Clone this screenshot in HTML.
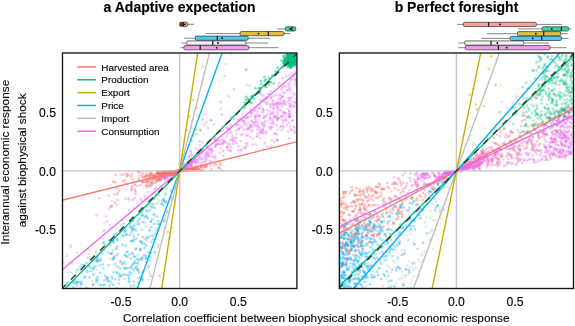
<!DOCTYPE html>
<html><head><meta charset="utf-8"><style>
html,body{margin:0;padding:0;background:#fff;}
svg{display:block;will-change:transform;font-family:"Liberation Sans",sans-serif;}
text{stroke:#000;stroke-width:0.12px;}
.p circle{r:1.35px;}
</style></head><body>
<svg width="575" height="326" viewBox="0 0 575 326">
<defs><filter id="soft" x="0" y="0" width="100%" height="100%"><feGaussianBlur stdDeviation="0.3"/></filter></defs>
<rect width="575" height="326" fill="#fff"/>
<text x="179.6" y="12.0" font-size="14" font-weight="bold" text-anchor="middle">a Adaptive expectation</text>
<text x="456.5" y="12.0" font-size="14" font-weight="bold" text-anchor="middle">b Perfect foresight</text>
<clipPath id="clipL"><rect x="62.5" y="53.0" width="234.40" height="235.50"/></clipPath>
<g clip-path="url(#clipL)">
<g class="p" filter="url(#soft)"><g fill="#BEBEBE" fill-opacity="0.45"><circle cx="174.4" cy="188.7"/><circle cx="113.5" cy="285.3"/><circle cx="92.8" cy="284.6"/><circle cx="149.4" cy="230.6"/><circle cx="92.2" cy="281.0"/><circle cx="120.4" cy="231.7"/><circle cx="81.6" cy="264.3"/><circle cx="186.4" cy="164.0"/><circle cx="197.3" cy="115.5"/><circle cx="145.1" cy="238.8"/><circle cx="73.8" cy="283.1"/><circle cx="94.1" cy="283.3"/><circle cx="131.1" cy="258.1"/><circle cx="154.2" cy="203.9"/><circle cx="87.8" cy="271.8"/><circle cx="145.5" cy="258.8"/><circle cx="137.8" cy="270.3"/><circle cx="87.0" cy="249.6"/><circle cx="165.7" cy="201.5"/><circle cx="125.4" cy="216.4"/><circle cx="148.0" cy="206.7"/><circle cx="138.0" cy="223.8"/><circle cx="69.4" cy="264.2"/><circle cx="80.5" cy="287.5"/><circle cx="246.5" cy="84.8"/><circle cx="159.5" cy="245.2"/><circle cx="155.0" cy="208.0"/><circle cx="195.6" cy="148.2"/><circle cx="103.4" cy="238.8"/><circle cx="135.7" cy="249.4"/><circle cx="128.8" cy="278.5"/><circle cx="70.6" cy="245.5"/><circle cx="117.5" cy="266.2"/><circle cx="190.0" cy="132.0"/><circle cx="137.8" cy="255.1"/><circle cx="148.5" cy="265.9"/><circle cx="188.7" cy="137.4"/><circle cx="87.4" cy="257.9"/><circle cx="125.6" cy="268.2"/><circle cx="122.5" cy="236.8"/><circle cx="67.1" cy="255.9"/><circle cx="109.9" cy="281.6"/><circle cx="136.6" cy="224.5"/><circle cx="107.9" cy="280.9"/><circle cx="132.8" cy="234.6"/><circle cx="95.9" cy="251.0"/><circle cx="165.4" cy="192.7"/><circle cx="170.9" cy="190.8"/><circle cx="96.4" cy="253.3"/><circle cx="157.5" cy="203.4"/><circle cx="131.1" cy="285.0"/><circle cx="118.2" cy="253.5"/><circle cx="88.5" cy="254.5"/><circle cx="133.5" cy="239.5"/><circle cx="158.9" cy="195.3"/><circle cx="152.0" cy="203.7"/><circle cx="68.2" cy="272.3"/><circle cx="142.8" cy="259.8"/><circle cx="113.4" cy="238.9"/><circle cx="130.4" cy="227.4"/><circle cx="111.4" cy="253.9"/><circle cx="117.4" cy="234.1"/><circle cx="145.0" cy="199.3"/><circle cx="138.4" cy="278.2"/><circle cx="148.7" cy="255.5"/><circle cx="102.6" cy="243.2"/><circle cx="191.5" cy="126.6"/><circle cx="156.4" cy="189.1"/><circle cx="113.1" cy="238.4"/><circle cx="110.1" cy="282.9"/><circle cx="146.4" cy="240.3"/><circle cx="130.2" cy="232.9"/><circle cx="154.7" cy="192.6"/><circle cx="141.8" cy="200.7"/><circle cx="119.4" cy="233.2"/><circle cx="151.0" cy="276.0"/><circle cx="146.1" cy="198.3"/><circle cx="131.1" cy="241.1"/><circle cx="96.6" cy="270.0"/><circle cx="102.4" cy="254.3"/><circle cx="164.1" cy="199.6"/><circle cx="126.2" cy="256.9"/><circle cx="92.0" cy="260.3"/><circle cx="74.8" cy="281.7"/><circle cx="76.2" cy="272.0"/><circle cx="71.1" cy="272.6"/><circle cx="93.8" cy="266.9"/><circle cx="143.0" cy="237.4"/><circle cx="164.0" cy="221.2"/><circle cx="149.7" cy="273.3"/><circle cx="63.2" cy="262.3"/><circle cx="119.7" cy="276.5"/><circle cx="70.9" cy="247.2"/><circle cx="104.4" cy="250.6"/><circle cx="204.7" cy="125.4"/><circle cx="111.4" cy="228.1"/><circle cx="203.1" cy="66.7"/><circle cx="152.9" cy="204.5"/><circle cx="185.3" cy="153.0"/><circle cx="77.1" cy="252.6"/><circle cx="141.3" cy="258.8"/><circle cx="104.5" cy="223.0"/><circle cx="71.9" cy="263.1"/><circle cx="146.0" cy="238.8"/><circle cx="187.5" cy="161.8"/><circle cx="117.1" cy="266.8"/><circle cx="89.7" cy="250.1"/><circle cx="145.4" cy="244.9"/><circle cx="156.1" cy="187.7"/><circle cx="110.8" cy="281.3"/><circle cx="170.3" cy="199.5"/><circle cx="142.8" cy="236.9"/><circle cx="158.8" cy="200.6"/><circle cx="99.6" cy="284.6"/><circle cx="189.0" cy="133.3"/><circle cx="98.0" cy="283.3"/><circle cx="156.8" cy="228.9"/><circle cx="118.9" cy="276.4"/><circle cx="184.0" cy="166.4"/><circle cx="133.4" cy="208.0"/><circle cx="137.8" cy="269.6"/><circle cx="249.4" cy="85.6"/><circle cx="148.4" cy="280.0"/><circle cx="230.5" cy="54.1"/><circle cx="220.8" cy="108.9"/><circle cx="130.9" cy="227.5"/><circle cx="165.9" cy="201.4"/><circle cx="122.0" cy="220.0"/><circle cx="119.5" cy="231.8"/><circle cx="110.1" cy="258.4"/><circle cx="155.9" cy="238.2"/><circle cx="167.0" cy="212.7"/><circle cx="131.8" cy="268.7"/><circle cx="125.7" cy="264.1"/><circle cx="112.7" cy="250.4"/><circle cx="165.9" cy="216.0"/><circle cx="141.1" cy="259.9"/><circle cx="150.7" cy="276.2"/><circle cx="137.4" cy="262.8"/><circle cx="225.8" cy="63.9"/><circle cx="158.1" cy="247.2"/><circle cx="191.2" cy="128.7"/><circle cx="130.2" cy="258.9"/><circle cx="132.3" cy="252.6"/><circle cx="157.0" cy="223.6"/><circle cx="115.9" cy="248.0"/><circle cx="166.3" cy="188.7"/><circle cx="113.3" cy="257.5"/><circle cx="151.7" cy="199.3"/><circle cx="129.3" cy="267.8"/><circle cx="146.4" cy="226.3"/><circle cx="144.9" cy="222.7"/><circle cx="124.5" cy="278.8"/><circle cx="155.0" cy="252.3"/><circle cx="138.5" cy="219.9"/><circle cx="103.2" cy="230.8"/><circle cx="141.7" cy="258.0"/><circle cx="80.1" cy="270.5"/><circle cx="130.4" cy="286.3"/><circle cx="171.2" cy="191.2"/><circle cx="99.8" cy="260.2"/></g><g fill="#C9A800" fill-opacity="0.45"><circle cx="196.3" cy="134.1"/><circle cx="167.2" cy="211.6"/><circle cx="192.5" cy="135.2"/><circle cx="159.6" cy="275.8"/><circle cx="171.9" cy="227.6"/><circle cx="164.3" cy="221.3"/><circle cx="196.3" cy="107.8"/><circle cx="204.1" cy="73.1"/><circle cx="193.3" cy="100.1"/><circle cx="183.9" cy="157.9"/><circle cx="189.4" cy="116.3"/><circle cx="195.9" cy="129.9"/><circle cx="167.6" cy="231.9"/><circle cx="186.6" cy="130.1"/><circle cx="220.9" cy="102.2"/><circle cx="169.5" cy="237.8"/></g><g fill="#00B0F6" fill-opacity="0.36"><circle cx="133.1" cy="221.2"/><circle cx="102.7" cy="264.5"/><circle cx="129.9" cy="226.2"/><circle cx="99.9" cy="265.5"/><circle cx="109.5" cy="286.1"/><circle cx="124.8" cy="254.9"/><circle cx="97.4" cy="277.2"/><circle cx="82.9" cy="265.4"/><circle cx="138.0" cy="234.6"/><circle cx="146.3" cy="210.6"/><circle cx="139.8" cy="248.6"/><circle cx="147.8" cy="218.2"/><circle cx="159.2" cy="224.2"/><circle cx="113.2" cy="241.1"/><circle cx="164.1" cy="200.8"/><circle cx="139.6" cy="212.4"/><circle cx="100.1" cy="272.8"/><circle cx="129.8" cy="235.3"/><circle cx="117.1" cy="246.5"/><circle cx="132.3" cy="226.8"/><circle cx="142.5" cy="215.1"/><circle cx="151.2" cy="221.6"/><circle cx="127.4" cy="251.7"/><circle cx="144.0" cy="255.3"/><circle cx="146.1" cy="206.3"/><circle cx="132.6" cy="253.9"/><circle cx="84.6" cy="265.2"/><circle cx="127.2" cy="275.0"/><circle cx="162.2" cy="203.9"/><circle cx="84.5" cy="277.9"/><circle cx="136.2" cy="230.5"/><circle cx="155.1" cy="252.5"/><circle cx="125.3" cy="230.3"/><circle cx="151.4" cy="242.0"/><circle cx="75.2" cy="283.7"/><circle cx="188.8" cy="156.6"/><circle cx="133.5" cy="270.1"/><circle cx="135.9" cy="248.7"/><circle cx="142.5" cy="208.8"/><circle cx="113.8" cy="234.6"/><circle cx="144.4" cy="243.8"/><circle cx="146.0" cy="257.7"/><circle cx="100.9" cy="259.0"/><circle cx="136.8" cy="266.3"/><circle cx="112.1" cy="253.3"/><circle cx="97.6" cy="280.2"/><circle cx="110.5" cy="253.9"/><circle cx="191.6" cy="140.7"/><circle cx="113.5" cy="242.6"/><circle cx="103.8" cy="242.2"/><circle cx="116.4" cy="233.7"/><circle cx="153.6" cy="207.4"/><circle cx="77.0" cy="285.6"/><circle cx="90.9" cy="270.9"/><circle cx="137.7" cy="263.5"/><circle cx="107.5" cy="277.6"/><circle cx="163.6" cy="205.6"/><circle cx="115.0" cy="235.7"/><circle cx="106.9" cy="277.8"/><circle cx="125.5" cy="245.7"/><circle cx="146.6" cy="246.0"/><circle cx="117.1" cy="273.1"/><circle cx="130.9" cy="267.5"/><circle cx="117.7" cy="240.3"/><circle cx="114.2" cy="258.2"/><circle cx="127.6" cy="256.6"/><circle cx="146.8" cy="261.9"/><circle cx="126.4" cy="234.6"/><circle cx="101.4" cy="251.8"/><circle cx="119.0" cy="273.5"/><circle cx="166.7" cy="203.0"/><circle cx="200.6" cy="130.1"/><circle cx="142.7" cy="215.9"/><circle cx="119.0" cy="283.6"/><circle cx="137.6" cy="287.4"/><circle cx="139.3" cy="224.2"/><circle cx="90.2" cy="267.6"/><circle cx="77.2" cy="281.9"/><circle cx="154.1" cy="224.2"/><circle cx="136.2" cy="238.7"/><circle cx="139.8" cy="218.7"/><circle cx="125.0" cy="227.7"/><circle cx="114.2" cy="256.7"/><circle cx="137.2" cy="258.9"/><circle cx="157.0" cy="234.1"/><circle cx="108.7" cy="265.1"/><circle cx="131.2" cy="240.7"/><circle cx="132.3" cy="220.3"/><circle cx="115.4" cy="279.4"/><circle cx="141.8" cy="242.0"/><circle cx="116.6" cy="272.0"/><circle cx="125.1" cy="268.7"/><circle cx="146.2" cy="258.5"/><circle cx="124.5" cy="231.9"/><circle cx="104.9" cy="244.6"/><circle cx="123.0" cy="263.2"/><circle cx="116.6" cy="249.0"/><circle cx="152.3" cy="219.4"/><circle cx="97.1" cy="258.7"/><circle cx="165.2" cy="194.6"/><circle cx="149.5" cy="204.3"/><circle cx="165.1" cy="227.8"/><circle cx="150.3" cy="256.9"/><circle cx="153.2" cy="239.2"/><circle cx="140.8" cy="242.1"/><circle cx="129.1" cy="280.7"/><circle cx="132.6" cy="228.8"/><circle cx="132.5" cy="229.4"/><circle cx="119.0" cy="279.5"/><circle cx="86.6" cy="263.2"/><circle cx="137.9" cy="269.7"/><circle cx="153.7" cy="198.7"/><circle cx="93.3" cy="274.4"/><circle cx="109.8" cy="243.2"/><circle cx="86.3" cy="287.5"/><circle cx="151.3" cy="207.6"/><circle cx="123.8" cy="223.6"/><circle cx="132.8" cy="264.7"/><circle cx="159.2" cy="224.5"/><circle cx="94.0" cy="260.3"/><circle cx="146.8" cy="216.5"/><circle cx="138.3" cy="282.5"/><circle cx="104.3" cy="280.4"/><circle cx="134.9" cy="263.2"/><circle cx="96.4" cy="281.3"/><circle cx="202.7" cy="119.4"/><circle cx="129.0" cy="275.2"/><circle cx="142.5" cy="257.6"/><circle cx="124.8" cy="231.1"/><circle cx="140.3" cy="276.9"/><circle cx="111.7" cy="241.1"/><circle cx="139.9" cy="259.3"/><circle cx="92.9" cy="268.6"/><circle cx="142.1" cy="280.3"/><circle cx="142.8" cy="222.0"/><circle cx="132.6" cy="241.3"/><circle cx="76.9" cy="282.4"/><circle cx="133.9" cy="240.4"/><circle cx="105.2" cy="276.0"/><circle cx="100.9" cy="285.2"/><circle cx="112.6" cy="259.8"/><circle cx="117.0" cy="287.9"/><circle cx="161.3" cy="204.2"/><circle cx="90.1" cy="259.1"/><circle cx="148.6" cy="237.4"/><circle cx="133.8" cy="281.6"/><circle cx="134.2" cy="225.7"/><circle cx="144.6" cy="248.0"/><circle cx="138.2" cy="260.1"/><circle cx="141.4" cy="213.8"/><circle cx="141.4" cy="211.3"/><circle cx="145.7" cy="255.8"/><circle cx="112.6" cy="284.3"/><circle cx="67.6" cy="282.3"/><circle cx="88.9" cy="265.7"/><circle cx="199.7" cy="141.4"/><circle cx="146.9" cy="237.4"/><circle cx="134.7" cy="260.8"/><circle cx="113.8" cy="272.4"/><circle cx="122.2" cy="264.7"/><circle cx="164.5" cy="219.5"/><circle cx="131.7" cy="265.8"/><circle cx="116.9" cy="255.4"/><circle cx="104.7" cy="284.8"/><circle cx="162.4" cy="200.3"/><circle cx="151.0" cy="253.0"/><circle cx="96.5" cy="260.9"/><circle cx="120.3" cy="275.0"/><circle cx="77.4" cy="269.9"/><circle cx="163.5" cy="199.1"/><circle cx="124.8" cy="274.7"/><circle cx="145.8" cy="215.6"/><circle cx="142.2" cy="208.5"/><circle cx="151.0" cy="227.2"/><circle cx="133.8" cy="237.0"/><circle cx="126.5" cy="252.0"/><circle cx="125.5" cy="255.4"/><circle cx="123.0" cy="274.5"/><circle cx="97.6" cy="261.3"/><circle cx="109.4" cy="245.0"/><circle cx="136.6" cy="268.7"/><circle cx="164.1" cy="202.1"/><circle cx="126.4" cy="234.4"/><circle cx="132.2" cy="231.5"/><circle cx="140.7" cy="250.1"/><circle cx="80.8" cy="284.4"/><circle cx="122.7" cy="234.8"/><circle cx="149.7" cy="210.2"/><circle cx="93.0" cy="285.1"/><circle cx="211.7" cy="120.7"/><circle cx="155.7" cy="233.7"/><circle cx="170.4" cy="197.3"/><circle cx="120.1" cy="268.4"/><circle cx="147.5" cy="211.5"/><circle cx="112.7" cy="278.5"/><circle cx="138.9" cy="272.4"/><circle cx="145.1" cy="217.1"/><circle cx="121.3" cy="276.2"/><circle cx="154.0" cy="214.0"/><circle cx="156.2" cy="230.6"/><circle cx="129.6" cy="254.5"/><circle cx="124.4" cy="236.0"/><circle cx="103.4" cy="268.1"/><circle cx="148.6" cy="266.8"/><circle cx="134.8" cy="267.8"/><circle cx="97.2" cy="256.8"/><circle cx="131.2" cy="273.7"/><circle cx="158.3" cy="221.3"/><circle cx="140.1" cy="241.0"/><circle cx="74.4" cy="280.4"/><circle cx="116.9" cy="238.7"/><circle cx="95.6" cy="266.7"/><circle cx="80.6" cy="267.2"/><circle cx="73.4" cy="287.4"/><circle cx="109.0" cy="240.3"/><circle cx="133.1" cy="229.2"/><circle cx="124.4" cy="261.9"/><circle cx="124.5" cy="267.9"/><circle cx="81.6" cy="281.6"/><circle cx="72.6" cy="282.4"/><circle cx="103.4" cy="285.1"/><circle cx="128.8" cy="282.4"/><circle cx="142.1" cy="272.5"/><circle cx="134.1" cy="256.6"/><circle cx="120.6" cy="262.4"/><circle cx="151.4" cy="206.2"/><circle cx="111.7" cy="276.9"/><circle cx="127.4" cy="268.0"/><circle cx="129.8" cy="272.2"/><circle cx="130.5" cy="223.4"/><circle cx="108.0" cy="252.7"/><circle cx="172.5" cy="198.7"/><circle cx="135.2" cy="257.0"/><circle cx="148.4" cy="252.4"/><circle cx="79.5" cy="282.2"/><circle cx="142.1" cy="229.6"/><circle cx="149.7" cy="230.0"/><circle cx="112.9" cy="240.7"/><circle cx="142.2" cy="279.6"/><circle cx="85.0" cy="276.7"/><circle cx="106.7" cy="278.9"/><circle cx="87.1" cy="271.5"/><circle cx="96.6" cy="257.3"/><circle cx="157.0" cy="216.6"/><circle cx="120.4" cy="261.0"/><circle cx="140.4" cy="249.7"/><circle cx="149.7" cy="260.5"/><circle cx="75.4" cy="275.7"/><circle cx="128.8" cy="277.7"/><circle cx="97.9" cy="260.1"/><circle cx="156.8" cy="194.4"/><circle cx="150.9" cy="235.8"/><circle cx="111.1" cy="241.1"/><circle cx="133.8" cy="285.9"/><circle cx="100.4" cy="260.8"/><circle cx="122.3" cy="244.9"/><circle cx="81.4" cy="283.9"/><circle cx="93.5" cy="268.6"/><circle cx="115.0" cy="263.9"/><circle cx="96.4" cy="279.5"/><circle cx="137.6" cy="221.5"/><circle cx="134.9" cy="229.6"/><circle cx="158.8" cy="228.2"/><circle cx="246.1" cy="69.9"/><circle cx="168.6" cy="213.0"/><circle cx="89.5" cy="277.4"/><circle cx="107.9" cy="280.7"/><circle cx="142.1" cy="243.2"/><circle cx="142.0" cy="278.2"/><circle cx="153.2" cy="235.8"/><circle cx="150.8" cy="221.8"/><circle cx="97.0" cy="261.1"/><circle cx="67.0" cy="284.2"/><circle cx="77.4" cy="282.7"/><circle cx="113.5" cy="258.7"/><circle cx="133.8" cy="263.0"/><circle cx="153.9" cy="215.5"/></g><g fill="#F8766D" fill-opacity="0.4"><circle cx="194.8" cy="169.8"/><circle cx="178.0" cy="171.3"/><circle cx="170.0" cy="174.0"/><circle cx="145.8" cy="181.4"/><circle cx="168.7" cy="171.9"/><circle cx="148.5" cy="181.8"/><circle cx="161.0" cy="176.1"/><circle cx="173.8" cy="172.4"/><circle cx="174.4" cy="172.0"/><circle cx="188.9" cy="170.7"/><circle cx="160.1" cy="175.4"/><circle cx="162.2" cy="177.1"/><circle cx="148.1" cy="179.0"/><circle cx="138.4" cy="181.5"/><circle cx="191.9" cy="169.3"/><circle cx="146.3" cy="175.0"/><circle cx="178.6" cy="171.2"/><circle cx="121.4" cy="174.8"/><circle cx="187.4" cy="170.6"/><circle cx="175.3" cy="171.8"/><circle cx="193.2" cy="169.7"/><circle cx="173.6" cy="173.7"/><circle cx="164.0" cy="178.1"/><circle cx="127.3" cy="184.2"/><circle cx="181.2" cy="170.8"/><circle cx="153.6" cy="179.1"/><circle cx="181.9" cy="170.9"/><circle cx="162.7" cy="174.3"/><circle cx="171.7" cy="171.8"/><circle cx="171.8" cy="174.1"/><circle cx="166.8" cy="172.2"/><circle cx="184.8" cy="170.6"/><circle cx="159.2" cy="179.3"/><circle cx="176.0" cy="171.3"/><circle cx="176.8" cy="171.5"/><circle cx="220.5" cy="163.5"/><circle cx="163.6" cy="174.0"/><circle cx="132.1" cy="174.0"/><circle cx="169.8" cy="172.2"/><circle cx="164.5" cy="171.7"/><circle cx="164.8" cy="172.2"/><circle cx="156.7" cy="177.4"/><circle cx="172.0" cy="171.6"/><circle cx="170.7" cy="171.9"/><circle cx="164.4" cy="173.7"/><circle cx="174.5" cy="173.3"/><circle cx="172.4" cy="171.7"/><circle cx="169.3" cy="172.6"/><circle cx="168.3" cy="173.1"/><circle cx="183.8" cy="170.6"/><circle cx="178.5" cy="171.2"/><circle cx="167.1" cy="173.3"/><circle cx="177.3" cy="171.1"/><circle cx="157.0" cy="176.7"/><circle cx="185.7" cy="170.4"/><circle cx="195.0" cy="168.8"/><circle cx="176.6" cy="172.0"/><circle cx="164.7" cy="173.6"/><circle cx="146.2" cy="186.2"/><circle cx="169.5" cy="173.2"/><circle cx="175.9" cy="171.9"/><circle cx="168.7" cy="172.4"/><circle cx="162.6" cy="172.6"/><circle cx="124.5" cy="180.4"/><circle cx="178.4" cy="171.0"/><circle cx="157.4" cy="172.6"/><circle cx="177.8" cy="171.0"/><circle cx="190.5" cy="168.5"/><circle cx="170.4" cy="172.1"/><circle cx="171.0" cy="171.2"/><circle cx="183.2" cy="170.3"/><circle cx="155.2" cy="178.6"/><circle cx="180.7" cy="170.7"/><circle cx="163.0" cy="176.8"/><circle cx="185.7" cy="170.6"/><circle cx="147.9" cy="181.9"/><circle cx="186.8" cy="170.6"/><circle cx="178.7" cy="171.0"/><circle cx="141.9" cy="181.8"/><circle cx="178.0" cy="171.2"/><circle cx="178.7" cy="171.2"/><circle cx="147.2" cy="187.4"/><circle cx="178.7" cy="171.0"/><circle cx="178.8" cy="171.1"/><circle cx="187.7" cy="169.8"/><circle cx="131.7" cy="190.0"/><circle cx="158.5" cy="181.0"/><circle cx="169.5" cy="171.2"/><circle cx="172.4" cy="172.3"/><circle cx="196.4" cy="169.5"/><circle cx="134.7" cy="183.9"/><circle cx="178.9" cy="171.1"/><circle cx="181.1" cy="170.7"/><circle cx="154.3" cy="176.3"/><circle cx="173.8" cy="172.1"/><circle cx="131.5" cy="189.2"/><circle cx="175.0" cy="171.4"/><circle cx="178.4" cy="171.5"/><circle cx="164.3" cy="172.1"/><circle cx="175.9" cy="171.3"/><circle cx="178.6" cy="171.1"/><circle cx="178.4" cy="171.4"/><circle cx="151.2" cy="173.7"/><circle cx="178.1" cy="171.3"/><circle cx="166.7" cy="174.1"/><circle cx="196.7" cy="169.5"/><circle cx="160.0" cy="178.3"/><circle cx="187.3" cy="170.0"/><circle cx="143.4" cy="173.3"/><circle cx="202.5" cy="170.1"/><circle cx="175.3" cy="171.3"/><circle cx="183.8" cy="170.2"/><circle cx="178.7" cy="171.0"/><circle cx="192.6" cy="170.2"/><circle cx="161.8" cy="171.5"/><circle cx="169.8" cy="175.1"/><circle cx="184.0" cy="170.6"/><circle cx="178.4" cy="171.2"/><circle cx="183.0" cy="170.5"/><circle cx="192.5" cy="169.2"/><circle cx="184.4" cy="170.0"/><circle cx="125.7" cy="198.7"/><circle cx="171.9" cy="172.9"/><circle cx="179.0" cy="171.0"/><circle cx="170.6" cy="173.0"/><circle cx="153.3" cy="176.4"/><circle cx="167.0" cy="171.9"/><circle cx="175.2" cy="171.5"/><circle cx="174.7" cy="173.3"/><circle cx="167.5" cy="172.8"/><circle cx="124.0" cy="174.7"/><circle cx="145.9" cy="175.7"/><circle cx="138.9" cy="178.7"/><circle cx="169.8" cy="172.1"/><circle cx="173.4" cy="171.1"/><circle cx="169.4" cy="174.4"/><circle cx="186.1" cy="170.0"/><circle cx="145.4" cy="181.5"/><circle cx="174.4" cy="172.0"/><circle cx="179.2" cy="171.0"/><circle cx="177.3" cy="171.8"/><circle cx="175.8" cy="171.9"/><circle cx="171.5" cy="173.5"/><circle cx="158.9" cy="174.1"/><circle cx="185.6" cy="170.3"/><circle cx="179.1" cy="171.0"/><circle cx="178.6" cy="171.4"/><circle cx="175.5" cy="172.4"/><circle cx="173.7" cy="171.9"/><circle cx="180.1" cy="170.9"/><circle cx="197.7" cy="170.2"/><circle cx="172.7" cy="172.8"/><circle cx="164.9" cy="171.9"/><circle cx="169.6" cy="175.8"/><circle cx="184.9" cy="170.4"/><circle cx="152.2" cy="180.3"/><circle cx="114.6" cy="194.3"/><circle cx="139.5" cy="175.8"/><circle cx="152.2" cy="182.5"/><circle cx="176.5" cy="171.5"/><circle cx="180.7" cy="170.8"/><circle cx="180.8" cy="170.8"/><circle cx="177.5" cy="171.1"/><circle cx="148.3" cy="179.3"/><circle cx="161.9" cy="174.3"/><circle cx="169.8" cy="174.7"/><circle cx="175.8" cy="171.6"/><circle cx="150.6" cy="176.9"/><circle cx="173.6" cy="171.3"/><circle cx="175.2" cy="171.3"/><circle cx="159.3" cy="172.5"/><circle cx="199.1" cy="169.2"/><circle cx="168.7" cy="173.4"/><circle cx="110.3" cy="206.9"/><circle cx="155.3" cy="176.3"/><circle cx="177.1" cy="171.0"/><circle cx="178.8" cy="171.0"/><circle cx="160.8" cy="173.6"/><circle cx="164.9" cy="174.1"/><circle cx="176.7" cy="171.5"/><circle cx="168.0" cy="172.1"/><circle cx="185.9" cy="170.5"/><circle cx="193.0" cy="169.9"/><circle cx="175.3" cy="172.0"/><circle cx="175.4" cy="172.4"/><circle cx="151.1" cy="179.1"/><circle cx="174.4" cy="171.3"/><circle cx="158.8" cy="173.6"/><circle cx="191.5" cy="168.9"/><circle cx="166.6" cy="171.7"/><circle cx="165.5" cy="172.5"/><circle cx="149.6" cy="186.1"/><circle cx="201.0" cy="170.5"/><circle cx="158.5" cy="173.0"/><circle cx="174.0" cy="171.7"/><circle cx="176.1" cy="172.2"/><circle cx="182.9" cy="170.8"/><circle cx="163.0" cy="172.8"/><circle cx="164.4" cy="171.5"/><circle cx="147.2" cy="182.5"/><circle cx="189.4" cy="169.7"/><circle cx="165.6" cy="171.2"/><circle cx="146.2" cy="177.5"/><circle cx="191.5" cy="170.7"/><circle cx="200.1" cy="170.6"/><circle cx="182.8" cy="170.5"/><circle cx="173.9" cy="172.6"/><circle cx="172.3" cy="172.9"/><circle cx="162.4" cy="173.6"/><circle cx="119.1" cy="190.9"/><circle cx="117.9" cy="200.2"/><circle cx="156.1" cy="173.8"/><circle cx="128.1" cy="175.2"/><circle cx="149.8" cy="175.1"/><circle cx="143.2" cy="182.4"/><circle cx="161.7" cy="176.5"/><circle cx="183.4" cy="170.5"/><circle cx="170.3" cy="172.4"/><circle cx="171.1" cy="173.9"/><circle cx="172.5" cy="172.2"/><circle cx="194.2" cy="168.9"/><circle cx="165.1" cy="175.2"/><circle cx="147.0" cy="172.1"/><circle cx="154.6" cy="175.0"/><circle cx="165.6" cy="173.8"/><circle cx="173.8" cy="172.2"/><circle cx="158.2" cy="171.4"/><circle cx="174.0" cy="171.5"/><circle cx="192.7" cy="169.3"/><circle cx="164.3" cy="173.7"/><circle cx="173.8" cy="172.6"/><circle cx="151.3" cy="183.5"/><circle cx="204.2" cy="165.9"/><circle cx="175.4" cy="171.2"/><circle cx="159.2" cy="178.8"/><circle cx="205.5" cy="167.1"/><circle cx="195.0" cy="167.4"/><circle cx="177.9" cy="171.0"/><circle cx="177.2" cy="171.4"/><circle cx="183.0" cy="170.5"/><circle cx="173.5" cy="173.9"/><circle cx="168.0" cy="173.8"/><circle cx="157.3" cy="172.5"/><circle cx="177.5" cy="171.9"/><circle cx="164.6" cy="171.8"/><circle cx="193.6" cy="170.4"/><circle cx="164.4" cy="178.1"/><circle cx="182.3" cy="170.6"/><circle cx="152.5" cy="175.8"/><circle cx="158.3" cy="174.4"/><circle cx="182.6" cy="170.8"/><circle cx="144.0" cy="176.9"/><circle cx="176.0" cy="172.7"/><circle cx="173.5" cy="173.9"/><circle cx="210.6" cy="165.6"/><circle cx="146.7" cy="185.3"/><circle cx="181.9" cy="170.9"/><circle cx="199.0" cy="170.0"/><circle cx="169.8" cy="173.1"/><circle cx="168.0" cy="172.1"/><circle cx="201.2" cy="166.8"/><circle cx="174.2" cy="172.8"/><circle cx="171.4" cy="174.1"/><circle cx="157.2" cy="179.2"/><circle cx="197.1" cy="170.3"/><circle cx="184.6" cy="169.7"/><circle cx="187.7" cy="170.1"/><circle cx="115.7" cy="174.6"/><circle cx="172.4" cy="171.7"/><circle cx="218.3" cy="161.8"/><circle cx="165.2" cy="178.1"/><circle cx="185.8" cy="169.5"/><circle cx="171.2" cy="172.0"/><circle cx="151.7" cy="181.9"/><circle cx="183.6" cy="170.1"/><circle cx="176.9" cy="171.4"/><circle cx="194.0" cy="168.6"/><circle cx="169.2" cy="171.6"/><circle cx="182.9" cy="170.5"/><circle cx="157.9" cy="174.0"/><circle cx="174.0" cy="173.6"/><circle cx="176.7" cy="171.3"/><circle cx="156.1" cy="177.9"/><circle cx="161.3" cy="175.7"/><circle cx="176.6" cy="171.2"/><circle cx="214.9" cy="162.7"/><circle cx="177.7" cy="171.3"/><circle cx="159.2" cy="179.2"/><circle cx="158.2" cy="177.0"/><circle cx="172.7" cy="171.4"/><circle cx="130.9" cy="177.6"/><circle cx="170.5" cy="171.4"/><circle cx="171.2" cy="172.0"/><circle cx="126.9" cy="176.7"/><circle cx="176.7" cy="171.1"/><circle cx="164.8" cy="173.5"/><circle cx="163.9" cy="173.2"/><circle cx="115.4" cy="182.2"/><circle cx="171.3" cy="172.3"/><circle cx="167.5" cy="174.2"/><circle cx="169.8" cy="172.0"/><circle cx="191.2" cy="169.9"/><circle cx="167.4" cy="176.7"/><circle cx="193.5" cy="168.8"/><circle cx="149.2" cy="174.2"/><circle cx="149.5" cy="176.9"/><circle cx="138.1" cy="180.1"/><circle cx="165.4" cy="172.6"/><circle cx="166.6" cy="173.9"/><circle cx="175.7" cy="172.0"/><circle cx="169.3" cy="173.5"/><circle cx="169.9" cy="171.6"/><circle cx="116.6" cy="188.3"/><circle cx="174.1" cy="171.9"/><circle cx="159.4" cy="179.1"/><circle cx="185.0" cy="170.1"/><circle cx="166.0" cy="174.6"/><circle cx="148.9" cy="176.4"/><circle cx="180.9" cy="170.6"/><circle cx="177.4" cy="171.4"/><circle cx="167.0" cy="171.9"/><circle cx="175.4" cy="172.6"/><circle cx="195.0" cy="170.7"/><circle cx="160.3" cy="174.1"/><circle cx="163.5" cy="172.7"/><circle cx="175.2" cy="172.5"/><circle cx="172.1" cy="173.3"/><circle cx="172.9" cy="173.6"/><circle cx="171.5" cy="174.8"/><circle cx="178.0" cy="170.9"/><circle cx="171.6" cy="173.3"/><circle cx="196.5" cy="167.5"/><circle cx="170.2" cy="172.2"/><circle cx="155.5" cy="175.6"/><circle cx="196.6" cy="167.7"/><circle cx="177.7" cy="171.4"/><circle cx="177.3" cy="171.9"/><circle cx="171.5" cy="171.9"/><circle cx="170.4" cy="175.0"/><circle cx="175.7" cy="171.5"/><circle cx="173.8" cy="171.5"/><circle cx="156.9" cy="180.2"/><circle cx="161.9" cy="176.4"/><circle cx="170.0" cy="172.0"/><circle cx="203.2" cy="167.9"/><circle cx="183.0" cy="170.4"/><circle cx="168.2" cy="171.5"/><circle cx="166.8" cy="173.7"/><circle cx="185.9" cy="170.8"/><circle cx="158.8" cy="173.4"/><circle cx="173.0" cy="171.3"/><circle cx="180.2" cy="170.8"/><circle cx="192.0" cy="169.2"/><circle cx="167.1" cy="172.3"/><circle cx="205.9" cy="165.9"/><circle cx="176.0" cy="171.1"/><circle cx="169.1" cy="174.8"/><circle cx="172.6" cy="174.2"/><circle cx="164.9" cy="174.8"/><circle cx="175.5" cy="171.2"/><circle cx="184.7" cy="169.9"/><circle cx="178.6" cy="171.1"/><circle cx="177.5" cy="171.1"/><circle cx="171.5" cy="171.4"/><circle cx="177.4" cy="171.2"/><circle cx="156.4" cy="182.3"/><circle cx="173.8" cy="171.1"/><circle cx="140.9" cy="172.4"/><circle cx="162.5" cy="173.4"/><circle cx="181.1" cy="170.8"/><circle cx="173.6" cy="172.4"/><circle cx="179.0" cy="171.0"/><circle cx="178.8" cy="171.0"/><circle cx="181.0" cy="170.6"/><circle cx="171.0" cy="172.7"/><circle cx="167.0" cy="172.9"/><circle cx="142.0" cy="182.0"/><circle cx="175.8" cy="171.9"/><circle cx="185.4" cy="169.9"/><circle cx="172.8" cy="172.2"/><circle cx="173.4" cy="171.8"/><circle cx="142.3" cy="177.1"/><circle cx="156.8" cy="173.5"/><circle cx="180.6" cy="170.9"/><circle cx="173.6" cy="171.1"/><circle cx="169.0" cy="175.9"/><circle cx="176.1" cy="171.5"/><circle cx="198.2" cy="166.8"/><circle cx="164.3" cy="173.2"/><circle cx="167.0" cy="173.2"/><circle cx="168.9" cy="172.7"/><circle cx="173.3" cy="171.7"/><circle cx="149.9" cy="185.5"/><circle cx="173.5" cy="171.5"/><circle cx="160.0" cy="175.6"/><circle cx="177.7" cy="171.6"/><circle cx="192.4" cy="169.6"/><circle cx="161.1" cy="173.0"/><circle cx="183.3" cy="170.5"/><circle cx="168.7" cy="172.1"/><circle cx="211.6" cy="169.0"/><circle cx="187.5" cy="169.0"/><circle cx="158.8" cy="173.6"/><circle cx="155.3" cy="177.3"/><circle cx="199.8" cy="169.4"/><circle cx="176.7" cy="171.6"/><circle cx="182.3" cy="170.6"/><circle cx="197.9" cy="168.9"/><circle cx="205.0" cy="167.0"/><circle cx="182.4" cy="170.3"/><circle cx="185.0" cy="170.1"/><circle cx="178.4" cy="171.2"/><circle cx="218.8" cy="167.8"/><circle cx="178.8" cy="171.1"/><circle cx="151.8" cy="184.7"/><circle cx="149.1" cy="180.7"/><circle cx="169.7" cy="172.4"/><circle cx="150.7" cy="175.2"/><circle cx="150.2" cy="179.2"/><circle cx="173.8" cy="171.8"/><circle cx="178.4" cy="171.0"/><circle cx="161.2" cy="173.7"/><circle cx="201.5" cy="165.7"/><circle cx="183.6" cy="170.0"/><circle cx="170.4" cy="171.6"/><circle cx="170.2" cy="172.5"/><circle cx="166.2" cy="177.1"/><circle cx="159.6" cy="176.4"/><circle cx="166.3" cy="172.7"/><circle cx="175.6" cy="171.1"/><circle cx="154.3" cy="176.8"/><circle cx="166.4" cy="173.5"/><circle cx="172.1" cy="174.1"/><circle cx="187.2" cy="169.6"/><circle cx="160.8" cy="173.6"/><circle cx="160.7" cy="176.1"/><circle cx="176.5" cy="171.8"/><circle cx="171.5" cy="172.1"/><circle cx="123.2" cy="181.1"/><circle cx="177.9" cy="171.2"/><circle cx="181.7" cy="170.6"/><circle cx="151.9" cy="173.5"/><circle cx="188.4" cy="169.1"/><circle cx="221.0" cy="169.8"/><circle cx="177.0" cy="171.8"/><circle cx="182.3" cy="170.4"/><circle cx="174.1" cy="172.2"/><circle cx="195.7" cy="170.1"/><circle cx="111.9" cy="205.6"/><circle cx="158.8" cy="180.7"/><circle cx="178.7" cy="171.2"/><circle cx="167.1" cy="175.2"/><circle cx="178.9" cy="171.0"/><circle cx="127.5" cy="174.9"/><circle cx="200.6" cy="167.2"/><circle cx="170.8" cy="171.1"/><circle cx="174.2" cy="171.3"/><circle cx="181.1" cy="170.6"/><circle cx="138.9" cy="172.4"/><circle cx="182.8" cy="170.5"/><circle cx="170.3" cy="173.9"/><circle cx="203.8" cy="170.6"/><circle cx="218.9" cy="167.7"/><circle cx="192.5" cy="169.8"/><circle cx="174.0" cy="172.9"/><circle cx="153.4" cy="175.4"/><circle cx="186.3" cy="170.4"/><circle cx="177.0" cy="171.4"/><circle cx="167.5" cy="173.1"/><circle cx="171.3" cy="172.9"/><circle cx="157.8" cy="174.8"/><circle cx="172.8" cy="172.6"/><circle cx="171.4" cy="173.9"/><circle cx="216.5" cy="164.9"/><circle cx="176.6" cy="171.6"/><circle cx="172.3" cy="174.2"/><circle cx="135.2" cy="185.1"/><circle cx="169.4" cy="173.4"/><circle cx="160.3" cy="172.5"/><circle cx="177.4" cy="171.4"/><circle cx="197.8" cy="167.4"/><circle cx="193.3" cy="167.9"/><circle cx="184.1" cy="170.7"/><circle cx="126.4" cy="173.5"/><circle cx="180.6" cy="170.8"/><circle cx="150.3" cy="172.9"/><circle cx="115.1" cy="202.9"/><circle cx="178.7" cy="171.2"/><circle cx="163.3" cy="174.5"/><circle cx="178.0" cy="171.3"/><circle cx="177.1" cy="171.0"/><circle cx="169.6" cy="173.5"/><circle cx="170.4" cy="172.1"/><circle cx="180.9" cy="170.7"/><circle cx="153.6" cy="179.2"/><circle cx="177.7" cy="171.1"/><circle cx="152.4" cy="174.6"/><circle cx="156.3" cy="180.9"/><circle cx="185.7" cy="170.1"/><circle cx="189.1" cy="169.3"/><circle cx="140.3" cy="185.0"/><circle cx="176.4" cy="172.0"/><circle cx="183.4" cy="170.7"/><circle cx="184.5" cy="170.5"/><circle cx="133.3" cy="179.6"/><circle cx="172.1" cy="174.6"/><circle cx="176.3" cy="171.2"/><circle cx="183.7" cy="170.4"/><circle cx="183.4" cy="170.2"/><circle cx="176.6" cy="171.9"/><circle cx="192.1" cy="169.5"/><circle cx="161.4" cy="178.9"/><circle cx="183.3" cy="170.1"/><circle cx="171.8" cy="174.3"/><circle cx="176.6" cy="172.1"/><circle cx="172.7" cy="172.8"/><circle cx="182.0" cy="170.5"/><circle cx="125.5" cy="183.6"/><circle cx="174.4" cy="173.0"/><circle cx="166.6" cy="172.3"/><circle cx="175.5" cy="171.5"/><circle cx="192.0" cy="168.8"/><circle cx="171.9" cy="174.9"/><circle cx="183.8" cy="170.0"/><circle cx="187.4" cy="169.2"/><circle cx="153.4" cy="183.0"/><circle cx="185.8" cy="169.4"/><circle cx="161.4" cy="175.6"/><circle cx="146.7" cy="175.8"/><circle cx="165.1" cy="176.7"/><circle cx="135.6" cy="192.1"/><circle cx="183.2" cy="170.0"/><circle cx="175.4" cy="171.9"/><circle cx="169.5" cy="172.2"/><circle cx="168.2" cy="173.5"/><circle cx="189.6" cy="168.8"/><circle cx="172.9" cy="173.0"/><circle cx="145.2" cy="176.9"/><circle cx="160.5" cy="174.8"/><circle cx="177.3" cy="172.0"/><circle cx="165.5" cy="172.3"/><circle cx="160.7" cy="180.4"/><circle cx="172.5" cy="171.5"/><circle cx="175.2" cy="172.0"/><circle cx="182.0" cy="170.4"/><circle cx="168.6" cy="173.5"/><circle cx="177.2" cy="171.5"/><circle cx="143.6" cy="177.3"/><circle cx="178.9" cy="171.3"/><circle cx="194.9" cy="168.1"/><circle cx="181.2" cy="170.7"/><circle cx="172.8" cy="173.6"/><circle cx="161.5" cy="173.1"/><circle cx="179.0" cy="171.1"/><circle cx="167.0" cy="176.9"/><circle cx="185.5" cy="170.3"/><circle cx="175.0" cy="171.9"/><circle cx="131.4" cy="175.6"/><circle cx="143.3" cy="181.5"/><circle cx="182.6" cy="170.8"/><circle cx="171.6" cy="172.0"/><circle cx="214.1" cy="164.6"/><circle cx="178.1" cy="171.2"/><circle cx="160.9" cy="179.2"/><circle cx="162.7" cy="171.6"/><circle cx="175.6" cy="171.6"/><circle cx="184.2" cy="170.6"/><circle cx="176.9" cy="172.0"/><circle cx="168.1" cy="173.0"/><circle cx="160.3" cy="177.9"/><circle cx="157.3" cy="177.6"/><circle cx="207.3" cy="164.9"/><circle cx="203.6" cy="165.9"/><circle cx="181.9" cy="170.6"/><circle cx="150.6" cy="178.3"/><circle cx="177.6" cy="171.5"/><circle cx="159.8" cy="178.2"/><circle cx="201.3" cy="167.1"/><circle cx="206.6" cy="167.1"/><circle cx="153.9" cy="176.6"/><circle cx="156.2" cy="179.9"/><circle cx="147.4" cy="175.1"/><circle cx="189.0" cy="170.7"/><circle cx="113.1" cy="181.7"/><circle cx="137.7" cy="171.9"/><circle cx="183.8" cy="170.6"/><circle cx="186.9" cy="170.6"/><circle cx="182.9" cy="170.7"/><circle cx="160.2" cy="174.1"/><circle cx="187.5" cy="169.9"/><circle cx="220.5" cy="165.3"/><circle cx="164.6" cy="172.6"/><circle cx="177.4" cy="171.0"/><circle cx="181.9" cy="170.5"/><circle cx="170.4" cy="171.8"/><circle cx="183.4" cy="170.6"/><circle cx="182.7" cy="170.3"/><circle cx="157.4" cy="171.7"/><circle cx="164.0" cy="171.5"/><circle cx="147.0" cy="179.3"/><circle cx="131.8" cy="187.0"/><circle cx="153.8" cy="178.4"/><circle cx="184.8" cy="170.6"/><circle cx="182.4" cy="170.3"/><circle cx="186.5" cy="169.6"/><circle cx="182.4" cy="170.4"/><circle cx="146.8" cy="180.3"/><circle cx="191.5" cy="170.7"/><circle cx="165.6" cy="172.8"/><circle cx="155.1" cy="175.4"/><circle cx="142.1" cy="175.1"/><circle cx="172.6" cy="172.7"/><circle cx="173.5" cy="172.8"/><circle cx="172.1" cy="172.2"/><circle cx="169.7" cy="172.1"/><circle cx="190.6" cy="169.0"/><circle cx="162.4" cy="176.0"/><circle cx="158.2" cy="173.7"/><circle cx="147.8" cy="184.1"/><circle cx="173.8" cy="171.5"/></g><g fill="#E76BF3" fill-opacity="0.36"><circle cx="161.9" cy="177.1"/><circle cx="289.7" cy="116.8"/><circle cx="280.9" cy="125.9"/><circle cx="275.3" cy="133.3"/><circle cx="254.4" cy="124.8"/><circle cx="259.7" cy="130.9"/><circle cx="210.3" cy="120.2"/><circle cx="247.5" cy="143.7"/><circle cx="273.5" cy="124.1"/><circle cx="260.4" cy="105.6"/><circle cx="183.5" cy="165.4"/><circle cx="287.7" cy="131.5"/><circle cx="280.6" cy="98.7"/><circle cx="250.7" cy="128.0"/><circle cx="257.4" cy="136.0"/><circle cx="99.2" cy="198.3"/><circle cx="202.3" cy="149.2"/><circle cx="271.5" cy="96.8"/><circle cx="165.7" cy="175.8"/><circle cx="128.7" cy="209.8"/><circle cx="199.5" cy="157.2"/><circle cx="248.8" cy="127.6"/><circle cx="244.0" cy="124.2"/><circle cx="296.3" cy="112.2"/><circle cx="291.3" cy="107.3"/><circle cx="197.7" cy="161.9"/><circle cx="250.5" cy="109.6"/><circle cx="294.4" cy="106.0"/><circle cx="296.5" cy="86.6"/><circle cx="108.5" cy="195.6"/><circle cx="248.5" cy="127.8"/><circle cx="290.4" cy="104.4"/><circle cx="289.0" cy="111.4"/><circle cx="288.6" cy="116.5"/><circle cx="249.8" cy="137.0"/><circle cx="262.9" cy="109.9"/><circle cx="294.8" cy="127.6"/><circle cx="195.1" cy="161.7"/><circle cx="213.2" cy="150.5"/><circle cx="263.6" cy="126.8"/><circle cx="282.3" cy="117.1"/><circle cx="207.0" cy="155.0"/><circle cx="281.8" cy="106.4"/><circle cx="217.6" cy="140.9"/><circle cx="262.3" cy="132.5"/><circle cx="108.9" cy="209.1"/><circle cx="257.9" cy="122.6"/><circle cx="295.4" cy="79.0"/><circle cx="294.8" cy="132.8"/><circle cx="242.6" cy="117.8"/><circle cx="246.4" cy="69.6"/><circle cx="251.0" cy="126.0"/><circle cx="184.0" cy="168.6"/><circle cx="230.3" cy="149.8"/><circle cx="207.5" cy="152.2"/><circle cx="195.0" cy="162.2"/><circle cx="206.4" cy="146.4"/><circle cx="270.7" cy="91.0"/><circle cx="192.3" cy="160.4"/><circle cx="214.4" cy="136.5"/><circle cx="294.9" cy="130.9"/><circle cx="281.1" cy="115.6"/><circle cx="218.0" cy="144.1"/><circle cx="215.8" cy="145.1"/><circle cx="191.8" cy="166.7"/><circle cx="191.2" cy="163.6"/><circle cx="285.6" cy="117.7"/><circle cx="192.2" cy="161.5"/><circle cx="277.0" cy="106.1"/><circle cx="293.5" cy="76.2"/><circle cx="188.6" cy="164.0"/><circle cx="275.5" cy="104.9"/><circle cx="291.6" cy="97.3"/><circle cx="183.9" cy="168.2"/><circle cx="224.7" cy="76.0"/><circle cx="165.4" cy="179.2"/><circle cx="271.1" cy="113.5"/><circle cx="190.9" cy="150.5"/><circle cx="219.7" cy="152.9"/><circle cx="244.7" cy="118.4"/><circle cx="229.4" cy="144.3"/><circle cx="190.7" cy="164.7"/><circle cx="236.7" cy="134.1"/><circle cx="250.8" cy="112.8"/><circle cx="258.4" cy="127.5"/><circle cx="230.9" cy="117.2"/><circle cx="235.0" cy="137.9"/><circle cx="223.6" cy="141.9"/><circle cx="270.4" cy="98.7"/><circle cx="279.2" cy="82.9"/><circle cx="134.9" cy="189.0"/><circle cx="154.2" cy="189.2"/><circle cx="195.2" cy="159.1"/><circle cx="262.0" cy="122.6"/><circle cx="221.5" cy="139.9"/><circle cx="280.4" cy="110.3"/><circle cx="277.0" cy="134.1"/><circle cx="240.9" cy="134.8"/><circle cx="192.1" cy="159.8"/><circle cx="210.4" cy="161.2"/><circle cx="280.5" cy="103.1"/><circle cx="257.8" cy="125.2"/><circle cx="260.2" cy="138.1"/><circle cx="211.4" cy="153.0"/><circle cx="212.7" cy="138.5"/><circle cx="207.5" cy="146.8"/><circle cx="251.3" cy="121.2"/><circle cx="112.2" cy="201.0"/><circle cx="289.8" cy="100.5"/><circle cx="292.0" cy="101.3"/><circle cx="208.2" cy="127.9"/><circle cx="287.1" cy="102.1"/><circle cx="292.4" cy="104.5"/><circle cx="274.0" cy="95.6"/><circle cx="275.3" cy="103.9"/><circle cx="283.6" cy="127.7"/><circle cx="152.6" cy="193.2"/><circle cx="277.3" cy="120.4"/><circle cx="96.7" cy="215.2"/><circle cx="262.7" cy="112.2"/><circle cx="216.7" cy="144.5"/><circle cx="241.8" cy="126.3"/><circle cx="274.9" cy="133.9"/><circle cx="200.2" cy="130.1"/><circle cx="187.8" cy="166.5"/><circle cx="182.5" cy="168.8"/><circle cx="289.5" cy="82.9"/><circle cx="249.9" cy="124.9"/><circle cx="131.5" cy="211.5"/><circle cx="259.9" cy="132.8"/><circle cx="195.5" cy="156.2"/><circle cx="107.3" cy="221.6"/><circle cx="295.0" cy="102.1"/><circle cx="192.6" cy="159.5"/><circle cx="278.5" cy="104.2"/><circle cx="197.1" cy="153.4"/><circle cx="289.2" cy="122.9"/><circle cx="184.4" cy="168.7"/><circle cx="105.9" cy="216.3"/><circle cx="280.1" cy="110.1"/><circle cx="264.2" cy="132.4"/><circle cx="266.0" cy="133.5"/><circle cx="273.5" cy="101.1"/><circle cx="290.3" cy="98.2"/><circle cx="189.2" cy="163.5"/><circle cx="269.8" cy="118.1"/><circle cx="186.8" cy="163.8"/><circle cx="277.6" cy="140.8"/><circle cx="284.8" cy="93.4"/><circle cx="267.3" cy="120.9"/><circle cx="291.0" cy="92.0"/><circle cx="290.4" cy="113.4"/><circle cx="294.2" cy="75.4"/><circle cx="277.7" cy="118.2"/><circle cx="284.5" cy="115.3"/><circle cx="246.6" cy="146.1"/><circle cx="295.0" cy="102.5"/><circle cx="273.5" cy="108.7"/><circle cx="285.5" cy="113.2"/><circle cx="248.3" cy="129.6"/><circle cx="199.4" cy="153.7"/><circle cx="281.3" cy="89.5"/><circle cx="256.1" cy="108.3"/><circle cx="251.2" cy="131.2"/><circle cx="289.3" cy="111.0"/><circle cx="274.8" cy="116.4"/><circle cx="269.4" cy="127.8"/><circle cx="267.3" cy="97.4"/><circle cx="188.7" cy="159.1"/><circle cx="254.0" cy="110.6"/><circle cx="274.4" cy="142.3"/><circle cx="239.3" cy="120.7"/><circle cx="167.2" cy="176.0"/><circle cx="243.6" cy="147.9"/><circle cx="213.9" cy="157.2"/><circle cx="278.0" cy="104.0"/><circle cx="277.5" cy="139.9"/><circle cx="240.8" cy="118.9"/><circle cx="199.1" cy="163.1"/><circle cx="296.5" cy="108.1"/><circle cx="186.4" cy="165.4"/><circle cx="206.3" cy="154.8"/><circle cx="232.9" cy="141.1"/><circle cx="242.5" cy="121.0"/><circle cx="256.1" cy="116.6"/><circle cx="270.2" cy="105.4"/><circle cx="282.7" cy="126.2"/><circle cx="137.5" cy="185.9"/><circle cx="250.8" cy="126.0"/><circle cx="245.7" cy="117.9"/><circle cx="201.8" cy="150.5"/><circle cx="278.5" cy="101.9"/><circle cx="232.2" cy="138.9"/><circle cx="138.4" cy="205.1"/><circle cx="184.1" cy="164.0"/><circle cx="194.8" cy="161.4"/><circle cx="229.5" cy="129.2"/><circle cx="267.2" cy="146.5"/><circle cx="236.9" cy="125.0"/><circle cx="259.6" cy="116.3"/><circle cx="238.6" cy="129.0"/><circle cx="247.4" cy="117.8"/><circle cx="286.5" cy="86.5"/><circle cx="231.5" cy="139.5"/><circle cx="277.5" cy="117.5"/><circle cx="197.2" cy="160.0"/><circle cx="255.4" cy="121.8"/><circle cx="182.0" cy="169.5"/><circle cx="208.6" cy="156.0"/><circle cx="288.6" cy="114.7"/><circle cx="263.9" cy="102.0"/><circle cx="272.1" cy="126.5"/><circle cx="200.5" cy="151.4"/><circle cx="282.7" cy="78.1"/><circle cx="257.2" cy="129.6"/><circle cx="260.6" cy="129.6"/><circle cx="191.9" cy="162.5"/><circle cx="259.5" cy="108.2"/><circle cx="247.5" cy="117.3"/><circle cx="202.7" cy="142.6"/><circle cx="199.2" cy="151.7"/><circle cx="282.9" cy="119.9"/><circle cx="272.4" cy="100.6"/><circle cx="264.0" cy="115.3"/><circle cx="191.0" cy="165.3"/><circle cx="263.2" cy="124.2"/><circle cx="273.1" cy="103.9"/><circle cx="263.1" cy="130.1"/><circle cx="134.9" cy="190.3"/><circle cx="223.3" cy="139.3"/><circle cx="222.8" cy="144.1"/><circle cx="227.2" cy="149.5"/><circle cx="288.7" cy="99.6"/><circle cx="257.5" cy="133.9"/><circle cx="279.1" cy="98.8"/><circle cx="209.3" cy="156.7"/><circle cx="220.6" cy="148.5"/><circle cx="240.6" cy="141.1"/><circle cx="261.1" cy="94.3"/><circle cx="247.7" cy="134.9"/><circle cx="288.0" cy="89.9"/><circle cx="140.9" cy="198.7"/><circle cx="280.6" cy="94.7"/><circle cx="295.9" cy="98.3"/><circle cx="282.7" cy="123.5"/><circle cx="290.8" cy="129.7"/><circle cx="205.4" cy="158.1"/><circle cx="234.1" cy="89.3"/><circle cx="229.7" cy="140.5"/><circle cx="211.7" cy="150.8"/><circle cx="289.7" cy="117.0"/><circle cx="273.0" cy="111.9"/><circle cx="257.3" cy="126.2"/><circle cx="253.6" cy="123.5"/><circle cx="254.9" cy="116.8"/><circle cx="186.9" cy="168.3"/><circle cx="270.6" cy="123.3"/><circle cx="296.3" cy="103.7"/><circle cx="187.5" cy="165.4"/><circle cx="290.4" cy="126.3"/><circle cx="238.7" cy="129.4"/><circle cx="132.6" cy="199.9"/><circle cx="246.0" cy="129.3"/><circle cx="188.2" cy="162.9"/><circle cx="243.5" cy="129.9"/><circle cx="211.8" cy="148.5"/><circle cx="239.0" cy="128.4"/><circle cx="183.3" cy="168.7"/><circle cx="259.4" cy="116.0"/><circle cx="281.7" cy="97.1"/><circle cx="270.0" cy="117.6"/><circle cx="193.6" cy="160.0"/><circle cx="214.9" cy="139.6"/><circle cx="266.5" cy="101.9"/><circle cx="222.7" cy="143.9"/><circle cx="288.4" cy="84.4"/><circle cx="273.7" cy="114.0"/><circle cx="287.0" cy="125.2"/><circle cx="276.7" cy="116.1"/><circle cx="271.6" cy="128.1"/><circle cx="280.8" cy="117.1"/><circle cx="290.7" cy="80.5"/><circle cx="196.8" cy="162.9"/><circle cx="285.8" cy="120.6"/><circle cx="184.1" cy="166.9"/><circle cx="289.6" cy="86.5"/><circle cx="293.6" cy="93.9"/><circle cx="117.7" cy="193.0"/><circle cx="267.9" cy="93.8"/><circle cx="211.0" cy="148.4"/><circle cx="285.4" cy="119.9"/><circle cx="240.7" cy="127.5"/><circle cx="250.8" cy="116.6"/><circle cx="278.2" cy="85.3"/><circle cx="229.2" cy="128.1"/><circle cx="272.7" cy="123.0"/><circle cx="280.1" cy="127.5"/><circle cx="227.0" cy="147.1"/><circle cx="207.4" cy="144.0"/><circle cx="202.3" cy="157.9"/><circle cx="273.8" cy="117.2"/><circle cx="255.9" cy="125.8"/><circle cx="285.0" cy="113.1"/><circle cx="206.5" cy="154.9"/><circle cx="199.7" cy="157.2"/><circle cx="238.2" cy="150.4"/><circle cx="206.7" cy="152.5"/><circle cx="238.6" cy="146.2"/><circle cx="291.2" cy="79.3"/><circle cx="264.8" cy="121.2"/><circle cx="267.2" cy="103.5"/><circle cx="251.5" cy="110.9"/><circle cx="261.6" cy="124.0"/><circle cx="293.6" cy="126.6"/><circle cx="255.8" cy="144.4"/><circle cx="273.8" cy="105.3"/><circle cx="209.2" cy="154.7"/><circle cx="195.9" cy="165.2"/><circle cx="246.1" cy="143.4"/><circle cx="191.3" cy="161.6"/><circle cx="182.8" cy="168.4"/><circle cx="223.2" cy="155.8"/><circle cx="126.1" cy="189.4"/><circle cx="245.7" cy="148.6"/><circle cx="207.0" cy="159.6"/><circle cx="244.3" cy="121.3"/><circle cx="281.9" cy="97.0"/><circle cx="215.2" cy="146.9"/><circle cx="189.2" cy="166.5"/><circle cx="209.7" cy="149.2"/><circle cx="236.8" cy="143.3"/><circle cx="252.6" cy="126.7"/><circle cx="200.6" cy="152.0"/><circle cx="176.8" cy="172.3"/><circle cx="233.2" cy="141.2"/><circle cx="281.9" cy="87.7"/><circle cx="215.5" cy="140.9"/><circle cx="222.9" cy="150.8"/><circle cx="145.0" cy="195.8"/><circle cx="167.3" cy="178.1"/><circle cx="195.0" cy="161.1"/><circle cx="184.8" cy="166.7"/><circle cx="295.9" cy="79.6"/><circle cx="263.7" cy="118.0"/><circle cx="265.6" cy="97.7"/><circle cx="295.7" cy="94.7"/><circle cx="183.9" cy="164.0"/><circle cx="216.4" cy="144.4"/><circle cx="288.5" cy="97.9"/><circle cx="264.6" cy="122.9"/><circle cx="211.1" cy="150.7"/><circle cx="290.2" cy="116.1"/><circle cx="283.1" cy="86.5"/><circle cx="206.4" cy="145.7"/><circle cx="205.6" cy="114.1"/><circle cx="222.1" cy="143.3"/><circle cx="230.8" cy="151.1"/><circle cx="283.0" cy="103.0"/><circle cx="259.7" cy="127.7"/><circle cx="201.4" cy="151.5"/><circle cx="292.0" cy="129.9"/><circle cx="270.1" cy="119.4"/><circle cx="191.7" cy="161.0"/><circle cx="285.0" cy="103.6"/><circle cx="277.8" cy="114.2"/><circle cx="289.4" cy="113.9"/><circle cx="256.0" cy="118.1"/><circle cx="191.6" cy="163.9"/><circle cx="206.3" cy="122.3"/><circle cx="278.8" cy="95.6"/><circle cx="269.9" cy="93.9"/><circle cx="295.2" cy="71.4"/><circle cx="272.7" cy="121.4"/><circle cx="208.9" cy="149.6"/><circle cx="219.9" cy="144.1"/><circle cx="250.9" cy="125.2"/><circle cx="234.9" cy="142.9"/><circle cx="270.1" cy="104.1"/><circle cx="258.6" cy="120.0"/><circle cx="266.6" cy="131.0"/><circle cx="184.0" cy="168.0"/><circle cx="117.0" cy="204.7"/><circle cx="272.4" cy="103.8"/><circle cx="226.7" cy="127.9"/><circle cx="282.5" cy="115.7"/><circle cx="287.0" cy="90.6"/><circle cx="263.8" cy="118.1"/><circle cx="128.6" cy="199.8"/><circle cx="228.0" cy="147.4"/><circle cx="282.7" cy="112.1"/><circle cx="251.1" cy="113.4"/><circle cx="288.1" cy="108.7"/><circle cx="187.3" cy="168.1"/><circle cx="276.1" cy="95.1"/><circle cx="196.3" cy="154.6"/><circle cx="278.0" cy="107.5"/><circle cx="199.8" cy="152.2"/><circle cx="289.8" cy="75.0"/><circle cx="273.7" cy="108.3"/><circle cx="282.0" cy="129.9"/><circle cx="285.3" cy="104.3"/><circle cx="182.8" cy="168.9"/><circle cx="258.8" cy="108.1"/><circle cx="263.8" cy="111.1"/><circle cx="188.5" cy="162.8"/><circle cx="231.2" cy="146.7"/><circle cx="214.2" cy="124.3"/><circle cx="265.8" cy="115.9"/><circle cx="289.4" cy="105.8"/><circle cx="212.1" cy="156.1"/><circle cx="265.6" cy="116.7"/><circle cx="189.6" cy="164.9"/><circle cx="186.0" cy="164.9"/><circle cx="185.7" cy="167.0"/><circle cx="254.6" cy="110.3"/><circle cx="208.2" cy="141.3"/><circle cx="150.3" cy="182.9"/><circle cx="238.5" cy="119.6"/><circle cx="240.5" cy="150.6"/><circle cx="284.4" cy="100.9"/><circle cx="290.1" cy="89.7"/><circle cx="295.5" cy="81.8"/><circle cx="258.1" cy="115.8"/><circle cx="252.3" cy="121.9"/><circle cx="261.5" cy="131.2"/><circle cx="202.1" cy="149.4"/><circle cx="182.0" cy="168.9"/><circle cx="135.5" cy="194.3"/><circle cx="289.6" cy="88.4"/><circle cx="277.6" cy="107.4"/><circle cx="266.9" cy="87.2"/><circle cx="260.5" cy="132.6"/><circle cx="199.6" cy="152.9"/><circle cx="223.7" cy="141.7"/><circle cx="190.7" cy="166.0"/><circle cx="190.9" cy="164.7"/><circle cx="186.0" cy="167.7"/><circle cx="215.4" cy="158.4"/><circle cx="234.8" cy="140.9"/><circle cx="235.9" cy="137.8"/><circle cx="247.8" cy="116.5"/><circle cx="232.8" cy="144.1"/><circle cx="132.4" cy="186.6"/><circle cx="283.9" cy="101.4"/><circle cx="242.2" cy="114.0"/><circle cx="220.1" cy="131.2"/><circle cx="202.1" cy="152.1"/><circle cx="233.4" cy="138.3"/><circle cx="201.7" cy="152.3"/><circle cx="216.2" cy="141.0"/><circle cx="266.3" cy="98.6"/><circle cx="289.4" cy="103.0"/><circle cx="254.0" cy="122.3"/><circle cx="183.3" cy="168.7"/><circle cx="272.3" cy="119.6"/><circle cx="198.2" cy="149.7"/><circle cx="184.8" cy="166.9"/><circle cx="228.7" cy="96.2"/><circle cx="185.6" cy="168.0"/><circle cx="238.5" cy="125.2"/><circle cx="281.8" cy="103.6"/><circle cx="266.5" cy="104.2"/><circle cx="284.5" cy="85.7"/><circle cx="248.2" cy="129.0"/><circle cx="271.8" cy="98.0"/><circle cx="290.9" cy="78.4"/><circle cx="227.3" cy="133.7"/><circle cx="134.6" cy="198.2"/><circle cx="270.5" cy="127.1"/><circle cx="232.6" cy="136.2"/><circle cx="188.8" cy="168.1"/><circle cx="293.9" cy="106.4"/><circle cx="205.4" cy="162.0"/><circle cx="204.7" cy="156.4"/><circle cx="229.3" cy="151.0"/><circle cx="205.4" cy="160.3"/><circle cx="171.0" cy="175.1"/><circle cx="227.7" cy="129.0"/><circle cx="164.7" cy="179.9"/><circle cx="231.4" cy="125.8"/><circle cx="278.7" cy="118.2"/><circle cx="277.1" cy="139.4"/><circle cx="208.6" cy="153.3"/><circle cx="231.8" cy="133.1"/><circle cx="241.2" cy="150.3"/><circle cx="233.8" cy="119.1"/><circle cx="185.3" cy="169.2"/><circle cx="236.3" cy="124.5"/><circle cx="163.9" cy="177.7"/><circle cx="104.7" cy="230.4"/><circle cx="223.3" cy="130.8"/><circle cx="203.8" cy="162.0"/><circle cx="294.9" cy="84.4"/><circle cx="185.0" cy="166.0"/><circle cx="252.5" cy="138.6"/><circle cx="190.9" cy="163.5"/><circle cx="191.9" cy="166.3"/><circle cx="226.1" cy="142.9"/><circle cx="224.8" cy="141.4"/><circle cx="257.2" cy="114.7"/><circle cx="281.2" cy="100.5"/><circle cx="192.1" cy="162.0"/><circle cx="269.7" cy="111.7"/><circle cx="260.7" cy="100.4"/><circle cx="206.8" cy="157.2"/><circle cx="190.3" cy="163.1"/><circle cx="150.9" cy="186.3"/><circle cx="244.7" cy="123.1"/><circle cx="263.1" cy="99.5"/><circle cx="275.2" cy="117.8"/><circle cx="282.9" cy="104.6"/><circle cx="280.0" cy="103.8"/><circle cx="182.9" cy="167.7"/><circle cx="295.3" cy="80.3"/><circle cx="267.7" cy="114.5"/><circle cx="226.6" cy="136.4"/><circle cx="199.9" cy="159.3"/><circle cx="271.3" cy="107.4"/><circle cx="242.4" cy="120.6"/><circle cx="270.5" cy="129.3"/><circle cx="186.4" cy="166.9"/><circle cx="247.8" cy="122.9"/><circle cx="154.4" cy="182.9"/><circle cx="296.5" cy="73.7"/><circle cx="210.7" cy="161.5"/><circle cx="283.0" cy="96.2"/><circle cx="215.5" cy="146.1"/><circle cx="182.5" cy="168.7"/><circle cx="274.8" cy="116.4"/><circle cx="263.6" cy="125.8"/><circle cx="230.5" cy="132.6"/><circle cx="264.7" cy="125.6"/><circle cx="277.5" cy="119.2"/><circle cx="228.5" cy="143.9"/><circle cx="277.4" cy="112.0"/><circle cx="190.2" cy="163.3"/><circle cx="226.8" cy="146.5"/><circle cx="201.6" cy="163.2"/><circle cx="187.6" cy="164.7"/><circle cx="257.3" cy="111.5"/><circle cx="292.5" cy="120.4"/><circle cx="283.3" cy="121.1"/><circle cx="202.3" cy="159.5"/><circle cx="185.4" cy="166.3"/><circle cx="242.5" cy="133.8"/><circle cx="246.5" cy="125.6"/><circle cx="215.5" cy="155.7"/><circle cx="187.6" cy="166.2"/><circle cx="292.8" cy="73.9"/><circle cx="188.2" cy="164.9"/><circle cx="252.4" cy="130.4"/><circle cx="254.8" cy="115.5"/><circle cx="288.8" cy="117.0"/><circle cx="265.1" cy="143.1"/><circle cx="290.4" cy="106.4"/><circle cx="272.1" cy="140.1"/><circle cx="219.4" cy="140.9"/><circle cx="262.6" cy="108.7"/><circle cx="197.4" cy="159.8"/><circle cx="262.6" cy="96.0"/><circle cx="252.3" cy="113.1"/><circle cx="267.2" cy="109.9"/><circle cx="128.7" cy="198.3"/><circle cx="252.7" cy="144.6"/><circle cx="289.5" cy="116.9"/><circle cx="262.7" cy="129.5"/><circle cx="190.7" cy="165.0"/><circle cx="186.6" cy="168.1"/><circle cx="246.5" cy="135.8"/><circle cx="254.8" cy="119.1"/><circle cx="256.7" cy="137.1"/><circle cx="289.0" cy="138.5"/><circle cx="245.2" cy="146.8"/><circle cx="276.9" cy="125.2"/><circle cx="282.9" cy="92.2"/><circle cx="277.8" cy="129.6"/><circle cx="186.2" cy="167.9"/><circle cx="165.5" cy="176.2"/><circle cx="286.3" cy="76.6"/><circle cx="191.3" cy="164.2"/><circle cx="262.9" cy="129.5"/><circle cx="219.2" cy="144.0"/><circle cx="190.4" cy="155.8"/><circle cx="277.5" cy="104.0"/><circle cx="190.7" cy="162.2"/><circle cx="292.7" cy="66.3"/><circle cx="190.9" cy="151.8"/><circle cx="231.1" cy="124.9"/><circle cx="284.2" cy="113.0"/><circle cx="148.0" cy="191.8"/><circle cx="270.2" cy="114.4"/><circle cx="277.8" cy="119.1"/><circle cx="215.2" cy="138.4"/><circle cx="199.2" cy="153.4"/><circle cx="109.8" cy="225.0"/><circle cx="190.9" cy="153.8"/><circle cx="111.7" cy="206.5"/><circle cx="205.0" cy="153.5"/><circle cx="192.2" cy="155.0"/><circle cx="117.5" cy="194.6"/><circle cx="193.7" cy="161.9"/><circle cx="187.7" cy="167.5"/><circle cx="262.7" cy="133.7"/><circle cx="277.6" cy="109.0"/><circle cx="236.0" cy="130.6"/><circle cx="243.2" cy="120.4"/><circle cx="177.7" cy="171.7"/><circle cx="295.6" cy="68.0"/><circle cx="182.5" cy="169.1"/><circle cx="270.8" cy="146.5"/><circle cx="276.9" cy="102.4"/><circle cx="276.0" cy="103.5"/><circle cx="221.8" cy="114.4"/><circle cx="263.1" cy="149.4"/><circle cx="292.6" cy="120.8"/><circle cx="255.9" cy="121.9"/><circle cx="199.8" cy="145.3"/><circle cx="193.5" cy="158.1"/><circle cx="283.6" cy="112.4"/><circle cx="272.3" cy="113.5"/></g><g fill="#00BF7D" fill-opacity="0.5"><circle cx="291.1" cy="58.1"/><circle cx="294.7" cy="63.4"/><circle cx="292.5" cy="60.2"/><circle cx="269.5" cy="82.1"/><circle cx="290.2" cy="58.8"/><circle cx="251.7" cy="96.3"/><circle cx="290.3" cy="61.4"/><circle cx="293.1" cy="62.7"/><circle cx="294.4" cy="59.4"/><circle cx="286.1" cy="60.6"/><circle cx="289.7" cy="64.2"/><circle cx="290.4" cy="60.5"/><circle cx="291.9" cy="59.4"/><circle cx="283.7" cy="60.6"/><circle cx="288.1" cy="60.2"/><circle cx="289.3" cy="57.9"/><circle cx="281.4" cy="60.8"/><circle cx="293.2" cy="58.3"/><circle cx="287.5" cy="54.1"/><circle cx="288.3" cy="57.8"/><circle cx="276.0" cy="71.6"/><circle cx="284.9" cy="59.1"/><circle cx="293.1" cy="60.9"/><circle cx="287.6" cy="67.0"/><circle cx="290.8" cy="59.4"/><circle cx="244.7" cy="106.0"/><circle cx="290.1" cy="61.2"/><circle cx="292.7" cy="63.1"/><circle cx="288.3" cy="59.8"/><circle cx="286.6" cy="59.1"/><circle cx="292.6" cy="55.4"/><circle cx="287.6" cy="60.1"/><circle cx="286.6" cy="61.4"/><circle cx="290.8" cy="67.0"/><circle cx="288.0" cy="63.0"/><circle cx="286.7" cy="59.1"/><circle cx="290.3" cy="57.6"/><circle cx="288.4" cy="61.7"/><circle cx="291.2" cy="60.0"/><circle cx="244.8" cy="102.8"/><circle cx="290.0" cy="54.4"/><circle cx="291.1" cy="60.7"/><circle cx="289.3" cy="64.6"/><circle cx="255.4" cy="88.4"/><circle cx="268.9" cy="84.6"/><circle cx="287.0" cy="62.5"/><circle cx="288.4" cy="63.8"/><circle cx="290.1" cy="59.9"/><circle cx="296.4" cy="60.7"/><circle cx="246.4" cy="96.9"/><circle cx="287.6" cy="63.2"/><circle cx="287.8" cy="64.8"/><circle cx="291.0" cy="67.0"/><circle cx="289.7" cy="62.2"/><circle cx="288.6" cy="59.9"/><circle cx="245.7" cy="99.9"/><circle cx="288.3" cy="60.8"/><circle cx="291.8" cy="56.6"/><circle cx="283.7" cy="56.5"/><circle cx="286.4" cy="57.4"/><circle cx="291.7" cy="58.7"/><circle cx="292.1" cy="60.9"/><circle cx="295.4" cy="61.0"/><circle cx="289.4" cy="62.9"/><circle cx="289.8" cy="65.2"/><circle cx="293.7" cy="62.1"/><circle cx="289.1" cy="62.8"/><circle cx="289.3" cy="58.5"/><circle cx="290.4" cy="61.9"/><circle cx="288.8" cy="58.0"/><circle cx="294.0" cy="58.2"/><circle cx="285.6" cy="58.1"/><circle cx="266.0" cy="79.5"/><circle cx="253.6" cy="98.3"/><circle cx="293.5" cy="61.4"/><circle cx="288.3" cy="61.7"/><circle cx="290.1" cy="59.7"/><circle cx="291.1" cy="57.8"/><circle cx="289.7" cy="56.3"/><circle cx="292.6" cy="58.7"/><circle cx="290.3" cy="59.4"/><circle cx="286.7" cy="57.9"/><circle cx="291.7" cy="62.0"/><circle cx="292.5" cy="60.4"/><circle cx="285.9" cy="64.9"/><circle cx="296.5" cy="60.8"/><circle cx="287.0" cy="54.1"/><circle cx="292.2" cy="65.7"/><circle cx="293.0" cy="58.8"/><circle cx="292.4" cy="60.8"/><circle cx="286.6" cy="62.5"/><circle cx="294.8" cy="60.1"/><circle cx="292.1" cy="59.2"/><circle cx="289.8" cy="64.8"/><circle cx="285.6" cy="58.8"/><circle cx="296.5" cy="62.2"/><circle cx="283.9" cy="62.3"/><circle cx="283.6" cy="62.6"/><circle cx="288.8" cy="61.6"/><circle cx="294.3" cy="56.3"/><circle cx="290.9" cy="67.4"/><circle cx="249.1" cy="99.5"/><circle cx="251.7" cy="103.2"/><circle cx="273.7" cy="83.4"/><circle cx="291.8" cy="55.7"/><circle cx="290.7" cy="60.2"/><circle cx="264.9" cy="85.2"/><circle cx="291.1" cy="63.7"/><circle cx="296.5" cy="59.4"/><circle cx="290.6" cy="59.0"/><circle cx="258.8" cy="92.9"/><circle cx="259.9" cy="88.4"/><circle cx="289.1" cy="56.6"/><circle cx="291.9" cy="54.1"/><circle cx="293.3" cy="56.7"/><circle cx="292.0" cy="61.7"/><circle cx="296.5" cy="55.9"/><circle cx="291.0" cy="59.1"/><circle cx="275.6" cy="73.9"/><circle cx="289.3" cy="55.4"/><circle cx="291.3" cy="54.2"/><circle cx="292.1" cy="54.1"/><circle cx="288.9" cy="56.3"/><circle cx="287.9" cy="63.2"/><circle cx="292.1" cy="58.1"/><circle cx="261.2" cy="84.3"/><circle cx="294.1" cy="58.8"/><circle cx="283.5" cy="63.6"/><circle cx="287.0" cy="62.8"/><circle cx="291.1" cy="61.9"/><circle cx="288.7" cy="56.2"/><circle cx="286.5" cy="59.3"/><circle cx="286.7" cy="61.8"/><circle cx="289.8" cy="58.1"/><circle cx="291.8" cy="57.2"/><circle cx="290.0" cy="60.0"/><circle cx="289.8" cy="59.6"/><circle cx="287.7" cy="62.7"/><circle cx="295.4" cy="65.7"/><circle cx="290.2" cy="64.1"/><circle cx="284.7" cy="64.1"/><circle cx="289.8" cy="59.2"/><circle cx="284.9" cy="60.5"/><circle cx="284.3" cy="58.0"/><circle cx="291.2" cy="61.6"/><circle cx="287.4" cy="57.9"/><circle cx="286.7" cy="58.8"/><circle cx="292.2" cy="61.9"/><circle cx="291.4" cy="58.7"/><circle cx="249.8" cy="100.4"/><circle cx="293.5" cy="63.2"/><circle cx="294.3" cy="60.0"/><circle cx="290.7" cy="56.1"/><circle cx="286.1" cy="60.5"/><circle cx="289.0" cy="61.4"/><circle cx="290.5" cy="56.9"/><circle cx="292.1" cy="59.6"/><circle cx="291.0" cy="57.6"/><circle cx="294.1" cy="60.5"/><circle cx="294.9" cy="58.3"/><circle cx="293.5" cy="60.1"/><circle cx="285.2" cy="60.8"/><circle cx="288.1" cy="57.7"/><circle cx="288.4" cy="56.6"/><circle cx="292.0" cy="60.1"/><circle cx="296.3" cy="56.5"/><circle cx="295.4" cy="56.7"/><circle cx="288.1" cy="62.7"/><circle cx="288.4" cy="59.3"/><circle cx="293.2" cy="62.9"/><circle cx="253.5" cy="95.0"/><circle cx="287.9" cy="64.5"/><circle cx="287.3" cy="63.1"/><circle cx="291.5" cy="59.9"/><circle cx="290.2" cy="58.4"/><circle cx="247.7" cy="99.2"/><circle cx="291.7" cy="58.0"/><circle cx="290.7" cy="60.9"/><circle cx="288.9" cy="61.5"/><circle cx="291.8" cy="57.0"/><circle cx="294.8" cy="57.9"/><circle cx="293.5" cy="59.5"/><circle cx="291.0" cy="65.1"/><circle cx="285.8" cy="64.7"/><circle cx="289.5" cy="63.3"/><circle cx="292.9" cy="59.8"/><circle cx="293.4" cy="61.5"/><circle cx="259.9" cy="90.9"/><circle cx="290.0" cy="61.7"/><circle cx="290.6" cy="61.1"/><circle cx="290.0" cy="54.1"/><circle cx="288.5" cy="63.1"/><circle cx="289.7" cy="59.3"/><circle cx="289.0" cy="60.4"/><circle cx="291.5" cy="58.1"/><circle cx="293.3" cy="62.8"/><circle cx="287.3" cy="58.1"/><circle cx="290.5" cy="56.7"/><circle cx="295.0" cy="62.4"/><circle cx="287.8" cy="63.1"/><circle cx="294.2" cy="62.0"/><circle cx="292.7" cy="65.6"/><circle cx="292.7" cy="56.2"/><circle cx="290.2" cy="62.4"/><circle cx="289.7" cy="65.0"/><circle cx="291.1" cy="60.6"/><circle cx="288.9" cy="58.2"/><circle cx="294.8" cy="59.0"/><circle cx="287.7" cy="58.9"/><circle cx="290.5" cy="58.9"/><circle cx="290.8" cy="64.1"/><circle cx="294.5" cy="58.9"/><circle cx="289.1" cy="58.9"/><circle cx="295.2" cy="57.9"/><circle cx="289.8" cy="56.5"/><circle cx="290.2" cy="62.7"/><circle cx="291.2" cy="57.4"/><circle cx="289.0" cy="58.0"/><circle cx="289.9" cy="58.0"/><circle cx="289.0" cy="60.4"/><circle cx="269.0" cy="77.9"/><circle cx="289.0" cy="62.5"/><circle cx="292.3" cy="60.2"/><circle cx="285.3" cy="61.3"/><circle cx="272.4" cy="75.4"/><circle cx="291.0" cy="59.6"/><circle cx="251.6" cy="96.8"/><circle cx="270.8" cy="82.1"/><circle cx="286.5" cy="62.4"/><circle cx="288.8" cy="66.7"/><circle cx="292.2" cy="60.7"/><circle cx="284.1" cy="60.3"/><circle cx="290.0" cy="60.5"/><circle cx="288.2" cy="60.2"/><circle cx="285.9" cy="62.4"/><circle cx="289.2" cy="60.8"/><circle cx="291.4" cy="64.8"/><circle cx="289.9" cy="55.6"/><circle cx="289.6" cy="61.1"/><circle cx="288.1" cy="63.9"/><circle cx="290.5" cy="61.0"/><circle cx="288.7" cy="59.3"/><circle cx="293.8" cy="56.8"/><circle cx="293.5" cy="61.7"/><circle cx="292.7" cy="59.4"/><circle cx="295.2" cy="64.3"/><circle cx="292.7" cy="56.8"/><circle cx="295.0" cy="63.9"/><circle cx="290.9" cy="58.9"/><circle cx="290.0" cy="57.1"/><circle cx="291.8" cy="58.6"/><circle cx="291.5" cy="61.7"/><circle cx="289.1" cy="62.2"/><circle cx="288.1" cy="57.0"/><circle cx="287.0" cy="57.5"/><circle cx="289.5" cy="61.2"/><circle cx="296.3" cy="60.0"/><circle cx="292.1" cy="55.6"/><circle cx="286.9" cy="58.3"/><circle cx="294.0" cy="62.3"/><circle cx="260.4" cy="88.2"/><circle cx="292.2" cy="63.6"/><circle cx="290.5" cy="62.2"/><circle cx="258.6" cy="88.0"/><circle cx="293.0" cy="54.1"/><circle cx="290.5" cy="61.3"/><circle cx="292.4" cy="63.0"/><circle cx="288.3" cy="62.1"/><circle cx="289.7" cy="56.8"/><circle cx="289.0" cy="59.9"/><circle cx="289.1" cy="64.0"/><circle cx="286.6" cy="55.4"/><circle cx="292.1" cy="59.9"/><circle cx="294.1" cy="62.1"/><circle cx="294.9" cy="61.0"/><circle cx="287.2" cy="61.1"/><circle cx="285.5" cy="60.7"/><circle cx="289.6" cy="57.2"/><circle cx="292.3" cy="55.7"/><circle cx="293.1" cy="57.0"/><circle cx="282.7" cy="67.5"/><circle cx="259.4" cy="92.3"/><circle cx="287.1" cy="60.3"/><circle cx="294.2" cy="59.3"/><circle cx="290.9" cy="61.8"/><circle cx="294.7" cy="60.5"/><circle cx="290.1" cy="59.0"/><circle cx="294.2" cy="59.5"/><circle cx="292.8" cy="64.0"/><circle cx="292.9" cy="55.5"/><circle cx="287.6" cy="54.1"/><circle cx="294.1" cy="59.0"/><circle cx="293.1" cy="57.7"/><circle cx="293.8" cy="62.7"/><circle cx="287.9" cy="55.2"/><circle cx="291.2" cy="54.1"/><circle cx="293.4" cy="61.8"/><circle cx="289.5" cy="62.8"/><circle cx="291.7" cy="64.7"/><circle cx="289.4" cy="56.3"/><circle cx="265.5" cy="86.8"/><circle cx="293.6" cy="63.5"/><circle cx="277.7" cy="67.6"/><circle cx="291.6" cy="58.7"/><circle cx="289.8" cy="65.5"/><circle cx="288.0" cy="60.9"/><circle cx="290.9" cy="57.8"/><circle cx="294.8" cy="60.0"/><circle cx="292.1" cy="60.2"/><circle cx="289.8" cy="62.5"/><circle cx="291.5" cy="60.9"/><circle cx="290.4" cy="67.9"/><circle cx="289.4" cy="61.6"/><circle cx="290.0" cy="59.6"/><circle cx="288.3" cy="58.3"/><circle cx="288.6" cy="62.0"/><circle cx="249.8" cy="102.3"/><circle cx="294.4" cy="60.6"/><circle cx="293.1" cy="56.9"/><circle cx="295.1" cy="61.2"/><circle cx="291.9" cy="56.1"/><circle cx="294.7" cy="64.2"/><circle cx="292.5" cy="56.5"/><circle cx="284.5" cy="64.7"/><circle cx="291.5" cy="55.9"/><circle cx="292.4" cy="54.8"/><circle cx="286.2" cy="64.6"/><circle cx="291.0" cy="60.3"/><circle cx="261.2" cy="81.2"/><circle cx="287.5" cy="58.5"/><circle cx="244.3" cy="108.2"/><circle cx="292.9" cy="54.7"/><circle cx="290.7" cy="63.6"/><circle cx="285.9" cy="62.2"/><circle cx="290.5" cy="64.7"/><circle cx="287.2" cy="55.3"/><circle cx="292.8" cy="65.6"/><circle cx="292.6" cy="60.8"/><circle cx="291.2" cy="57.6"/><circle cx="288.7" cy="59.3"/><circle cx="291.7" cy="60.3"/><circle cx="288.8" cy="62.1"/><circle cx="264.5" cy="77.1"/><circle cx="287.3" cy="62.8"/><circle cx="283.9" cy="55.8"/><circle cx="291.5" cy="57.2"/><circle cx="294.0" cy="61.6"/><circle cx="288.8" cy="62.8"/><circle cx="264.7" cy="80.9"/></g></g>
<line x1="62.25" y1="170.90" x2="297.05" y2="170.90" stroke="#C6C6C6" stroke-width="1.4"/>
<line x1="179.65" y1="53.50" x2="179.65" y2="288.30" stroke="#C6C6C6" stroke-width="1.4"/>
<line x1="38.77" y1="205.98" x2="320.53" y2="135.82" stroke="#F8766D" stroke-width="1.35"/>
<line x1="38.77" y1="289.52" x2="320.53" y2="52.28" stroke="#E76BF3" stroke-width="1.35"/>
<line x1="42.49" y1="311.78" x2="318.19" y2="30.02" stroke="#00BF7D" stroke-width="1.35"/>
<line x1="128.97" y1="311.78" x2="230.33" y2="30.02" stroke="#00B0F6" stroke-width="1.35"/>
<line x1="143.98" y1="311.78" x2="215.32" y2="30.02" stroke="#BEBEBE" stroke-width="1.35"/>
<line x1="158.11" y1="311.78" x2="201.19" y2="30.02" stroke="#C9A800" stroke-width="1.35"/>
<line x1="62.25" y1="288.30" x2="297.05" y2="53.50" stroke="#383838" stroke-width="1.45" stroke-dasharray="6.5 7.2" stroke-dashoffset="1.4"/>
</g>
<rect x="62.5" y="53.0" width="234.40" height="235.50" fill="none" stroke="#151515" stroke-width="1.35"/>
<line x1="187.7" y1="24.3" x2="194.1" y2="24.3" stroke="#666" stroke-width="0.8"/>
<rect x="179.6" y="22.20" width="8.10" height="4.2" rx="1.4" fill="#F5A098" stroke="#333" stroke-width="0.7"/>
<line x1="183.4" y1="22.20" x2="183.4" y2="26.40" stroke="#111" stroke-width="1.2"/>
<rect x="179.9" y="22.50" width="3.4" height="3.60" fill="#4a2c2a"/>
<line x1="181.2" y1="22.80" x2="181.2" y2="25.80" stroke="#c86a62" stroke-width="0.6"/>
<circle cx="184.9" cy="24.3" r="0.9" fill="#000"/>
<line x1="277.3" y1="28.9" x2="285.3" y2="28.9" stroke="#666" stroke-width="0.8"/>
<rect x="285.3" y="26.80" width="10.50" height="4.2" rx="1.4" fill="#3CD4A6" stroke="#333" stroke-width="0.7"/>
<line x1="292.0" y1="26.80" x2="292.0" y2="31.00" stroke="#111" stroke-width="1.2"/>
<circle cx="290.2" cy="28.9" r="0.9" fill="#000"/>
<line x1="205.7" y1="33.6" x2="240.1" y2="33.6" stroke="#666" stroke-width="0.8"/>
<line x1="284.0" y1="33.6" x2="290.4" y2="33.6" stroke="#666" stroke-width="0.8"/>
<rect x="240.1" y="31.50" width="43.90" height="4.2" rx="1.4" fill="#DFC040" stroke="#333" stroke-width="0.7"/>
<line x1="268.3" y1="31.50" x2="268.3" y2="35.70" stroke="#111" stroke-width="1.2"/>
<circle cx="258.5" cy="33.6" r="0.9" fill="#000"/>
<line x1="184.2" y1="38.2" x2="195.2" y2="38.2" stroke="#666" stroke-width="0.8"/>
<line x1="248.2" y1="38.2" x2="270.0" y2="38.2" stroke="#666" stroke-width="0.8"/>
<rect x="195.2" y="36.10" width="53.00" height="4.2" rx="1.4" fill="#48CCF3" stroke="#333" stroke-width="0.7"/>
<line x1="217.3" y1="36.10" x2="217.3" y2="40.30" stroke="#111" stroke-width="1.2"/>
<circle cx="222.2" cy="38.2" r="0.9" fill="#000"/>
<line x1="181.1" y1="43.0" x2="186.7" y2="43.0" stroke="#666" stroke-width="0.8"/>
<line x1="246.0" y1="43.0" x2="268.1" y2="43.0" stroke="#666" stroke-width="0.8"/>
<rect x="186.7" y="40.90" width="59.30" height="4.2" rx="1.4" fill="#F2F2F2" stroke="#333" stroke-width="0.7"/>
<line x1="212.8" y1="40.90" x2="212.8" y2="45.10" stroke="#111" stroke-width="1.2"/>
<circle cx="218.0" cy="43.0" r="0.9" fill="#000"/>
<line x1="180.5" y1="47.7" x2="183.8" y2="47.7" stroke="#666" stroke-width="0.8"/>
<line x1="248.7" y1="47.7" x2="278.5" y2="47.7" stroke="#666" stroke-width="0.8"/>
<rect x="183.8" y="45.60" width="64.90" height="4.2" rx="1.4" fill="#F39CF3" stroke="#333" stroke-width="0.7"/>
<line x1="200.2" y1="45.60" x2="200.2" y2="49.80" stroke="#111" stroke-width="1.2"/>
<circle cx="216.7" cy="47.7" r="0.9" fill="#000"/>
<text x="120.95" y="305.7" font-size="12.2" text-anchor="middle">-0.5</text>
<text x="56.05" y="234.40" font-size="12.2" text-anchor="end">-0.5</text>
<text x="179.65" y="305.7" font-size="12.2" text-anchor="middle">0.0</text>
<text x="56.05" y="175.70" font-size="12.2" text-anchor="end">0.0</text>
<text x="238.35" y="305.7" font-size="12.2" text-anchor="middle">0.5</text>
<text x="56.05" y="117.00" font-size="12.2" text-anchor="end">0.5</text>
<clipPath id="clipR"><rect x="339.35" y="53.0" width="234.15" height="235.50"/></clipPath>
<g clip-path="url(#clipR)">
<g class="p" filter="url(#soft)"><g fill="#BEBEBE" fill-opacity="0.36"><circle cx="410.7" cy="287.7"/><circle cx="414.0" cy="276.8"/><circle cx="403.4" cy="253.9"/><circle cx="444.0" cy="209.2"/><circle cx="395.8" cy="268.2"/><circle cx="397.0" cy="242.1"/><circle cx="408.9" cy="261.1"/><circle cx="444.1" cy="210.2"/><circle cx="358.6" cy="283.8"/><circle cx="403.1" cy="283.5"/><circle cx="407.1" cy="265.4"/><circle cx="388.0" cy="273.1"/><circle cx="500.6" cy="84.8"/><circle cx="373.1" cy="255.4"/><circle cx="495.5" cy="123.9"/><circle cx="422.5" cy="210.0"/><circle cx="396.0" cy="282.9"/><circle cx="446.7" cy="199.8"/><circle cx="399.8" cy="240.5"/><circle cx="408.7" cy="239.4"/><circle cx="361.0" cy="275.8"/><circle cx="344.7" cy="287.6"/><circle cx="437.7" cy="205.7"/><circle cx="407.5" cy="287.8"/><circle cx="453.5" cy="180.4"/><circle cx="515.9" cy="97.3"/><circle cx="388.5" cy="247.2"/><circle cx="369.0" cy="264.5"/><circle cx="469.5" cy="139.6"/><circle cx="397.2" cy="235.2"/><circle cx="439.6" cy="208.3"/><circle cx="397.2" cy="259.9"/><circle cx="396.0" cy="236.8"/><circle cx="404.8" cy="250.3"/><circle cx="374.2" cy="275.5"/><circle cx="410.5" cy="267.1"/><circle cx="410.9" cy="283.3"/><circle cx="405.2" cy="277.6"/><circle cx="416.1" cy="268.0"/><circle cx="429.9" cy="217.9"/><circle cx="512.5" cy="102.6"/><circle cx="387.2" cy="265.6"/><circle cx="383.0" cy="286.1"/><circle cx="353.1" cy="281.1"/><circle cx="409.0" cy="230.5"/><circle cx="419.2" cy="218.5"/><circle cx="496.7" cy="59.9"/><circle cx="432.4" cy="203.8"/><circle cx="403.3" cy="275.3"/><circle cx="473.7" cy="143.0"/><circle cx="405.7" cy="275.4"/><circle cx="406.8" cy="235.3"/><circle cx="435.4" cy="198.7"/><circle cx="426.0" cy="226.5"/><circle cx="432.8" cy="248.7"/><circle cx="408.1" cy="240.6"/><circle cx="348.7" cy="284.7"/><circle cx="422.2" cy="255.6"/><circle cx="468.4" cy="129.1"/><circle cx="379.5" cy="253.4"/><circle cx="421.5" cy="253.8"/><circle cx="381.5" cy="257.2"/><circle cx="389.3" cy="267.5"/><circle cx="401.7" cy="250.3"/><circle cx="396.7" cy="268.8"/><circle cx="367.4" cy="269.5"/><circle cx="434.9" cy="198.7"/><circle cx="430.0" cy="240.2"/><circle cx="390.6" cy="285.6"/><circle cx="429.8" cy="232.7"/><circle cx="413.0" cy="242.4"/><circle cx="379.5" cy="268.0"/><circle cx="388.1" cy="281.8"/><circle cx="537.7" cy="55.3"/><circle cx="426.6" cy="216.9"/><circle cx="401.2" cy="231.8"/><circle cx="431.7" cy="230.8"/><circle cx="436.1" cy="201.3"/><circle cx="471.2" cy="135.6"/><circle cx="410.4" cy="233.7"/><circle cx="432.9" cy="220.5"/><circle cx="367.7" cy="265.8"/><circle cx="414.9" cy="263.1"/><circle cx="386.7" cy="278.4"/><circle cx="516.9" cy="96.1"/><circle cx="390.8" cy="272.5"/><circle cx="423.1" cy="260.7"/><circle cx="399.3" cy="270.4"/><circle cx="366.2" cy="286.4"/><circle cx="399.0" cy="243.3"/><circle cx="367.6" cy="263.3"/><circle cx="401.8" cy="278.4"/><circle cx="431.1" cy="238.9"/><circle cx="389.3" cy="281.0"/><circle cx="433.3" cy="198.7"/><circle cx="435.8" cy="230.1"/><circle cx="402.7" cy="285.3"/><circle cx="420.2" cy="262.0"/><circle cx="415.0" cy="244.3"/><circle cx="388.2" cy="255.8"/><circle cx="402.2" cy="271.8"/><circle cx="370.7" cy="266.1"/><circle cx="440.9" cy="210.3"/><circle cx="362.7" cy="267.8"/><circle cx="392.7" cy="260.5"/><circle cx="440.5" cy="215.8"/><circle cx="435.3" cy="220.1"/><circle cx="439.2" cy="212.1"/><circle cx="413.3" cy="269.7"/><circle cx="346.9" cy="280.5"/><circle cx="389.6" cy="252.5"/><circle cx="418.2" cy="210.1"/><circle cx="345.3" cy="283.6"/><circle cx="501.7" cy="101.9"/><circle cx="407.9" cy="274.0"/><circle cx="470.0" cy="126.3"/><circle cx="435.1" cy="234.3"/><circle cx="382.9" cy="253.3"/><circle cx="360.6" cy="270.0"/><circle cx="449.2" cy="188.4"/><circle cx="424.8" cy="222.7"/><circle cx="414.7" cy="220.9"/><circle cx="405.6" cy="269.5"/><circle cx="441.1" cy="213.5"/><circle cx="373.2" cy="271.5"/><circle cx="416.9" cy="249.0"/><circle cx="432.4" cy="230.1"/><circle cx="430.5" cy="211.2"/><circle cx="418.8" cy="276.6"/><circle cx="410.5" cy="228.7"/><circle cx="411.8" cy="279.6"/><circle cx="424.3" cy="251.7"/><circle cx="383.9" cy="261.9"/><circle cx="418.1" cy="248.9"/><circle cx="399.5" cy="278.8"/><circle cx="418.5" cy="259.6"/><circle cx="475.9" cy="146.1"/><circle cx="394.8" cy="262.7"/><circle cx="444.2" cy="187.6"/><circle cx="366.8" cy="274.8"/><circle cx="507.0" cy="108.4"/><circle cx="397.2" cy="238.6"/><circle cx="441.4" cy="218.9"/><circle cx="387.4" cy="260.8"/><circle cx="447.5" cy="187.7"/></g><g fill="#C9A800" fill-opacity="0.45"><circle cx="483.6" cy="106.0"/><circle cx="476.9" cy="109.4"/><circle cx="469.6" cy="94.9"/><circle cx="495.6" cy="84.9"/><circle cx="491.4" cy="56.2"/><circle cx="473.4" cy="88.5"/><circle cx="488.7" cy="68.9"/><circle cx="475.9" cy="104.4"/></g><g fill="#F8766D" fill-opacity="0.4"><circle cx="362.8" cy="200.0"/><circle cx="472.1" cy="161.7"/><circle cx="461.1" cy="168.9"/><circle cx="442.2" cy="179.7"/><circle cx="540.3" cy="130.7"/><circle cx="377.7" cy="234.4"/><circle cx="373.8" cy="234.0"/><circle cx="444.3" cy="178.2"/><circle cx="359.5" cy="189.2"/><circle cx="534.3" cy="96.9"/><circle cx="557.6" cy="124.7"/><circle cx="359.5" cy="200.0"/><circle cx="532.8" cy="137.2"/><circle cx="344.2" cy="221.2"/><circle cx="383.6" cy="188.9"/><circle cx="373.0" cy="235.3"/><circle cx="483.8" cy="152.4"/><circle cx="539.0" cy="124.0"/><circle cx="567.7" cy="151.9"/><circle cx="382.4" cy="189.4"/><circle cx="375.6" cy="198.0"/><circle cx="341.6" cy="211.7"/><circle cx="364.0" cy="227.8"/><circle cx="418.1" cy="178.9"/><circle cx="470.9" cy="164.4"/><circle cx="416.2" cy="204.6"/><circle cx="553.4" cy="141.3"/><circle cx="417.2" cy="200.3"/><circle cx="560.8" cy="156.8"/><circle cx="537.9" cy="125.2"/><circle cx="425.9" cy="184.4"/><circle cx="354.4" cy="235.8"/><circle cx="462.9" cy="169.3"/><circle cx="412.2" cy="199.1"/><circle cx="358.8" cy="224.2"/><circle cx="439.3" cy="181.1"/><circle cx="360.3" cy="209.9"/><circle cx="361.5" cy="214.3"/><circle cx="392.6" cy="184.3"/><circle cx="383.4" cy="204.0"/><circle cx="443.8" cy="178.8"/><circle cx="482.9" cy="157.4"/><circle cx="356.5" cy="237.3"/><circle cx="379.4" cy="184.3"/><circle cx="564.8" cy="109.6"/><circle cx="377.5" cy="205.3"/><circle cx="463.6" cy="169.4"/><circle cx="498.7" cy="144.8"/><circle cx="343.4" cy="213.2"/><circle cx="347.2" cy="257.8"/><circle cx="482.4" cy="154.3"/><circle cx="345.9" cy="265.0"/><circle cx="399.3" cy="199.7"/><circle cx="374.9" cy="226.4"/><circle cx="462.5" cy="167.0"/><circle cx="508.2" cy="153.3"/><circle cx="544.9" cy="124.9"/><circle cx="538.7" cy="150.7"/><circle cx="373.7" cy="237.1"/><circle cx="406.8" cy="210.3"/><circle cx="501.7" cy="156.3"/><circle cx="476.8" cy="152.8"/><circle cx="556.6" cy="130.8"/><circle cx="397.7" cy="209.4"/><circle cx="495.7" cy="157.4"/><circle cx="478.6" cy="164.2"/><circle cx="484.7" cy="160.1"/><circle cx="339.6" cy="263.5"/><circle cx="474.2" cy="167.6"/><circle cx="394.8" cy="188.4"/><circle cx="363.4" cy="200.3"/><circle cx="364.2" cy="212.8"/><circle cx="390.4" cy="200.5"/><circle cx="519.5" cy="140.9"/><circle cx="469.2" cy="163.2"/><circle cx="476.7" cy="163.9"/><circle cx="562.6" cy="110.5"/><circle cx="385.6" cy="202.6"/><circle cx="361.9" cy="204.2"/><circle cx="524.6" cy="119.9"/><circle cx="346.3" cy="206.7"/><circle cx="339.6" cy="245.3"/><circle cx="545.8" cy="155.9"/><circle cx="381.4" cy="189.3"/><circle cx="364.6" cy="204.7"/><circle cx="391.6" cy="191.5"/><circle cx="478.2" cy="165.4"/><circle cx="512.0" cy="158.3"/><circle cx="562.0" cy="146.1"/><circle cx="475.9" cy="156.7"/><circle cx="352.0" cy="234.4"/><circle cx="505.9" cy="134.8"/><circle cx="389.3" cy="212.3"/><circle cx="459.4" cy="169.2"/><circle cx="491.4" cy="159.0"/><circle cx="462.2" cy="168.6"/><circle cx="343.9" cy="227.2"/><circle cx="398.4" cy="216.9"/><circle cx="518.4" cy="146.7"/><circle cx="396.0" cy="219.2"/><circle cx="519.4" cy="154.2"/><circle cx="449.5" cy="173.1"/><circle cx="341.6" cy="204.2"/><circle cx="367.0" cy="228.8"/><circle cx="364.7" cy="195.7"/><circle cx="348.7" cy="230.2"/><circle cx="355.3" cy="219.3"/><circle cx="465.6" cy="165.6"/><circle cx="351.6" cy="241.6"/><circle cx="357.6" cy="199.2"/><circle cx="488.5" cy="160.8"/><circle cx="434.6" cy="175.8"/><circle cx="496.2" cy="143.9"/><circle cx="340.5" cy="246.5"/><circle cx="383.8" cy="201.5"/><circle cx="379.5" cy="186.8"/><circle cx="432.1" cy="187.4"/><circle cx="444.9" cy="173.2"/><circle cx="467.6" cy="169.2"/><circle cx="339.8" cy="213.7"/><circle cx="443.3" cy="177.7"/><circle cx="514.7" cy="150.7"/><circle cx="394.2" cy="206.1"/><circle cx="468.7" cy="168.9"/><circle cx="475.6" cy="166.7"/><circle cx="372.4" cy="189.1"/><circle cx="380.6" cy="228.2"/><circle cx="533.1" cy="147.6"/><circle cx="533.5" cy="128.5"/><circle cx="350.7" cy="242.1"/><circle cx="397.1" cy="212.8"/><circle cx="493.4" cy="149.4"/><circle cx="394.0" cy="223.1"/><circle cx="462.5" cy="168.8"/><circle cx="452.2" cy="172.2"/><circle cx="393.2" cy="224.2"/><circle cx="478.9" cy="158.5"/><circle cx="478.4" cy="167.7"/><circle cx="512.5" cy="132.0"/><circle cx="360.6" cy="199.0"/><circle cx="444.6" cy="177.2"/><circle cx="345.2" cy="246.2"/><circle cx="361.8" cy="226.9"/><circle cx="544.9" cy="134.0"/><circle cx="347.8" cy="239.2"/><circle cx="434.9" cy="180.7"/><circle cx="566.4" cy="107.6"/><circle cx="515.3" cy="138.9"/><circle cx="352.4" cy="237.0"/><circle cx="353.4" cy="211.6"/><circle cx="520.5" cy="159.2"/><circle cx="397.6" cy="197.8"/><circle cx="380.9" cy="195.8"/><circle cx="510.0" cy="155.4"/><circle cx="364.8" cy="208.7"/><circle cx="517.5" cy="158.4"/><circle cx="546.4" cy="158.8"/><circle cx="347.1" cy="258.3"/><circle cx="531.4" cy="104.9"/><circle cx="542.8" cy="132.0"/><circle cx="513.3" cy="147.0"/><circle cx="365.5" cy="226.7"/><circle cx="381.3" cy="221.8"/><circle cx="481.6" cy="151.1"/><circle cx="479.6" cy="158.9"/><circle cx="518.0" cy="148.5"/><circle cx="398.1" cy="190.1"/><circle cx="367.5" cy="245.4"/><circle cx="458.0" cy="170.3"/><circle cx="369.5" cy="241.5"/><circle cx="371.6" cy="205.8"/><circle cx="370.8" cy="234.9"/><circle cx="362.3" cy="225.0"/><circle cx="358.5" cy="234.2"/><circle cx="345.6" cy="224.1"/><circle cx="341.1" cy="227.8"/><circle cx="358.0" cy="240.4"/><circle cx="482.0" cy="163.0"/><circle cx="438.2" cy="183.4"/><circle cx="346.9" cy="209.7"/><circle cx="351.3" cy="248.0"/><circle cx="399.3" cy="211.3"/><circle cx="387.6" cy="229.2"/><circle cx="350.3" cy="219.7"/><circle cx="343.8" cy="213.0"/><circle cx="362.8" cy="232.6"/><circle cx="411.5" cy="198.0"/><circle cx="354.1" cy="217.5"/><circle cx="536.5" cy="153.8"/><circle cx="374.9" cy="226.2"/><circle cx="452.5" cy="172.3"/><circle cx="503.5" cy="129.2"/><circle cx="360.0" cy="207.3"/><circle cx="375.5" cy="187.0"/><circle cx="527.2" cy="142.5"/><circle cx="349.6" cy="239.2"/><circle cx="476.9" cy="165.8"/><circle cx="421.1" cy="188.4"/><circle cx="388.6" cy="223.9"/><circle cx="553.1" cy="154.1"/><circle cx="365.8" cy="197.1"/><circle cx="370.5" cy="187.8"/><circle cx="382.6" cy="188.7"/><circle cx="441.1" cy="177.5"/><circle cx="460.6" cy="170.0"/><circle cx="370.2" cy="227.6"/><circle cx="345.5" cy="249.3"/><circle cx="463.3" cy="167.3"/><circle cx="429.5" cy="190.9"/><circle cx="522.0" cy="138.9"/><circle cx="400.1" cy="207.6"/><circle cx="454.2" cy="171.8"/><circle cx="377.7" cy="187.1"/><circle cx="531.6" cy="125.4"/><circle cx="554.2" cy="118.1"/><circle cx="345.1" cy="245.0"/><circle cx="516.4" cy="141.7"/><circle cx="400.8" cy="192.8"/><circle cx="440.8" cy="177.8"/><circle cx="522.1" cy="121.1"/><circle cx="381.3" cy="193.2"/><circle cx="411.7" cy="198.1"/><circle cx="496.9" cy="149.2"/><circle cx="560.1" cy="135.0"/><circle cx="354.0" cy="247.1"/><circle cx="348.6" cy="254.7"/><circle cx="472.8" cy="162.6"/><circle cx="448.8" cy="172.7"/><circle cx="468.6" cy="160.9"/><circle cx="362.7" cy="203.3"/><circle cx="343.8" cy="192.4"/><circle cx="524.1" cy="131.5"/><circle cx="341.3" cy="206.7"/><circle cx="383.2" cy="200.2"/><circle cx="566.5" cy="110.4"/><circle cx="356.7" cy="216.4"/><circle cx="512.7" cy="149.5"/><circle cx="366.8" cy="197.4"/><circle cx="464.2" cy="167.8"/><circle cx="368.2" cy="189.0"/><circle cx="369.1" cy="205.4"/><circle cx="349.7" cy="193.5"/><circle cx="339.6" cy="269.9"/><circle cx="360.3" cy="222.4"/><circle cx="518.5" cy="153.1"/><circle cx="554.6" cy="142.2"/><circle cx="469.0" cy="159.1"/><circle cx="345.1" cy="192.6"/><circle cx="358.3" cy="224.8"/><circle cx="359.5" cy="241.0"/><circle cx="505.4" cy="137.1"/><circle cx="540.3" cy="144.1"/><circle cx="373.2" cy="230.8"/><circle cx="344.4" cy="247.9"/><circle cx="446.3" cy="177.7"/><circle cx="481.4" cy="162.3"/><circle cx="395.8" cy="196.3"/><circle cx="556.9" cy="132.1"/><circle cx="380.3" cy="233.8"/><circle cx="475.7" cy="165.3"/><circle cx="387.4" cy="183.2"/><circle cx="343.5" cy="253.1"/><circle cx="466.6" cy="161.5"/><circle cx="342.6" cy="263.1"/><circle cx="344.2" cy="230.9"/><circle cx="567.4" cy="132.8"/><circle cx="431.2" cy="192.4"/><circle cx="345.1" cy="234.8"/><circle cx="377.3" cy="215.9"/><circle cx="459.9" cy="169.9"/><circle cx="379.5" cy="183.7"/><circle cx="509.1" cy="162.6"/><circle cx="339.6" cy="212.9"/><circle cx="369.7" cy="221.7"/><circle cx="468.7" cy="167.8"/><circle cx="483.1" cy="149.7"/><circle cx="453.5" cy="171.5"/><circle cx="340.6" cy="204.2"/><circle cx="489.1" cy="151.7"/><circle cx="353.0" cy="231.0"/><circle cx="339.7" cy="198.9"/><circle cx="361.0" cy="194.6"/><circle cx="379.2" cy="197.0"/><circle cx="434.1" cy="183.8"/><circle cx="561.1" cy="131.1"/><circle cx="567.4" cy="117.1"/><circle cx="365.2" cy="225.3"/><circle cx="568.1" cy="111.8"/><circle cx="437.7" cy="183.7"/><circle cx="449.7" cy="175.8"/><circle cx="344.2" cy="203.5"/><circle cx="424.1" cy="183.4"/><circle cx="367.2" cy="189.8"/><circle cx="531.6" cy="134.0"/><circle cx="503.4" cy="159.5"/><circle cx="367.1" cy="191.6"/><circle cx="539.3" cy="138.6"/><circle cx="444.0" cy="181.6"/><circle cx="493.7" cy="142.7"/><circle cx="452.2" cy="173.7"/><circle cx="565.5" cy="137.8"/><circle cx="495.5" cy="152.5"/><circle cx="461.1" cy="169.0"/><circle cx="464.0" cy="166.9"/><circle cx="358.6" cy="232.3"/><circle cx="356.4" cy="218.9"/><circle cx="340.2" cy="204.2"/><circle cx="371.4" cy="232.0"/><circle cx="542.9" cy="133.4"/><circle cx="523.4" cy="112.8"/><circle cx="377.1" cy="234.7"/><circle cx="355.6" cy="234.1"/><circle cx="348.8" cy="206.3"/><circle cx="345.8" cy="262.6"/><circle cx="356.5" cy="187.9"/><circle cx="354.9" cy="202.3"/><circle cx="453.4" cy="173.3"/><circle cx="391.0" cy="210.4"/><circle cx="377.1" cy="236.6"/><circle cx="449.1" cy="174.6"/><circle cx="342.7" cy="264.3"/><circle cx="353.3" cy="201.4"/><circle cx="354.1" cy="202.2"/><circle cx="440.2" cy="178.2"/><circle cx="476.9" cy="158.5"/><circle cx="536.3" cy="97.8"/><circle cx="375.9" cy="192.4"/><circle cx="357.3" cy="233.3"/><circle cx="386.0" cy="208.4"/><circle cx="452.3" cy="172.6"/><circle cx="447.4" cy="173.1"/><circle cx="350.6" cy="224.7"/><circle cx="451.9" cy="172.0"/><circle cx="435.5" cy="188.4"/><circle cx="344.1" cy="235.0"/><circle cx="476.3" cy="154.8"/><circle cx="370.3" cy="215.0"/><circle cx="468.9" cy="162.7"/><circle cx="360.1" cy="191.6"/><circle cx="339.6" cy="216.9"/><circle cx="370.5" cy="198.6"/><circle cx="339.6" cy="249.8"/><circle cx="519.8" cy="149.9"/><circle cx="348.5" cy="236.8"/><circle cx="443.2" cy="179.2"/><circle cx="342.9" cy="194.0"/><circle cx="362.3" cy="237.2"/><circle cx="463.4" cy="168.5"/><circle cx="373.7" cy="204.9"/><circle cx="510.9" cy="148.5"/><circle cx="340.6" cy="233.5"/><circle cx="360.5" cy="191.0"/><circle cx="461.5" cy="169.5"/><circle cx="355.3" cy="229.2"/><circle cx="345.9" cy="204.9"/><circle cx="351.9" cy="206.3"/><circle cx="354.7" cy="220.9"/><circle cx="359.6" cy="222.3"/><circle cx="355.6" cy="238.9"/><circle cx="451.0" cy="172.8"/><circle cx="561.6" cy="144.6"/><circle cx="461.4" cy="168.9"/><circle cx="368.7" cy="197.0"/><circle cx="373.1" cy="200.3"/><circle cx="365.8" cy="236.3"/><circle cx="425.0" cy="190.0"/><circle cx="342.0" cy="263.1"/><circle cx="362.0" cy="241.0"/><circle cx="424.2" cy="178.8"/><circle cx="443.3" cy="177.1"/><circle cx="352.8" cy="189.9"/><circle cx="400.4" cy="183.1"/><circle cx="437.3" cy="178.5"/><circle cx="371.9" cy="196.5"/><circle cx="384.2" cy="206.3"/><circle cx="355.7" cy="206.3"/><circle cx="406.5" cy="198.9"/><circle cx="350.3" cy="250.3"/><circle cx="460.5" cy="169.0"/><circle cx="341.8" cy="237.8"/><circle cx="368.8" cy="200.3"/><circle cx="366.1" cy="235.3"/><circle cx="469.9" cy="164.0"/><circle cx="500.5" cy="132.3"/><circle cx="426.3" cy="184.6"/><circle cx="538.7" cy="144.7"/><circle cx="379.5" cy="227.2"/><circle cx="460.3" cy="168.6"/><circle cx="422.8" cy="200.2"/><circle cx="343.3" cy="191.8"/><circle cx="363.8" cy="192.6"/><circle cx="390.0" cy="220.7"/><circle cx="396.9" cy="184.2"/><circle cx="379.9" cy="217.6"/><circle cx="444.8" cy="173.4"/><circle cx="495.3" cy="155.0"/><circle cx="383.2" cy="217.0"/><circle cx="478.0" cy="163.5"/><circle cx="500.1" cy="136.4"/><circle cx="366.4" cy="188.1"/><circle cx="511.1" cy="145.0"/><circle cx="493.1" cy="151.7"/><circle cx="367.5" cy="224.3"/><circle cx="479.4" cy="165.7"/><circle cx="499.5" cy="149.1"/><circle cx="557.6" cy="130.9"/><circle cx="506.3" cy="148.7"/><circle cx="354.9" cy="194.3"/><circle cx="533.4" cy="124.8"/><circle cx="345.4" cy="227.7"/><circle cx="342.9" cy="242.8"/><circle cx="417.1" cy="198.1"/><circle cx="403.5" cy="191.6"/><circle cx="502.3" cy="156.9"/><circle cx="551.5" cy="146.5"/><circle cx="452.6" cy="173.0"/><circle cx="493.9" cy="138.1"/><circle cx="365.2" cy="209.9"/><circle cx="463.1" cy="166.1"/><circle cx="401.1" cy="213.2"/><circle cx="355.5" cy="195.9"/><circle cx="547.4" cy="123.1"/><circle cx="373.6" cy="216.8"/><circle cx="357.8" cy="247.0"/><circle cx="464.0" cy="169.2"/><circle cx="369.5" cy="225.9"/><circle cx="477.9" cy="160.7"/><circle cx="546.2" cy="133.7"/><circle cx="344.7" cy="208.2"/><circle cx="386.2" cy="212.0"/><circle cx="554.3" cy="124.6"/><circle cx="384.9" cy="204.9"/><circle cx="538.2" cy="124.9"/><circle cx="472.0" cy="167.7"/><circle cx="482.1" cy="150.6"/><circle cx="352.7" cy="246.0"/><circle cx="345.9" cy="249.3"/><circle cx="471.2" cy="159.1"/><circle cx="358.1" cy="213.4"/><circle cx="372.3" cy="236.1"/><circle cx="511.6" cy="157.4"/><circle cx="466.0" cy="168.4"/><circle cx="552.3" cy="126.5"/><circle cx="368.0" cy="232.4"/><circle cx="414.7" cy="201.0"/><circle cx="391.2" cy="199.1"/><circle cx="360.2" cy="210.4"/><circle cx="547.0" cy="135.0"/><circle cx="415.1" cy="183.9"/><circle cx="363.9" cy="208.3"/><circle cx="358.9" cy="247.0"/><circle cx="485.3" cy="157.9"/><circle cx="443.3" cy="182.1"/><circle cx="345.1" cy="244.6"/><circle cx="348.1" cy="242.3"/><circle cx="516.4" cy="152.7"/><circle cx="548.9" cy="117.6"/><circle cx="522.1" cy="131.7"/><circle cx="482.8" cy="152.7"/><circle cx="476.9" cy="155.0"/><circle cx="568.0" cy="109.3"/><circle cx="339.6" cy="216.9"/><circle cx="453.5" cy="172.9"/><circle cx="497.7" cy="159.0"/><circle cx="528.9" cy="137.8"/><circle cx="541.2" cy="150.2"/><circle cx="435.5" cy="176.4"/><circle cx="372.8" cy="226.8"/><circle cx="345.2" cy="265.0"/><circle cx="517.1" cy="142.3"/><circle cx="342.9" cy="219.9"/><circle cx="482.0" cy="152.5"/><circle cx="512.9" cy="143.3"/><circle cx="472.0" cy="164.8"/><circle cx="342.6" cy="203.7"/><circle cx="491.2" cy="160.4"/><circle cx="444.7" cy="178.5"/><circle cx="348.9" cy="214.7"/><circle cx="555.0" cy="154.1"/><circle cx="480.9" cy="157.9"/><circle cx="455.1" cy="171.8"/><circle cx="538.6" cy="137.8"/><circle cx="562.6" cy="111.1"/><circle cx="512.1" cy="132.6"/><circle cx="537.2" cy="141.4"/><circle cx="377.0" cy="193.2"/><circle cx="533.0" cy="149.2"/><circle cx="351.9" cy="187.4"/><circle cx="459.1" cy="169.6"/><circle cx="481.6" cy="151.6"/><circle cx="402.0" cy="214.4"/><circle cx="392.9" cy="208.4"/><circle cx="346.5" cy="223.9"/><circle cx="488.4" cy="165.4"/><circle cx="366.7" cy="210.8"/><circle cx="345.6" cy="263.5"/><circle cx="532.7" cy="126.1"/><circle cx="356.2" cy="226.7"/><circle cx="463.4" cy="169.3"/><circle cx="404.6" cy="199.7"/><circle cx="371.4" cy="191.4"/><circle cx="387.7" cy="186.6"/><circle cx="502.4" cy="143.9"/><circle cx="403.1" cy="182.7"/><circle cx="466.9" cy="160.8"/><circle cx="451.0" cy="174.8"/><circle cx="479.4" cy="164.6"/><circle cx="499.0" cy="148.1"/><circle cx="406.4" cy="186.4"/><circle cx="392.4" cy="213.2"/><circle cx="479.8" cy="156.3"/><circle cx="453.4" cy="172.0"/><circle cx="476.8" cy="159.8"/><circle cx="389.1" cy="198.0"/><circle cx="423.0" cy="193.1"/><circle cx="341.8" cy="226.5"/><circle cx="520.3" cy="135.7"/><circle cx="352.1" cy="211.3"/><circle cx="369.2" cy="194.7"/><circle cx="354.6" cy="219.1"/><circle cx="351.5" cy="248.8"/><circle cx="487.3" cy="159.2"/><circle cx="527.9" cy="155.4"/><circle cx="525.4" cy="133.6"/><circle cx="473.9" cy="161.9"/><circle cx="348.1" cy="222.8"/><circle cx="377.5" cy="217.0"/><circle cx="379.0" cy="235.0"/><circle cx="384.6" cy="234.0"/><circle cx="519.8" cy="160.7"/><circle cx="351.2" cy="236.1"/><circle cx="373.4" cy="190.4"/><circle cx="446.0" cy="177.3"/><circle cx="521.1" cy="126.0"/><circle cx="389.4" cy="198.4"/><circle cx="466.8" cy="163.7"/><circle cx="351.4" cy="237.1"/><circle cx="371.0" cy="242.1"/><circle cx="452.0" cy="172.7"/><circle cx="447.1" cy="174.2"/><circle cx="349.9" cy="215.5"/><circle cx="556.1" cy="130.6"/><circle cx="498.4" cy="164.0"/><circle cx="352.3" cy="234.2"/><circle cx="339.6" cy="268.7"/><circle cx="541.1" cy="132.0"/><circle cx="506.2" cy="156.4"/><circle cx="530.7" cy="150.1"/><circle cx="377.1" cy="219.8"/><circle cx="359.3" cy="204.4"/><circle cx="402.8" cy="201.8"/><circle cx="433.7" cy="186.5"/><circle cx="494.6" cy="151.1"/><circle cx="421.0" cy="196.8"/><circle cx="498.4" cy="158.4"/><circle cx="521.6" cy="143.2"/><circle cx="346.2" cy="232.4"/><circle cx="460.9" cy="169.8"/><circle cx="462.9" cy="166.3"/><circle cx="530.1" cy="136.0"/><circle cx="384.9" cy="189.0"/><circle cx="417.5" cy="186.8"/><circle cx="351.2" cy="202.8"/><circle cx="509.4" cy="135.9"/><circle cx="417.9" cy="184.2"/><circle cx="350.0" cy="253.3"/><circle cx="346.2" cy="191.3"/><circle cx="497.4" cy="161.9"/><circle cx="370.9" cy="189.5"/><circle cx="533.2" cy="146.4"/><circle cx="375.2" cy="205.1"/><circle cx="552.5" cy="139.2"/><circle cx="377.8" cy="234.6"/><circle cx="357.0" cy="200.4"/><circle cx="341.6" cy="216.1"/><circle cx="500.1" cy="129.8"/><circle cx="349.2" cy="252.1"/><circle cx="407.9" cy="193.3"/><circle cx="449.5" cy="172.7"/><circle cx="466.6" cy="166.9"/><circle cx="347.0" cy="207.6"/><circle cx="339.8" cy="222.8"/><circle cx="486.0" cy="153.2"/><circle cx="383.7" cy="226.5"/><circle cx="487.5" cy="156.8"/><circle cx="402.3" cy="204.7"/><circle cx="518.0" cy="130.5"/><circle cx="559.2" cy="111.4"/><circle cx="351.1" cy="220.8"/><circle cx="339.6" cy="211.5"/><circle cx="359.3" cy="227.6"/><circle cx="367.1" cy="201.6"/><circle cx="497.9" cy="154.2"/><circle cx="408.7" cy="210.6"/><circle cx="370.9" cy="214.3"/><circle cx="517.0" cy="155.1"/><circle cx="342.6" cy="264.0"/><circle cx="358.8" cy="220.9"/><circle cx="358.7" cy="250.1"/><circle cx="343.0" cy="242.9"/><circle cx="367.0" cy="235.7"/><circle cx="358.7" cy="210.2"/><circle cx="564.8" cy="116.8"/><circle cx="397.4" cy="219.2"/><circle cx="343.6" cy="220.3"/><circle cx="433.3" cy="189.5"/><circle cx="377.1" cy="222.1"/><circle cx="549.3" cy="155.8"/><circle cx="358.1" cy="225.1"/><circle cx="528.5" cy="141.8"/><circle cx="342.4" cy="224.3"/><circle cx="355.4" cy="195.3"/><circle cx="400.1" cy="198.4"/><circle cx="478.2" cy="161.7"/><circle cx="491.9" cy="159.8"/><circle cx="356.8" cy="221.5"/><circle cx="364.1" cy="217.7"/><circle cx="342.9" cy="264.5"/><circle cx="495.2" cy="143.6"/><circle cx="341.3" cy="249.2"/><circle cx="513.4" cy="148.2"/><circle cx="531.9" cy="144.5"/><circle cx="344.2" cy="196.5"/><circle cx="532.8" cy="148.9"/><circle cx="474.6" cy="162.3"/><circle cx="424.9" cy="196.8"/><circle cx="497.3" cy="134.8"/><circle cx="389.3" cy="188.0"/><circle cx="348.0" cy="229.2"/><circle cx="522.5" cy="146.0"/><circle cx="350.4" cy="241.9"/><circle cx="402.2" cy="216.8"/><circle cx="552.6" cy="154.9"/><circle cx="368.3" cy="230.6"/><circle cx="365.4" cy="216.9"/><circle cx="491.8" cy="150.4"/><circle cx="480.2" cy="155.5"/><circle cx="362.7" cy="191.1"/><circle cx="356.0" cy="205.5"/><circle cx="400.9" cy="206.1"/><circle cx="353.1" cy="211.2"/><circle cx="529.7" cy="139.3"/><circle cx="473.6" cy="166.2"/><circle cx="360.3" cy="209.0"/><circle cx="398.1" cy="211.2"/><circle cx="428.5" cy="185.6"/><circle cx="497.7" cy="162.4"/><circle cx="376.7" cy="192.3"/><circle cx="468.8" cy="165.5"/><circle cx="362.7" cy="194.1"/><circle cx="359.2" cy="192.1"/><circle cx="345.6" cy="193.4"/><circle cx="480.0" cy="159.8"/><circle cx="350.7" cy="232.3"/><circle cx="497.0" cy="163.9"/><circle cx="376.8" cy="186.8"/><circle cx="384.1" cy="198.5"/><circle cx="367.0" cy="225.8"/><circle cx="510.3" cy="148.4"/><circle cx="354.0" cy="246.9"/><circle cx="351.0" cy="246.5"/><circle cx="361.3" cy="242.8"/><circle cx="547.2" cy="117.7"/><circle cx="464.1" cy="166.1"/><circle cx="463.7" cy="167.0"/><circle cx="345.6" cy="220.8"/><circle cx="405.6" cy="195.8"/><circle cx="462.7" cy="168.2"/><circle cx="341.0" cy="197.9"/><circle cx="439.2" cy="176.9"/><circle cx="347.5" cy="250.9"/><circle cx="354.1" cy="201.1"/><circle cx="506.4" cy="144.9"/><circle cx="351.1" cy="191.2"/><circle cx="462.8" cy="169.9"/><circle cx="353.6" cy="255.2"/><circle cx="550.0" cy="147.0"/><circle cx="466.0" cy="166.2"/><circle cx="375.3" cy="220.9"/><circle cx="467.5" cy="164.8"/><circle cx="377.9" cy="197.9"/><circle cx="368.6" cy="186.5"/><circle cx="366.9" cy="207.1"/><circle cx="442.5" cy="183.0"/><circle cx="465.8" cy="168.3"/><circle cx="430.3" cy="185.5"/><circle cx="484.5" cy="150.6"/><circle cx="375.3" cy="230.2"/><circle cx="373.1" cy="195.2"/><circle cx="393.3" cy="209.6"/><circle cx="363.1" cy="249.3"/><circle cx="357.5" cy="230.1"/><circle cx="339.7" cy="220.7"/><circle cx="360.7" cy="212.8"/><circle cx="343.9" cy="229.2"/><circle cx="468.3" cy="167.8"/><circle cx="341.9" cy="247.6"/><circle cx="368.8" cy="204.9"/><circle cx="360.4" cy="246.2"/><circle cx="375.3" cy="191.5"/><circle cx="553.7" cy="151.7"/><circle cx="345.8" cy="223.3"/><circle cx="355.2" cy="251.5"/><circle cx="343.6" cy="225.8"/><circle cx="401.2" cy="185.0"/><circle cx="527.3" cy="144.7"/><circle cx="346.8" cy="263.4"/><circle cx="425.5" cy="194.6"/><circle cx="340.4" cy="212.5"/><circle cx="373.3" cy="227.9"/><circle cx="343.5" cy="197.2"/><circle cx="363.9" cy="206.3"/><circle cx="496.0" cy="156.0"/><circle cx="355.1" cy="209.1"/><circle cx="463.6" cy="167.2"/><circle cx="357.6" cy="195.1"/><circle cx="395.7" cy="182.5"/><circle cx="353.0" cy="242.6"/><circle cx="375.2" cy="192.3"/><circle cx="342.3" cy="230.8"/><circle cx="363.3" cy="213.8"/><circle cx="537.6" cy="95.0"/><circle cx="416.6" cy="184.5"/><circle cx="524.6" cy="125.8"/><circle cx="339.6" cy="239.4"/><circle cx="363.8" cy="246.3"/><circle cx="491.9" cy="160.5"/><circle cx="497.2" cy="151.4"/><circle cx="487.5" cy="154.6"/><circle cx="342.1" cy="219.3"/><circle cx="483.1" cy="155.0"/><circle cx="354.7" cy="234.7"/><circle cx="360.9" cy="204.6"/><circle cx="359.7" cy="195.5"/><circle cx="355.7" cy="215.2"/><circle cx="363.7" cy="190.1"/><circle cx="461.9" cy="169.1"/><circle cx="541.1" cy="124.1"/><circle cx="344.3" cy="234.1"/><circle cx="474.1" cy="158.9"/><circle cx="411.9" cy="186.3"/><circle cx="395.1" cy="196.2"/><circle cx="404.7" cy="188.1"/><circle cx="402.0" cy="211.2"/><circle cx="358.2" cy="231.7"/><circle cx="478.5" cy="164.6"/><circle cx="481.1" cy="163.5"/><circle cx="348.6" cy="250.9"/><circle cx="452.2" cy="172.9"/><circle cx="379.0" cy="219.8"/><circle cx="360.4" cy="243.1"/><circle cx="361.6" cy="241.7"/><circle cx="341.9" cy="200.9"/><circle cx="339.6" cy="202.1"/><circle cx="471.3" cy="167.2"/><circle cx="394.9" cy="206.9"/><circle cx="339.6" cy="227.5"/><circle cx="399.0" cy="209.4"/><circle cx="419.9" cy="195.8"/><circle cx="462.5" cy="168.8"/></g><g fill="#00B0F6" fill-opacity="0.38"><circle cx="435.7" cy="207.8"/><circle cx="366.4" cy="226.8"/><circle cx="344.0" cy="271.6"/><circle cx="365.3" cy="245.1"/><circle cx="344.4" cy="272.8"/><circle cx="355.6" cy="255.9"/><circle cx="358.1" cy="242.2"/><circle cx="344.8" cy="275.6"/><circle cx="382.2" cy="246.3"/><circle cx="389.3" cy="228.9"/><circle cx="353.8" cy="240.2"/><circle cx="362.4" cy="240.9"/><circle cx="367.2" cy="266.1"/><circle cx="371.5" cy="274.7"/><circle cx="364.0" cy="271.5"/><circle cx="366.3" cy="257.2"/><circle cx="388.4" cy="287.7"/><circle cx="357.0" cy="269.8"/><circle cx="377.0" cy="257.6"/><circle cx="354.8" cy="286.6"/><circle cx="405.5" cy="221.4"/><circle cx="340.6" cy="263.1"/><circle cx="346.7" cy="252.1"/><circle cx="356.3" cy="231.5"/><circle cx="373.4" cy="235.0"/><circle cx="354.9" cy="265.3"/><circle cx="366.3" cy="277.8"/><circle cx="404.2" cy="223.1"/><circle cx="437.2" cy="206.0"/><circle cx="357.4" cy="227.8"/><circle cx="349.9" cy="281.4"/><circle cx="374.6" cy="276.9"/><circle cx="353.6" cy="245.8"/><circle cx="370.8" cy="238.8"/><circle cx="340.5" cy="285.0"/><circle cx="355.8" cy="283.9"/><circle cx="412.3" cy="203.8"/><circle cx="353.9" cy="246.2"/><circle cx="356.8" cy="271.6"/><circle cx="357.4" cy="267.6"/><circle cx="371.8" cy="277.4"/><circle cx="342.6" cy="262.8"/><circle cx="339.8" cy="280.9"/><circle cx="377.3" cy="226.1"/><circle cx="351.9" cy="242.7"/><circle cx="356.0" cy="267.6"/><circle cx="379.5" cy="224.4"/><circle cx="360.1" cy="253.3"/><circle cx="390.7" cy="239.9"/><circle cx="341.4" cy="284.8"/><circle cx="389.8" cy="215.5"/><circle cx="341.6" cy="272.0"/><circle cx="387.8" cy="222.1"/><circle cx="346.3" cy="244.7"/><circle cx="340.9" cy="251.0"/><circle cx="360.1" cy="272.2"/><circle cx="350.6" cy="278.7"/><circle cx="365.4" cy="255.9"/><circle cx="339.6" cy="259.2"/><circle cx="351.3" cy="249.3"/><circle cx="358.4" cy="277.8"/><circle cx="387.7" cy="243.0"/><circle cx="352.8" cy="271.6"/><circle cx="382.1" cy="222.5"/><circle cx="341.1" cy="243.2"/><circle cx="438.1" cy="205.2"/><circle cx="353.1" cy="279.0"/><circle cx="366.9" cy="243.3"/><circle cx="352.2" cy="246.1"/><circle cx="379.7" cy="233.1"/><circle cx="343.5" cy="261.1"/><circle cx="339.6" cy="247.1"/><circle cx="373.5" cy="257.8"/><circle cx="350.9" cy="232.7"/><circle cx="360.0" cy="229.0"/><circle cx="426.9" cy="233.4"/><circle cx="345.4" cy="258.5"/><circle cx="370.2" cy="238.6"/><circle cx="354.6" cy="263.5"/><circle cx="358.6" cy="256.8"/><circle cx="386.7" cy="241.3"/><circle cx="342.5" cy="283.3"/><circle cx="343.9" cy="226.1"/><circle cx="360.5" cy="284.4"/><circle cx="344.6" cy="238.8"/><circle cx="346.7" cy="265.7"/><circle cx="355.1" cy="274.7"/><circle cx="344.8" cy="264.9"/><circle cx="377.5" cy="271.8"/><circle cx="348.4" cy="245.7"/><circle cx="421.2" cy="218.0"/><circle cx="414.4" cy="220.9"/><circle cx="346.9" cy="286.9"/><circle cx="355.8" cy="259.4"/><circle cx="350.7" cy="263.5"/><circle cx="383.8" cy="256.5"/><circle cx="364.8" cy="252.6"/><circle cx="343.9" cy="238.9"/><circle cx="361.4" cy="245.8"/><circle cx="374.4" cy="224.7"/><circle cx="347.5" cy="269.9"/><circle cx="339.6" cy="257.5"/><circle cx="428.4" cy="184.5"/><circle cx="354.8" cy="279.0"/><circle cx="386.6" cy="213.5"/><circle cx="351.1" cy="244.6"/><circle cx="350.7" cy="259.1"/><circle cx="339.6" cy="266.2"/><circle cx="379.2" cy="268.6"/><circle cx="346.0" cy="283.2"/><circle cx="397.2" cy="245.3"/><circle cx="343.8" cy="255.0"/><circle cx="343.3" cy="237.9"/><circle cx="369.4" cy="221.6"/><circle cx="409.3" cy="208.1"/><circle cx="437.8" cy="183.2"/><circle cx="362.1" cy="251.1"/><circle cx="373.3" cy="277.3"/><circle cx="354.2" cy="270.5"/><circle cx="369.1" cy="267.6"/><circle cx="350.6" cy="258.1"/><circle cx="364.2" cy="230.0"/><circle cx="358.3" cy="261.5"/><circle cx="365.2" cy="220.4"/><circle cx="351.9" cy="250.4"/><circle cx="423.2" cy="242.8"/><circle cx="357.7" cy="237.2"/><circle cx="428.8" cy="192.5"/><circle cx="365.7" cy="275.4"/><circle cx="397.8" cy="214.6"/><circle cx="341.8" cy="263.9"/><circle cx="355.1" cy="278.0"/><circle cx="339.8" cy="280.1"/><circle cx="413.6" cy="212.4"/><circle cx="373.5" cy="211.3"/><circle cx="342.9" cy="277.9"/><circle cx="359.1" cy="279.1"/><circle cx="366.1" cy="274.0"/><circle cx="361.8" cy="263.4"/><circle cx="353.3" cy="237.6"/><circle cx="391.4" cy="230.1"/><circle cx="339.6" cy="257.1"/><circle cx="390.9" cy="287.9"/><circle cx="366.1" cy="228.1"/><circle cx="346.1" cy="242.2"/><circle cx="373.7" cy="265.1"/><circle cx="389.6" cy="217.0"/><circle cx="359.2" cy="265.4"/><circle cx="401.8" cy="226.2"/><circle cx="402.0" cy="228.4"/><circle cx="347.3" cy="223.9"/><circle cx="388.1" cy="216.5"/><circle cx="344.0" cy="271.7"/><circle cx="359.4" cy="252.2"/><circle cx="363.2" cy="270.5"/><circle cx="370.6" cy="231.2"/><circle cx="342.6" cy="282.2"/><circle cx="369.1" cy="229.5"/><circle cx="357.5" cy="220.5"/><circle cx="362.7" cy="287.5"/><circle cx="397.7" cy="266.8"/><circle cx="409.8" cy="203.2"/><circle cx="356.2" cy="234.0"/><circle cx="412.2" cy="196.9"/><circle cx="350.2" cy="280.6"/><circle cx="408.5" cy="219.9"/><circle cx="345.6" cy="244.6"/><circle cx="343.7" cy="284.3"/><circle cx="354.1" cy="246.0"/><circle cx="375.7" cy="262.6"/><circle cx="363.5" cy="279.0"/><circle cx="374.6" cy="228.3"/><circle cx="354.8" cy="287.0"/><circle cx="354.0" cy="236.0"/><circle cx="349.6" cy="239.4"/><circle cx="347.0" cy="260.3"/><circle cx="341.7" cy="235.1"/><circle cx="392.4" cy="269.9"/><circle cx="348.3" cy="245.0"/><circle cx="419.3" cy="215.0"/><circle cx="359.4" cy="234.0"/><circle cx="373.8" cy="252.4"/><circle cx="367.0" cy="230.0"/><circle cx="399.9" cy="207.1"/><circle cx="365.0" cy="272.6"/><circle cx="375.9" cy="211.8"/><circle cx="435.0" cy="210.4"/><circle cx="339.6" cy="260.8"/><circle cx="350.8" cy="287.6"/><circle cx="380.0" cy="238.4"/><circle cx="412.6" cy="263.4"/><circle cx="348.7" cy="279.9"/><circle cx="356.3" cy="235.5"/><circle cx="341.6" cy="258.9"/><circle cx="378.0" cy="245.2"/><circle cx="371.4" cy="230.2"/><circle cx="373.8" cy="242.0"/><circle cx="343.1" cy="252.0"/><circle cx="355.0" cy="250.4"/><circle cx="382.4" cy="240.0"/><circle cx="414.3" cy="244.3"/><circle cx="349.7" cy="282.5"/><circle cx="344.0" cy="272.8"/><circle cx="374.8" cy="259.0"/><circle cx="410.7" cy="218.6"/><circle cx="339.9" cy="232.3"/><circle cx="363.0" cy="253.4"/><circle cx="399.2" cy="212.9"/><circle cx="357.9" cy="262.6"/><circle cx="368.4" cy="266.5"/><circle cx="361.6" cy="237.4"/><circle cx="351.7" cy="272.5"/><circle cx="365.4" cy="277.2"/><circle cx="345.3" cy="279.0"/><circle cx="358.0" cy="231.0"/><circle cx="359.3" cy="270.3"/><circle cx="339.6" cy="256.7"/><circle cx="357.7" cy="230.2"/><circle cx="364.6" cy="272.4"/><circle cx="390.2" cy="204.0"/><circle cx="385.0" cy="244.0"/><circle cx="366.3" cy="267.2"/><circle cx="347.2" cy="268.3"/><circle cx="380.3" cy="226.4"/><circle cx="343.7" cy="233.1"/><circle cx="368.3" cy="269.7"/><circle cx="371.6" cy="242.4"/><circle cx="382.4" cy="231.6"/><circle cx="340.0" cy="267.2"/><circle cx="434.0" cy="189.2"/><circle cx="387.5" cy="241.7"/><circle cx="392.2" cy="245.3"/><circle cx="340.7" cy="247.3"/><circle cx="342.6" cy="265.5"/><circle cx="368.0" cy="232.9"/><circle cx="375.4" cy="254.5"/><circle cx="364.4" cy="223.2"/><circle cx="345.2" cy="237.5"/><circle cx="342.1" cy="284.5"/><circle cx="353.0" cy="223.9"/><circle cx="363.8" cy="272.4"/><circle cx="368.2" cy="224.4"/><circle cx="419.3" cy="211.7"/><circle cx="350.4" cy="250.5"/><circle cx="362.3" cy="248.6"/><circle cx="388.3" cy="276.1"/><circle cx="389.8" cy="252.2"/><circle cx="347.0" cy="228.8"/><circle cx="364.9" cy="282.0"/><circle cx="397.7" cy="257.6"/><circle cx="343.2" cy="245.2"/><circle cx="362.5" cy="228.8"/><circle cx="375.0" cy="240.6"/><circle cx="348.6" cy="281.6"/><circle cx="356.7" cy="228.5"/><circle cx="385.1" cy="234.3"/><circle cx="357.8" cy="244.9"/><circle cx="384.0" cy="220.8"/><circle cx="357.5" cy="219.0"/><circle cx="360.7" cy="239.5"/><circle cx="344.2" cy="226.9"/><circle cx="353.3" cy="240.0"/><circle cx="382.3" cy="251.8"/><circle cx="370.2" cy="284.3"/><circle cx="341.2" cy="274.9"/><circle cx="343.9" cy="272.9"/><circle cx="347.8" cy="286.1"/><circle cx="339.6" cy="247.3"/><circle cx="382.1" cy="230.0"/><circle cx="349.6" cy="257.8"/><circle cx="363.0" cy="276.4"/><circle cx="340.1" cy="247.1"/><circle cx="364.9" cy="230.1"/><circle cx="341.3" cy="284.4"/><circle cx="341.1" cy="276.2"/><circle cx="346.1" cy="242.9"/><circle cx="376.1" cy="242.4"/><circle cx="399.5" cy="242.4"/><circle cx="362.0" cy="267.3"/><circle cx="359.0" cy="279.8"/><circle cx="351.6" cy="238.8"/><circle cx="369.6" cy="251.9"/><circle cx="386.0" cy="256.4"/><circle cx="403.8" cy="207.5"/><circle cx="356.5" cy="250.4"/><circle cx="366.3" cy="239.2"/><circle cx="353.5" cy="260.3"/><circle cx="379.8" cy="260.4"/><circle cx="372.9" cy="244.3"/><circle cx="386.9" cy="229.9"/><circle cx="409.0" cy="270.0"/><circle cx="372.7" cy="249.9"/><circle cx="364.8" cy="227.1"/><circle cx="390.3" cy="249.9"/><circle cx="357.3" cy="229.8"/><circle cx="362.0" cy="255.1"/><circle cx="372.0" cy="218.7"/><circle cx="401.6" cy="207.7"/><circle cx="346.2" cy="243.6"/><circle cx="352.5" cy="265.9"/><circle cx="377.9" cy="275.2"/><circle cx="346.9" cy="254.3"/><circle cx="413.3" cy="201.8"/><circle cx="399.5" cy="232.4"/><circle cx="349.4" cy="266.8"/><circle cx="370.7" cy="247.2"/><circle cx="361.2" cy="254.1"/><circle cx="343.2" cy="257.7"/><circle cx="400.1" cy="268.5"/><circle cx="406.3" cy="225.9"/><circle cx="360.8" cy="254.9"/><circle cx="349.2" cy="235.9"/><circle cx="361.2" cy="285.3"/><circle cx="360.0" cy="242.7"/><circle cx="342.3" cy="275.7"/><circle cx="342.5" cy="252.9"/><circle cx="432.1" cy="188.9"/><circle cx="343.7" cy="286.4"/><circle cx="373.3" cy="228.5"/><circle cx="394.5" cy="286.4"/><circle cx="381.0" cy="278.9"/><circle cx="370.5" cy="269.0"/><circle cx="349.3" cy="269.3"/><circle cx="369.4" cy="242.1"/><circle cx="370.6" cy="222.4"/><circle cx="392.3" cy="256.0"/><circle cx="349.7" cy="286.6"/><circle cx="351.0" cy="242.6"/><circle cx="378.0" cy="231.5"/><circle cx="358.4" cy="238.6"/><circle cx="372.3" cy="267.1"/><circle cx="410.6" cy="226.3"/><circle cx="356.8" cy="233.8"/><circle cx="340.1" cy="243.0"/><circle cx="347.9" cy="234.8"/><circle cx="347.6" cy="259.7"/><circle cx="422.9" cy="208.8"/><circle cx="367.3" cy="253.5"/><circle cx="348.5" cy="235.0"/><circle cx="345.1" cy="278.1"/><circle cx="340.2" cy="253.5"/><circle cx="350.8" cy="241.1"/><circle cx="394.4" cy="249.6"/><circle cx="345.2" cy="232.4"/><circle cx="339.6" cy="237.3"/><circle cx="353.2" cy="263.7"/><circle cx="369.4" cy="214.3"/><circle cx="402.0" cy="203.6"/><circle cx="378.4" cy="219.9"/><circle cx="373.5" cy="224.3"/><circle cx="342.8" cy="247.4"/><circle cx="398.7" cy="267.4"/><circle cx="342.2" cy="266.0"/><circle cx="399.5" cy="244.1"/><circle cx="414.1" cy="219.6"/><circle cx="381.4" cy="221.7"/><circle cx="401.7" cy="255.1"/><circle cx="368.1" cy="256.5"/><circle cx="357.1" cy="278.9"/><circle cx="400.4" cy="205.4"/><circle cx="354.1" cy="260.8"/><circle cx="380.7" cy="230.8"/><circle cx="342.5" cy="274.9"/><circle cx="342.2" cy="248.1"/><circle cx="381.9" cy="247.6"/><circle cx="351.6" cy="243.6"/><circle cx="430.3" cy="191.4"/><circle cx="356.3" cy="261.0"/><circle cx="345.3" cy="259.1"/><circle cx="366.5" cy="235.0"/><circle cx="380.3" cy="229.5"/><circle cx="400.5" cy="224.6"/><circle cx="341.1" cy="277.5"/><circle cx="403.3" cy="227.4"/><circle cx="346.6" cy="233.2"/><circle cx="394.6" cy="246.7"/><circle cx="348.9" cy="253.3"/><circle cx="385.7" cy="235.9"/><circle cx="358.3" cy="274.4"/><circle cx="422.7" cy="210.3"/><circle cx="345.4" cy="224.9"/><circle cx="357.9" cy="239.4"/><circle cx="383.8" cy="274.4"/><circle cx="361.4" cy="220.1"/><circle cx="347.0" cy="269.7"/><circle cx="396.1" cy="270.7"/><circle cx="345.0" cy="285.7"/><circle cx="398.8" cy="234.3"/><circle cx="354.2" cy="241.4"/><circle cx="343.2" cy="245.4"/><circle cx="357.9" cy="260.6"/><circle cx="347.8" cy="244.7"/><circle cx="364.7" cy="264.4"/><circle cx="343.2" cy="257.5"/><circle cx="356.0" cy="226.0"/><circle cx="346.9" cy="229.5"/><circle cx="345.1" cy="233.3"/><circle cx="341.2" cy="282.9"/><circle cx="424.3" cy="206.5"/><circle cx="390.2" cy="247.6"/><circle cx="359.7" cy="258.5"/><circle cx="341.5" cy="265.4"/><circle cx="351.1" cy="240.6"/><circle cx="386.7" cy="271.0"/><circle cx="359.9" cy="266.1"/><circle cx="382.6" cy="213.8"/><circle cx="421.2" cy="208.9"/><circle cx="404.6" cy="253.6"/><circle cx="367.6" cy="276.8"/><circle cx="370.6" cy="222.7"/><circle cx="341.1" cy="236.9"/><circle cx="342.6" cy="277.2"/><circle cx="339.6" cy="255.5"/><circle cx="354.8" cy="233.3"/><circle cx="382.3" cy="215.9"/><circle cx="351.1" cy="260.0"/><circle cx="369.2" cy="219.6"/><circle cx="367.4" cy="214.3"/><circle cx="365.2" cy="263.6"/><circle cx="355.0" cy="283.5"/><circle cx="355.4" cy="236.7"/><circle cx="390.1" cy="234.1"/><circle cx="369.8" cy="217.5"/><circle cx="403.6" cy="285.4"/><circle cx="373.7" cy="239.2"/><circle cx="355.5" cy="258.2"/><circle cx="344.9" cy="254.7"/><circle cx="366.1" cy="253.6"/><circle cx="415.1" cy="229.6"/><circle cx="369.9" cy="224.7"/><circle cx="362.0" cy="225.8"/><circle cx="411.6" cy="220.9"/><circle cx="362.1" cy="245.8"/><circle cx="342.7" cy="254.0"/><circle cx="347.9" cy="246.2"/><circle cx="381.0" cy="263.6"/><circle cx="347.3" cy="248.8"/><circle cx="345.2" cy="246.8"/><circle cx="417.5" cy="204.2"/><circle cx="362.0" cy="263.6"/><circle cx="392.1" cy="249.0"/><circle cx="386.8" cy="251.8"/><circle cx="356.5" cy="245.2"/><circle cx="411.6" cy="229.5"/><circle cx="396.4" cy="213.8"/><circle cx="342.9" cy="278.2"/><circle cx="359.3" cy="227.0"/><circle cx="356.4" cy="286.5"/><circle cx="391.3" cy="280.8"/><circle cx="375.0" cy="250.0"/><circle cx="348.0" cy="259.2"/><circle cx="361.8" cy="233.7"/><circle cx="346.3" cy="251.1"/><circle cx="349.3" cy="278.2"/><circle cx="345.2" cy="275.1"/><circle cx="382.4" cy="227.7"/><circle cx="406.1" cy="269.3"/><circle cx="356.6" cy="255.3"/><circle cx="355.0" cy="238.4"/><circle cx="373.7" cy="226.7"/><circle cx="393.2" cy="222.5"/><circle cx="355.5" cy="269.1"/><circle cx="363.6" cy="237.5"/><circle cx="377.1" cy="227.7"/><circle cx="385.2" cy="259.8"/><circle cx="384.8" cy="276.0"/><circle cx="427.9" cy="203.5"/><circle cx="344.5" cy="288.3"/><circle cx="341.9" cy="263.9"/><circle cx="394.8" cy="232.7"/><circle cx="437.9" cy="185.2"/><circle cx="440.7" cy="181.2"/><circle cx="343.5" cy="235.3"/><circle cx="409.4" cy="272.2"/><circle cx="368.0" cy="237.5"/><circle cx="362.2" cy="235.3"/><circle cx="361.1" cy="245.9"/><circle cx="355.0" cy="283.6"/><circle cx="371.0" cy="265.5"/><circle cx="362.0" cy="244.1"/><circle cx="369.9" cy="271.5"/><circle cx="345.7" cy="279.9"/><circle cx="355.4" cy="228.7"/><circle cx="351.3" cy="229.1"/><circle cx="413.6" cy="226.4"/><circle cx="396.4" cy="206.7"/><circle cx="362.7" cy="277.8"/><circle cx="347.4" cy="239.2"/><circle cx="341.6" cy="266.7"/><circle cx="353.5" cy="268.3"/><circle cx="341.5" cy="237.6"/></g><g fill="#E76BF3" fill-opacity="0.38"><circle cx="472.4" cy="168.4"/><circle cx="439.2" cy="177.1"/><circle cx="551.1" cy="141.4"/><circle cx="515.7" cy="158.3"/><circle cx="551.2" cy="153.9"/><circle cx="442.7" cy="174.7"/><circle cx="414.5" cy="179.8"/><circle cx="476.2" cy="166.6"/><circle cx="567.5" cy="155.4"/><circle cx="569.1" cy="154.1"/><circle cx="457.9" cy="170.3"/><circle cx="463.2" cy="167.7"/><circle cx="438.9" cy="172.1"/><circle cx="452.8" cy="172.1"/><circle cx="454.2" cy="171.4"/><circle cx="445.2" cy="172.7"/><circle cx="465.5" cy="166.7"/><circle cx="487.2" cy="164.9"/><circle cx="422.1" cy="180.9"/><circle cx="545.2" cy="130.5"/><circle cx="550.9" cy="158.7"/><circle cx="558.7" cy="145.7"/><circle cx="485.2" cy="154.4"/><circle cx="416.6" cy="190.3"/><circle cx="553.0" cy="154.8"/><circle cx="417.5" cy="179.5"/><circle cx="523.2" cy="132.0"/><circle cx="566.1" cy="151.8"/><circle cx="493.0" cy="160.4"/><circle cx="461.6" cy="168.5"/><circle cx="460.4" cy="170.1"/><circle cx="533.7" cy="160.2"/><circle cx="405.3" cy="172.5"/><circle cx="511.9" cy="163.5"/><circle cx="527.7" cy="132.6"/><circle cx="454.8" cy="171.2"/><circle cx="465.3" cy="168.6"/><circle cx="533.7" cy="159.6"/><circle cx="569.1" cy="113.1"/><circle cx="565.7" cy="156.0"/><circle cx="447.6" cy="173.4"/><circle cx="562.9" cy="152.7"/><circle cx="453.3" cy="172.2"/><circle cx="570.5" cy="109.6"/><circle cx="453.9" cy="172.0"/><circle cx="566.7" cy="112.5"/><circle cx="443.2" cy="175.8"/><circle cx="562.2" cy="125.6"/><circle cx="453.4" cy="171.2"/><circle cx="463.4" cy="168.5"/><circle cx="464.9" cy="167.2"/><circle cx="563.4" cy="116.6"/><circle cx="545.7" cy="151.7"/><circle cx="474.0" cy="158.0"/><circle cx="414.5" cy="174.0"/><circle cx="448.8" cy="171.3"/><circle cx="563.7" cy="133.7"/><circle cx="565.9" cy="123.2"/><circle cx="461.2" cy="169.4"/><circle cx="564.6" cy="114.5"/><circle cx="557.0" cy="121.0"/><circle cx="488.5" cy="159.2"/><circle cx="512.1" cy="163.3"/><circle cx="545.9" cy="141.6"/><circle cx="474.4" cy="163.9"/><circle cx="480.1" cy="162.9"/><circle cx="473.7" cy="159.0"/><circle cx="488.0" cy="160.2"/><circle cx="434.6" cy="175.2"/><circle cx="477.1" cy="162.2"/><circle cx="453.1" cy="172.4"/><circle cx="573.2" cy="128.1"/><circle cx="468.4" cy="163.7"/><circle cx="463.2" cy="167.8"/><circle cx="474.7" cy="164.4"/><circle cx="555.1" cy="131.1"/><circle cx="571.2" cy="118.0"/><circle cx="566.0" cy="143.1"/><circle cx="508.1" cy="137.1"/><circle cx="402.4" cy="189.4"/><circle cx="424.5" cy="175.0"/><circle cx="548.0" cy="152.4"/><circle cx="570.7" cy="145.1"/><circle cx="553.2" cy="141.9"/><circle cx="454.6" cy="171.6"/><circle cx="446.8" cy="174.8"/><circle cx="497.4" cy="158.7"/><circle cx="480.8" cy="159.2"/><circle cx="479.8" cy="166.3"/><circle cx="527.1" cy="147.4"/><circle cx="451.5" cy="171.8"/><circle cx="539.1" cy="160.7"/><circle cx="465.6" cy="165.0"/><circle cx="422.0" cy="174.2"/><circle cx="395.0" cy="183.7"/><circle cx="420.6" cy="176.5"/><circle cx="447.1" cy="173.2"/><circle cx="542.4" cy="159.8"/><circle cx="448.1" cy="173.3"/><circle cx="565.2" cy="155.7"/><circle cx="573.2" cy="144.6"/><circle cx="481.5" cy="153.5"/><circle cx="554.5" cy="139.4"/><circle cx="538.6" cy="135.7"/><circle cx="454.2" cy="171.4"/><circle cx="489.1" cy="147.5"/><circle cx="451.8" cy="172.4"/><circle cx="533.5" cy="144.4"/><circle cx="570.0" cy="122.2"/><circle cx="464.1" cy="165.6"/><circle cx="568.9" cy="130.5"/><circle cx="460.5" cy="169.0"/><circle cx="544.1" cy="144.5"/><circle cx="560.2" cy="132.5"/><circle cx="485.3" cy="157.2"/><circle cx="487.4" cy="152.3"/><circle cx="549.7" cy="146.7"/><circle cx="529.2" cy="153.7"/><circle cx="460.7" cy="170.0"/><circle cx="564.6" cy="117.2"/><circle cx="424.1" cy="178.2"/><circle cx="531.2" cy="158.9"/><circle cx="554.1" cy="117.9"/><circle cx="573.2" cy="131.7"/><circle cx="427.2" cy="178.0"/><circle cx="535.6" cy="129.7"/><circle cx="562.5" cy="157.1"/><circle cx="573.2" cy="140.8"/><circle cx="565.9" cy="136.7"/><circle cx="500.4" cy="161.8"/><circle cx="485.5" cy="154.8"/><circle cx="453.5" cy="171.3"/><circle cx="556.8" cy="142.4"/><circle cx="447.7" cy="173.1"/><circle cx="425.8" cy="173.5"/><circle cx="478.2" cy="165.4"/><circle cx="532.8" cy="140.0"/><circle cx="564.2" cy="126.6"/><circle cx="462.8" cy="167.9"/><circle cx="438.8" cy="176.5"/><circle cx="469.4" cy="162.7"/><circle cx="563.9" cy="151.1"/><circle cx="416.0" cy="181.8"/><circle cx="543.5" cy="133.7"/><circle cx="560.8" cy="136.4"/><circle cx="471.6" cy="162.3"/><circle cx="445.6" cy="172.3"/><circle cx="478.1" cy="161.8"/><circle cx="481.3" cy="163.3"/><circle cx="562.9" cy="149.9"/><circle cx="552.7" cy="148.1"/><circle cx="563.6" cy="134.1"/><circle cx="546.4" cy="134.6"/><circle cx="555.8" cy="144.6"/><circle cx="555.5" cy="134.2"/><circle cx="479.0" cy="156.1"/><circle cx="572.2" cy="111.3"/><circle cx="469.4" cy="166.8"/><circle cx="491.8" cy="146.7"/><circle cx="495.3" cy="165.0"/><circle cx="403.2" cy="174.8"/><circle cx="444.4" cy="172.0"/><circle cx="465.0" cy="168.6"/><circle cx="540.1" cy="155.0"/><circle cx="423.1" cy="173.9"/><circle cx="561.3" cy="150.4"/><circle cx="526.1" cy="153.4"/><circle cx="448.3" cy="172.7"/><circle cx="474.8" cy="167.6"/><circle cx="515.1" cy="143.1"/><circle cx="471.7" cy="164.8"/><circle cx="409.5" cy="190.4"/><circle cx="470.1" cy="164.0"/><circle cx="559.3" cy="151.7"/><circle cx="468.7" cy="166.0"/><circle cx="516.8" cy="163.8"/><circle cx="473.0" cy="164.8"/><circle cx="447.0" cy="173.5"/><circle cx="466.8" cy="167.2"/><circle cx="541.5" cy="159.3"/><circle cx="558.7" cy="156.7"/><circle cx="568.0" cy="146.2"/><circle cx="500.7" cy="155.1"/><circle cx="562.8" cy="153.9"/><circle cx="571.3" cy="109.7"/><circle cx="559.0" cy="113.7"/><circle cx="458.6" cy="169.8"/><circle cx="558.6" cy="119.2"/><circle cx="451.4" cy="172.7"/><circle cx="512.1" cy="154.5"/><circle cx="561.2" cy="143.5"/><circle cx="453.9" cy="171.8"/><circle cx="461.4" cy="168.2"/><circle cx="551.4" cy="138.7"/><circle cx="452.2" cy="172.1"/><circle cx="482.8" cy="158.6"/><circle cx="545.4" cy="157.3"/><circle cx="567.8" cy="150.9"/><circle cx="569.9" cy="143.2"/><circle cx="556.3" cy="136.3"/><circle cx="422.5" cy="176.8"/><circle cx="560.4" cy="141.4"/><circle cx="569.4" cy="148.2"/><circle cx="458.4" cy="170.2"/><circle cx="477.2" cy="156.9"/><circle cx="458.3" cy="169.9"/><circle cx="564.3" cy="116.4"/><circle cx="478.9" cy="162.5"/><circle cx="464.7" cy="168.7"/><circle cx="544.4" cy="146.7"/><circle cx="519.9" cy="150.1"/><circle cx="470.8" cy="163.4"/><circle cx="554.7" cy="117.4"/><circle cx="571.0" cy="134.5"/><circle cx="522.2" cy="163.1"/><circle cx="510.3" cy="142.5"/><circle cx="545.2" cy="134.0"/><circle cx="435.5" cy="177.7"/><circle cx="481.5" cy="155.7"/><circle cx="449.6" cy="172.5"/><circle cx="572.4" cy="123.7"/><circle cx="538.8" cy="151.1"/><circle cx="507.5" cy="146.0"/><circle cx="558.8" cy="123.7"/><circle cx="440.7" cy="174.3"/><circle cx="567.8" cy="118.2"/><circle cx="573.2" cy="137.0"/><circle cx="557.5" cy="134.7"/><circle cx="560.1" cy="150.6"/><circle cx="566.2" cy="139.7"/><circle cx="446.4" cy="172.2"/><circle cx="565.8" cy="122.5"/><circle cx="567.6" cy="119.8"/><circle cx="561.8" cy="143.9"/><circle cx="534.2" cy="128.7"/><circle cx="559.5" cy="123.6"/><circle cx="566.4" cy="136.4"/><circle cx="564.2" cy="130.1"/><circle cx="480.0" cy="161.5"/><circle cx="549.5" cy="154.2"/><circle cx="458.4" cy="170.3"/><circle cx="426.2" cy="178.0"/><circle cx="556.6" cy="120.7"/><circle cx="459.0" cy="170.3"/><circle cx="559.3" cy="120.3"/><circle cx="479.1" cy="168.4"/><circle cx="549.8" cy="117.7"/><circle cx="465.1" cy="169.8"/><circle cx="453.6" cy="171.7"/><circle cx="509.6" cy="145.5"/><circle cx="498.9" cy="160.8"/><circle cx="573.2" cy="131.9"/><circle cx="424.4" cy="173.4"/><circle cx="462.0" cy="169.4"/><circle cx="416.5" cy="182.1"/><circle cx="565.9" cy="131.7"/><circle cx="550.1" cy="157.1"/><circle cx="553.2" cy="119.5"/><circle cx="568.8" cy="131.8"/><circle cx="444.6" cy="173.2"/><circle cx="448.5" cy="173.6"/><circle cx="474.9" cy="161.8"/><circle cx="447.4" cy="174.9"/><circle cx="458.1" cy="171.3"/><circle cx="458.1" cy="168.9"/><circle cx="510.6" cy="131.1"/><circle cx="561.4" cy="138.3"/><circle cx="453.1" cy="171.4"/><circle cx="416.5" cy="185.7"/><circle cx="507.3" cy="162.5"/><circle cx="479.0" cy="156.7"/><circle cx="419.8" cy="174.8"/><circle cx="460.3" cy="169.0"/><circle cx="549.3" cy="149.9"/><circle cx="566.2" cy="140.5"/><circle cx="560.6" cy="127.3"/><circle cx="564.9" cy="135.1"/><circle cx="555.0" cy="148.9"/><circle cx="483.0" cy="153.2"/><circle cx="504.2" cy="144.4"/><circle cx="438.7" cy="173.3"/><circle cx="569.9" cy="153.4"/><circle cx="469.2" cy="162.9"/><circle cx="493.9" cy="150.3"/><circle cx="567.3" cy="120.3"/><circle cx="466.7" cy="168.4"/><circle cx="571.6" cy="142.1"/><circle cx="476.2" cy="162.4"/><circle cx="492.9" cy="155.8"/><circle cx="569.2" cy="116.7"/><circle cx="545.9" cy="122.5"/><circle cx="449.2" cy="173.8"/><circle cx="461.8" cy="171.8"/><circle cx="459.6" cy="170.2"/><circle cx="429.6" cy="177.5"/><circle cx="479.9" cy="154.1"/><circle cx="469.1" cy="167.6"/><circle cx="565.4" cy="145.9"/><circle cx="563.3" cy="149.8"/><circle cx="450.4" cy="173.8"/><circle cx="458.4" cy="169.6"/><circle cx="532.1" cy="147.1"/><circle cx="520.2" cy="145.2"/><circle cx="541.7" cy="137.0"/><circle cx="461.7" cy="168.7"/><circle cx="529.3" cy="140.3"/><circle cx="554.6" cy="150.0"/><circle cx="428.3" cy="174.7"/><circle cx="565.1" cy="158.1"/><circle cx="458.8" cy="170.2"/><circle cx="480.0" cy="164.5"/><circle cx="553.8" cy="142.1"/><circle cx="555.9" cy="149.0"/><circle cx="559.8" cy="152.6"/><circle cx="497.8" cy="148.3"/><circle cx="544.6" cy="139.2"/><circle cx="453.9" cy="171.7"/><circle cx="415.2" cy="182.2"/><circle cx="449.6" cy="171.9"/><circle cx="462.2" cy="168.8"/><circle cx="451.9" cy="172.7"/><circle cx="571.0" cy="153.7"/><circle cx="562.9" cy="156.1"/><circle cx="452.8" cy="171.8"/><circle cx="568.0" cy="138.3"/><circle cx="482.1" cy="162.2"/><circle cx="552.2" cy="131.4"/><circle cx="535.0" cy="144.5"/><circle cx="496.1" cy="143.8"/><circle cx="488.2" cy="162.0"/><circle cx="464.2" cy="166.6"/><circle cx="561.0" cy="133.9"/><circle cx="558.6" cy="115.7"/><circle cx="502.4" cy="154.1"/><circle cx="554.3" cy="130.0"/><circle cx="442.6" cy="174.5"/><circle cx="462.7" cy="168.6"/><circle cx="480.0" cy="169.2"/><circle cx="530.9" cy="140.1"/><circle cx="469.0" cy="164.9"/><circle cx="462.6" cy="168.8"/><circle cx="555.8" cy="125.3"/><circle cx="440.6" cy="178.6"/><circle cx="565.6" cy="154.7"/><circle cx="547.4" cy="125.9"/><circle cx="536.4" cy="162.1"/><circle cx="393.5" cy="182.0"/><circle cx="477.1" cy="166.1"/><circle cx="453.8" cy="171.4"/><circle cx="460.0" cy="169.6"/><circle cx="460.5" cy="168.0"/><circle cx="547.7" cy="160.0"/><circle cx="482.5" cy="152.8"/><circle cx="543.0" cy="130.2"/><circle cx="564.5" cy="116.5"/><circle cx="458.0" cy="170.4"/><circle cx="565.1" cy="140.5"/><circle cx="564.8" cy="136.2"/><circle cx="563.3" cy="136.5"/><circle cx="471.5" cy="166.9"/><circle cx="572.2" cy="138.0"/><circle cx="569.0" cy="138.3"/><circle cx="572.8" cy="108.6"/><circle cx="571.4" cy="108.5"/><circle cx="462.7" cy="168.6"/><circle cx="505.2" cy="144.1"/><circle cx="543.9" cy="126.9"/><circle cx="570.6" cy="116.3"/><circle cx="508.0" cy="158.8"/><circle cx="444.4" cy="172.6"/><circle cx="462.3" cy="168.1"/><circle cx="559.7" cy="154.9"/><circle cx="487.5" cy="157.9"/><circle cx="491.0" cy="163.9"/><circle cx="474.6" cy="159.5"/><circle cx="560.3" cy="122.6"/><circle cx="466.1" cy="166.9"/><circle cx="499.3" cy="164.3"/><circle cx="569.6" cy="148.2"/><circle cx="466.1" cy="167.5"/><circle cx="418.6" cy="178.7"/><circle cx="421.8" cy="176.7"/><circle cx="475.0" cy="165.7"/><circle cx="463.3" cy="166.4"/><circle cx="417.0" cy="174.3"/><circle cx="398.1" cy="179.3"/><circle cx="475.3" cy="165.8"/><circle cx="481.8" cy="163.2"/><circle cx="572.9" cy="119.7"/><circle cx="551.1" cy="138.1"/><circle cx="564.3" cy="127.6"/><circle cx="504.1" cy="166.2"/><circle cx="463.3" cy="167.6"/><circle cx="526.9" cy="153.7"/><circle cx="451.5" cy="172.7"/><circle cx="526.0" cy="147.9"/><circle cx="543.7" cy="131.7"/><circle cx="560.4" cy="153.3"/><circle cx="524.0" cy="159.7"/><circle cx="535.4" cy="146.1"/><circle cx="398.8" cy="178.0"/><circle cx="453.0" cy="172.2"/><circle cx="460.7" cy="169.0"/><circle cx="477.8" cy="160.6"/><circle cx="564.1" cy="116.0"/><circle cx="457.6" cy="170.3"/><circle cx="423.9" cy="174.0"/><circle cx="536.4" cy="149.8"/><circle cx="553.6" cy="154.7"/><circle cx="439.9" cy="178.9"/><circle cx="448.0" cy="171.9"/><circle cx="544.5" cy="129.7"/><circle cx="567.3" cy="127.9"/><circle cx="553.9" cy="138.5"/><circle cx="559.2" cy="136.8"/><circle cx="552.4" cy="133.6"/><circle cx="460.5" cy="169.0"/><circle cx="468.7" cy="168.5"/><circle cx="537.1" cy="132.3"/><circle cx="445.2" cy="172.1"/><circle cx="572.5" cy="150.4"/><circle cx="556.4" cy="140.5"/><circle cx="550.7" cy="152.2"/><circle cx="437.9" cy="178.4"/><circle cx="510.7" cy="132.2"/><circle cx="561.3" cy="149.1"/><circle cx="554.6" cy="134.2"/><circle cx="470.0" cy="165.5"/><circle cx="455.0" cy="171.6"/><circle cx="490.8" cy="148.4"/><circle cx="564.6" cy="135.3"/><circle cx="515.0" cy="141.5"/><circle cx="483.6" cy="160.2"/><circle cx="460.1" cy="169.2"/><circle cx="570.6" cy="122.8"/><circle cx="399.9" cy="181.1"/><circle cx="538.5" cy="133.3"/><circle cx="568.1" cy="116.6"/><circle cx="496.1" cy="153.2"/><circle cx="564.8" cy="123.7"/><circle cx="393.8" cy="177.5"/><circle cx="422.9" cy="174.0"/><circle cx="565.5" cy="111.5"/><circle cx="553.1" cy="123.2"/><circle cx="560.8" cy="112.9"/><circle cx="460.9" cy="169.4"/><circle cx="469.3" cy="166.9"/><circle cx="532.2" cy="137.0"/><circle cx="538.5" cy="136.3"/><circle cx="542.8" cy="156.6"/><circle cx="493.5" cy="158.2"/><circle cx="417.4" cy="185.4"/><circle cx="421.8" cy="175.9"/><circle cx="423.8" cy="185.0"/><circle cx="556.2" cy="155.1"/><circle cx="564.7" cy="136.7"/><circle cx="533.8" cy="150.7"/><circle cx="447.1" cy="173.9"/><circle cx="394.3" cy="183.7"/><circle cx="563.8" cy="137.6"/><circle cx="569.5" cy="118.3"/><circle cx="561.8" cy="152.6"/><circle cx="564.3" cy="145.4"/><circle cx="546.3" cy="148.0"/><circle cx="433.0" cy="172.8"/><circle cx="573.2" cy="120.0"/><circle cx="570.8" cy="151.8"/><circle cx="499.4" cy="146.1"/><circle cx="472.6" cy="165.2"/><circle cx="562.4" cy="134.7"/><circle cx="571.4" cy="133.9"/><circle cx="471.4" cy="160.4"/><circle cx="567.7" cy="147.3"/><circle cx="464.9" cy="167.4"/><circle cx="517.7" cy="155.3"/><circle cx="559.6" cy="122.5"/><circle cx="462.3" cy="166.5"/><circle cx="562.1" cy="122.8"/><circle cx="518.0" cy="160.5"/><circle cx="457.2" cy="170.7"/><circle cx="570.2" cy="139.7"/><circle cx="440.6" cy="176.5"/><circle cx="462.3" cy="168.3"/><circle cx="459.3" cy="169.1"/><circle cx="559.9" cy="156.5"/><circle cx="558.6" cy="116.4"/><circle cx="561.8" cy="142.2"/><circle cx="504.2" cy="142.7"/><circle cx="475.5" cy="166.9"/><circle cx="562.9" cy="138.4"/><circle cx="479.1" cy="157.9"/><circle cx="514.4" cy="146.7"/><circle cx="571.4" cy="109.4"/><circle cx="467.2" cy="167.5"/><circle cx="555.0" cy="138.4"/><circle cx="468.0" cy="166.8"/><circle cx="464.5" cy="165.2"/><circle cx="459.8" cy="169.0"/><circle cx="418.1" cy="177.1"/><circle cx="511.0" cy="155.8"/><circle cx="461.6" cy="169.4"/><circle cx="463.6" cy="166.6"/><circle cx="476.7" cy="161.7"/><circle cx="563.7" cy="119.9"/><circle cx="481.5" cy="161.0"/><circle cx="492.4" cy="161.9"/><circle cx="536.6" cy="149.9"/><circle cx="492.8" cy="165.1"/><circle cx="545.2" cy="146.7"/><circle cx="459.7" cy="169.1"/><circle cx="501.3" cy="149.1"/><circle cx="426.8" cy="173.9"/><circle cx="422.6" cy="173.9"/><circle cx="438.4" cy="174.4"/><circle cx="571.4" cy="135.5"/><circle cx="570.5" cy="152.1"/><circle cx="558.6" cy="149.2"/><circle cx="480.2" cy="164.5"/><circle cx="554.7" cy="147.7"/><circle cx="454.8" cy="171.1"/><circle cx="526.8" cy="141.4"/><circle cx="454.8" cy="171.1"/><circle cx="424.2" cy="175.3"/><circle cx="563.7" cy="119.0"/><circle cx="507.7" cy="154.8"/><circle cx="549.3" cy="127.4"/><circle cx="542.1" cy="123.3"/><circle cx="473.7" cy="169.2"/><circle cx="500.5" cy="156.2"/><circle cx="524.6" cy="149.1"/><circle cx="552.2" cy="132.3"/><circle cx="477.8" cy="166.6"/><circle cx="446.7" cy="173.7"/><circle cx="550.4" cy="128.9"/><circle cx="558.8" cy="157.6"/><circle cx="552.2" cy="135.4"/><circle cx="561.3" cy="126.3"/><circle cx="560.5" cy="130.0"/><circle cx="569.4" cy="110.8"/><circle cx="538.2" cy="134.2"/><circle cx="557.8" cy="121.3"/><circle cx="460.7" cy="168.6"/><circle cx="450.0" cy="172.1"/><circle cx="569.7" cy="151.4"/><circle cx="571.6" cy="109.6"/><circle cx="452.2" cy="172.3"/><circle cx="568.7" cy="114.7"/><circle cx="443.3" cy="174.7"/><circle cx="573.2" cy="107.7"/><circle cx="559.1" cy="117.0"/><circle cx="561.0" cy="139.8"/><circle cx="552.1" cy="141.5"/><circle cx="485.2" cy="155.2"/><circle cx="467.3" cy="164.3"/><circle cx="459.5" cy="169.0"/><circle cx="556.4" cy="150.1"/><circle cx="406.8" cy="183.4"/><circle cx="548.7" cy="144.9"/><circle cx="562.4" cy="125.5"/><circle cx="534.1" cy="162.6"/><circle cx="508.2" cy="163.4"/><circle cx="486.2" cy="161.6"/><circle cx="573.2" cy="148.8"/><circle cx="551.2" cy="125.9"/><circle cx="549.7" cy="118.6"/><circle cx="442.9" cy="174.1"/><circle cx="523.8" cy="141.4"/><circle cx="486.7" cy="167.4"/><circle cx="526.8" cy="160.8"/><circle cx="458.8" cy="169.6"/><circle cx="550.5" cy="147.0"/><circle cx="446.5" cy="172.9"/><circle cx="440.3" cy="175.9"/><circle cx="552.3" cy="127.4"/><circle cx="544.4" cy="135.9"/><circle cx="412.6" cy="185.3"/><circle cx="545.6" cy="147.7"/><circle cx="486.6" cy="157.0"/><circle cx="495.1" cy="154.6"/><circle cx="567.9" cy="140.9"/><circle cx="457.2" cy="173.5"/><circle cx="466.1" cy="164.6"/><circle cx="473.0" cy="167.5"/><circle cx="541.1" cy="152.6"/><circle cx="513.7" cy="149.9"/><circle cx="451.8" cy="172.9"/><circle cx="567.0" cy="118.1"/><circle cx="446.9" cy="175.0"/><circle cx="484.4" cy="156.2"/><circle cx="497.7" cy="166.3"/><circle cx="410.2" cy="178.2"/><circle cx="453.2" cy="171.9"/><circle cx="558.2" cy="152.1"/><circle cx="559.0" cy="133.4"/><circle cx="518.0" cy="152.9"/><circle cx="545.6" cy="152.6"/><circle cx="435.8" cy="180.4"/><circle cx="457.8" cy="170.2"/><circle cx="471.2" cy="167.9"/><circle cx="557.3" cy="124.2"/><circle cx="557.0" cy="150.6"/><circle cx="416.9" cy="172.3"/><circle cx="546.6" cy="146.9"/><circle cx="531.9" cy="142.3"/><circle cx="465.2" cy="167.6"/><circle cx="488.5" cy="161.9"/><circle cx="501.0" cy="150.0"/><circle cx="470.2" cy="164.8"/><circle cx="454.0" cy="171.3"/><circle cx="510.4" cy="140.8"/><circle cx="526.3" cy="143.2"/><circle cx="476.0" cy="159.9"/><circle cx="571.5" cy="145.5"/><circle cx="463.5" cy="169.0"/><circle cx="557.1" cy="126.1"/><circle cx="571.0" cy="118.4"/><circle cx="416.3" cy="175.5"/><circle cx="434.3" cy="175.7"/><circle cx="486.2" cy="148.8"/><circle cx="518.5" cy="158.6"/><circle cx="432.2" cy="172.8"/><circle cx="509.5" cy="154.4"/><circle cx="558.9" cy="137.8"/><circle cx="466.5" cy="166.0"/><circle cx="438.4" cy="179.5"/><circle cx="428.1" cy="174.9"/><circle cx="452.3" cy="171.4"/><circle cx="551.1" cy="138.6"/><circle cx="465.9" cy="168.9"/><circle cx="470.2" cy="161.8"/><circle cx="518.8" cy="145.5"/><circle cx="461.9" cy="168.1"/><circle cx="474.6" cy="169.5"/><circle cx="434.5" cy="175.3"/><circle cx="558.4" cy="116.7"/><circle cx="545.3" cy="160.0"/><circle cx="519.9" cy="150.9"/><circle cx="483.8" cy="158.9"/><circle cx="558.0" cy="144.9"/><circle cx="437.1" cy="177.4"/><circle cx="520.1" cy="148.9"/><circle cx="446.1" cy="174.9"/><circle cx="453.7" cy="171.1"/><circle cx="572.0" cy="127.4"/><circle cx="457.8" cy="170.3"/><circle cx="473.2" cy="162.9"/><circle cx="562.8" cy="120.6"/><circle cx="410.5" cy="173.2"/><circle cx="569.6" cy="127.3"/><circle cx="566.1" cy="132.1"/><circle cx="446.5" cy="175.5"/><circle cx="483.7" cy="160.6"/><circle cx="446.9" cy="171.7"/><circle cx="427.1" cy="172.8"/><circle cx="452.2" cy="172.8"/><circle cx="515.0" cy="145.9"/><circle cx="425.5" cy="174.7"/><circle cx="470.7" cy="163.8"/><circle cx="462.3" cy="167.0"/><circle cx="462.4" cy="169.2"/><circle cx="550.6" cy="118.8"/><circle cx="521.1" cy="154.7"/><circle cx="562.0" cy="132.4"/><circle cx="468.8" cy="166.0"/><circle cx="428.2" cy="184.7"/><circle cx="449.6" cy="172.7"/><circle cx="458.1" cy="170.0"/><circle cx="458.9" cy="169.2"/><circle cx="563.8" cy="120.7"/><circle cx="486.9" cy="153.9"/><circle cx="518.1" cy="162.1"/><circle cx="546.2" cy="149.1"/><circle cx="515.7" cy="164.4"/><circle cx="491.7" cy="158.1"/><circle cx="442.6" cy="176.5"/><circle cx="557.2" cy="132.3"/><circle cx="499.6" cy="159.5"/><circle cx="528.9" cy="159.5"/><circle cx="549.9" cy="142.9"/><circle cx="547.4" cy="151.1"/><circle cx="573.2" cy="116.8"/><circle cx="498.5" cy="152.9"/><circle cx="534.9" cy="151.5"/><circle cx="569.8" cy="152.9"/><circle cx="553.8" cy="152.7"/><circle cx="494.2" cy="155.6"/><circle cx="462.5" cy="167.8"/><circle cx="426.0" cy="175.7"/><circle cx="566.6" cy="138.0"/><circle cx="460.2" cy="169.5"/><circle cx="569.8" cy="146.9"/><circle cx="539.7" cy="132.6"/><circle cx="469.0" cy="165.0"/><circle cx="465.8" cy="167.1"/><circle cx="546.4" cy="125.5"/><circle cx="552.0" cy="142.5"/><circle cx="447.9" cy="174.9"/><circle cx="454.7" cy="171.7"/><circle cx="566.1" cy="141.6"/><circle cx="423.7" cy="177.3"/><circle cx="454.1" cy="171.1"/><circle cx="561.5" cy="138.0"/><circle cx="495.3" cy="154.0"/><circle cx="523.7" cy="160.5"/><circle cx="556.6" cy="156.4"/><circle cx="465.5" cy="168.3"/><circle cx="532.8" cy="155.5"/><circle cx="556.7" cy="124.1"/><circle cx="410.7" cy="181.1"/><circle cx="572.9" cy="106.2"/><circle cx="531.1" cy="142.6"/><circle cx="477.9" cy="157.7"/><circle cx="556.4" cy="120.9"/><circle cx="420.7" cy="178.6"/><circle cx="449.2" cy="171.8"/><circle cx="443.2" cy="175.3"/><circle cx="564.3" cy="119.8"/><circle cx="460.5" cy="169.1"/><circle cx="508.6" cy="149.1"/><circle cx="474.9" cy="166.5"/><circle cx="470.8" cy="165.1"/><circle cx="514.6" cy="139.4"/><circle cx="564.9" cy="146.4"/><circle cx="469.6" cy="167.4"/><circle cx="568.5" cy="135.8"/><circle cx="565.4" cy="141.7"/><circle cx="558.2" cy="152.8"/><circle cx="570.9" cy="153.6"/><circle cx="462.2" cy="167.0"/><circle cx="570.2" cy="143.0"/><circle cx="487.8" cy="163.5"/><circle cx="573.2" cy="154.6"/><circle cx="555.4" cy="139.4"/><circle cx="563.0" cy="132.5"/><circle cx="429.8" cy="176.7"/><circle cx="464.7" cy="167.5"/><circle cx="563.4" cy="144.7"/><circle cx="560.2" cy="115.4"/><circle cx="559.4" cy="130.0"/><circle cx="570.2" cy="126.1"/><circle cx="448.9" cy="173.4"/><circle cx="567.5" cy="126.4"/><circle cx="459.0" cy="169.1"/><circle cx="442.5" cy="177.6"/><circle cx="449.8" cy="171.8"/><circle cx="449.5" cy="171.8"/><circle cx="562.7" cy="121.2"/><circle cx="448.5" cy="171.5"/><circle cx="467.3" cy="167.6"/><circle cx="506.0" cy="165.0"/></g><g fill="#00BF7D" fill-opacity="0.36"><circle cx="510.5" cy="141.1"/><circle cx="527.3" cy="117.0"/><circle cx="554.7" cy="113.1"/><circle cx="537.3" cy="108.4"/><circle cx="534.9" cy="124.8"/><circle cx="537.9" cy="118.3"/><circle cx="565.1" cy="80.5"/><circle cx="550.6" cy="113.5"/><circle cx="566.2" cy="64.9"/><circle cx="543.2" cy="90.4"/><circle cx="565.5" cy="75.0"/><circle cx="572.8" cy="89.5"/><circle cx="554.0" cy="82.8"/><circle cx="564.7" cy="63.7"/><circle cx="540.3" cy="57.2"/><circle cx="550.4" cy="80.2"/><circle cx="534.7" cy="111.2"/><circle cx="552.9" cy="101.5"/><circle cx="571.5" cy="92.4"/><circle cx="552.0" cy="56.1"/><circle cx="564.2" cy="115.9"/><circle cx="564.6" cy="83.8"/><circle cx="566.8" cy="87.6"/><circle cx="549.3" cy="82.6"/><circle cx="569.7" cy="76.5"/><circle cx="539.2" cy="61.3"/><circle cx="553.9" cy="111.5"/><circle cx="533.3" cy="120.6"/><circle cx="551.5" cy="75.1"/><circle cx="551.3" cy="79.2"/><circle cx="559.2" cy="84.9"/><circle cx="534.1" cy="125.5"/><circle cx="566.5" cy="71.7"/><circle cx="553.2" cy="113.6"/><circle cx="519.9" cy="132.8"/><circle cx="563.5" cy="85.0"/><circle cx="542.6" cy="68.4"/><circle cx="523.0" cy="97.7"/><circle cx="560.9" cy="80.8"/><circle cx="561.3" cy="112.6"/><circle cx="564.1" cy="109.4"/><circle cx="573.2" cy="88.8"/><circle cx="566.4" cy="56.7"/><circle cx="540.6" cy="94.0"/><circle cx="569.3" cy="87.1"/><circle cx="550.9" cy="123.4"/><circle cx="550.2" cy="119.1"/><circle cx="538.9" cy="84.3"/><circle cx="557.9" cy="54.8"/><circle cx="542.7" cy="121.1"/><circle cx="532.7" cy="70.0"/><circle cx="557.9" cy="112.1"/><circle cx="504.7" cy="128.3"/><circle cx="562.0" cy="56.4"/><circle cx="536.0" cy="113.1"/><circle cx="554.5" cy="89.5"/><circle cx="570.3" cy="61.7"/><circle cx="545.7" cy="91.9"/><circle cx="556.6" cy="80.7"/><circle cx="546.5" cy="80.9"/><circle cx="544.8" cy="54.4"/><circle cx="529.2" cy="110.5"/><circle cx="545.0" cy="108.1"/><circle cx="563.9" cy="82.9"/><circle cx="572.3" cy="64.9"/><circle cx="567.2" cy="87.2"/><circle cx="561.3" cy="69.5"/><circle cx="527.8" cy="126.4"/><circle cx="572.4" cy="83.4"/><circle cx="544.4" cy="75.7"/><circle cx="571.8" cy="55.1"/><circle cx="555.7" cy="95.9"/><circle cx="539.5" cy="95.3"/><circle cx="552.4" cy="90.9"/><circle cx="558.9" cy="114.9"/><circle cx="536.6" cy="94.2"/><circle cx="559.7" cy="96.0"/><circle cx="522.3" cy="115.7"/><circle cx="551.9" cy="83.2"/><circle cx="548.6" cy="108.5"/><circle cx="542.5" cy="122.4"/><circle cx="541.7" cy="90.0"/><circle cx="571.2" cy="65.6"/><circle cx="547.7" cy="57.3"/><circle cx="551.3" cy="80.4"/><circle cx="565.2" cy="100.0"/><circle cx="530.5" cy="99.0"/><circle cx="573.1" cy="69.3"/><circle cx="551.9" cy="99.6"/><circle cx="530.7" cy="118.0"/><circle cx="555.6" cy="63.1"/><circle cx="549.8" cy="97.9"/><circle cx="512.1" cy="108.2"/><circle cx="534.6" cy="129.8"/><circle cx="556.4" cy="105.5"/><circle cx="554.9" cy="66.9"/><circle cx="570.2" cy="85.1"/><circle cx="572.1" cy="108.4"/><circle cx="527.3" cy="132.5"/><circle cx="562.5" cy="54.6"/><circle cx="526.6" cy="111.9"/><circle cx="563.8" cy="110.2"/><circle cx="557.8" cy="76.9"/><circle cx="541.2" cy="99.9"/><circle cx="562.8" cy="108.5"/><circle cx="562.2" cy="103.8"/><circle cx="565.6" cy="112.7"/><circle cx="568.9" cy="112.8"/><circle cx="547.2" cy="104.5"/><circle cx="572.3" cy="88.9"/><circle cx="559.6" cy="81.0"/><circle cx="528.4" cy="108.5"/><circle cx="522.8" cy="94.6"/><circle cx="559.7" cy="60.0"/><circle cx="563.3" cy="109.3"/><circle cx="548.3" cy="71.1"/><circle cx="540.8" cy="115.3"/><circle cx="564.7" cy="103.0"/><circle cx="560.7" cy="115.6"/><circle cx="541.9" cy="114.6"/><circle cx="541.6" cy="73.0"/><circle cx="553.0" cy="108.9"/><circle cx="566.3" cy="55.6"/><circle cx="525.5" cy="124.8"/><circle cx="567.7" cy="63.7"/><circle cx="553.6" cy="61.5"/><circle cx="568.2" cy="91.7"/><circle cx="565.4" cy="116.2"/><circle cx="572.1" cy="87.9"/><circle cx="558.9" cy="94.4"/><circle cx="548.7" cy="100.0"/><circle cx="571.9" cy="103.9"/><circle cx="538.5" cy="66.5"/><circle cx="561.0" cy="109.8"/><circle cx="564.2" cy="94.0"/><circle cx="568.0" cy="66.6"/><circle cx="536.7" cy="114.5"/><circle cx="516.5" cy="113.8"/><circle cx="547.6" cy="66.7"/><circle cx="545.4" cy="114.2"/><circle cx="543.9" cy="89.8"/><circle cx="526.1" cy="123.5"/><circle cx="565.5" cy="111.6"/><circle cx="554.3" cy="94.2"/><circle cx="570.5" cy="92.0"/><circle cx="544.1" cy="66.7"/><circle cx="561.5" cy="93.0"/><circle cx="562.4" cy="110.5"/><circle cx="547.7" cy="96.1"/><circle cx="524.6" cy="115.3"/><circle cx="567.5" cy="65.8"/><circle cx="566.4" cy="59.1"/><circle cx="571.3" cy="73.9"/><circle cx="572.1" cy="98.8"/><circle cx="566.7" cy="77.0"/><circle cx="545.3" cy="124.1"/><circle cx="559.7" cy="99.2"/><circle cx="540.8" cy="119.0"/><circle cx="541.0" cy="59.8"/><circle cx="512.9" cy="107.0"/><circle cx="571.0" cy="78.2"/><circle cx="548.8" cy="82.1"/><circle cx="536.6" cy="62.4"/><circle cx="528.1" cy="117.4"/><circle cx="555.3" cy="77.3"/><circle cx="527.8" cy="130.9"/><circle cx="513.6" cy="124.2"/><circle cx="570.2" cy="112.6"/><circle cx="544.7" cy="79.5"/><circle cx="555.5" cy="82.9"/><circle cx="568.7" cy="69.0"/><circle cx="546.6" cy="71.1"/><circle cx="551.0" cy="102.5"/><circle cx="542.9" cy="77.3"/><circle cx="568.8" cy="70.4"/><circle cx="567.5" cy="74.4"/><circle cx="542.7" cy="73.4"/><circle cx="562.2" cy="60.6"/><circle cx="527.9" cy="100.0"/><circle cx="571.0" cy="73.0"/><circle cx="559.5" cy="115.6"/><circle cx="544.6" cy="63.7"/><circle cx="525.7" cy="126.0"/><circle cx="559.7" cy="92.1"/><circle cx="552.8" cy="81.0"/><circle cx="552.6" cy="100.4"/><circle cx="533.2" cy="124.3"/><circle cx="559.3" cy="57.6"/><circle cx="543.3" cy="71.1"/><circle cx="572.3" cy="71.0"/><circle cx="537.7" cy="114.8"/><circle cx="573.2" cy="109.2"/><circle cx="559.3" cy="116.2"/><circle cx="565.0" cy="62.8"/><circle cx="544.5" cy="125.0"/><circle cx="570.5" cy="57.6"/><circle cx="553.7" cy="94.2"/><circle cx="573.1" cy="59.7"/><circle cx="499.7" cy="112.2"/><circle cx="541.3" cy="59.0"/><circle cx="541.6" cy="86.4"/><circle cx="565.1" cy="109.6"/><circle cx="566.0" cy="84.6"/><circle cx="567.7" cy="72.6"/><circle cx="536.4" cy="92.0"/><circle cx="551.8" cy="90.4"/><circle cx="564.4" cy="83.4"/><circle cx="546.1" cy="69.1"/><circle cx="565.5" cy="59.6"/><circle cx="541.2" cy="103.6"/><circle cx="564.3" cy="75.1"/><circle cx="552.1" cy="118.6"/><circle cx="549.5" cy="117.6"/><circle cx="552.8" cy="120.8"/><circle cx="542.5" cy="97.1"/><circle cx="568.6" cy="107.3"/><circle cx="535.1" cy="78.3"/><circle cx="560.3" cy="97.3"/><circle cx="536.5" cy="70.4"/><circle cx="548.5" cy="120.3"/><circle cx="551.8" cy="59.1"/><circle cx="539.0" cy="87.7"/><circle cx="571.4" cy="56.5"/><circle cx="556.1" cy="84.5"/><circle cx="558.3" cy="57.0"/><circle cx="558.5" cy="67.0"/><circle cx="571.8" cy="103.2"/><circle cx="555.8" cy="111.3"/><circle cx="556.2" cy="100.8"/><circle cx="556.8" cy="103.6"/><circle cx="549.5" cy="94.1"/><circle cx="555.6" cy="116.7"/><circle cx="557.6" cy="77.6"/><circle cx="565.2" cy="95.6"/><circle cx="536.9" cy="113.5"/><circle cx="570.7" cy="92.5"/><circle cx="540.2" cy="90.1"/><circle cx="568.3" cy="106.7"/><circle cx="544.4" cy="73.0"/><circle cx="546.0" cy="76.4"/><circle cx="565.8" cy="83.0"/><circle cx="565.9" cy="91.0"/><circle cx="544.7" cy="82.4"/><circle cx="570.5" cy="96.6"/><circle cx="558.2" cy="112.5"/><circle cx="536.7" cy="98.2"/><circle cx="563.9" cy="110.0"/><circle cx="568.7" cy="92.8"/><circle cx="548.9" cy="80.1"/><circle cx="551.0" cy="114.5"/><circle cx="541.4" cy="91.2"/><circle cx="540.1" cy="91.7"/><circle cx="541.6" cy="111.5"/><circle cx="554.5" cy="74.4"/><circle cx="570.9" cy="99.6"/><circle cx="565.4" cy="74.0"/><circle cx="567.2" cy="102.0"/><circle cx="533.5" cy="70.9"/><circle cx="556.8" cy="65.3"/><circle cx="552.5" cy="102.9"/><circle cx="559.2" cy="69.2"/><circle cx="538.8" cy="56.4"/><circle cx="570.0" cy="100.8"/><circle cx="548.0" cy="109.7"/><circle cx="527.5" cy="88.7"/><circle cx="544.7" cy="65.2"/><circle cx="543.2" cy="72.5"/><circle cx="565.7" cy="104.3"/><circle cx="540.0" cy="116.7"/><circle cx="550.0" cy="111.3"/><circle cx="570.7" cy="108.7"/><circle cx="532.1" cy="113.0"/><circle cx="568.0" cy="95.3"/><circle cx="567.6" cy="71.7"/><circle cx="530.5" cy="132.9"/><circle cx="545.4" cy="115.5"/><circle cx="529.1" cy="116.2"/><circle cx="522.7" cy="87.1"/><circle cx="557.8" cy="116.1"/><circle cx="571.8" cy="76.0"/><circle cx="557.3" cy="105.1"/><circle cx="519.4" cy="104.1"/><circle cx="571.4" cy="58.9"/><circle cx="566.8" cy="84.5"/><circle cx="536.8" cy="105.8"/><circle cx="550.4" cy="59.5"/><circle cx="527.1" cy="105.7"/><circle cx="557.3" cy="95.4"/><circle cx="549.3" cy="91.8"/><circle cx="552.9" cy="99.7"/><circle cx="553.7" cy="119.6"/><circle cx="528.9" cy="88.5"/><circle cx="548.9" cy="94.6"/><circle cx="573.2" cy="53.6"/><circle cx="567.4" cy="89.2"/><circle cx="573.2" cy="101.3"/><circle cx="568.6" cy="111.8"/><circle cx="539.1" cy="68.0"/><circle cx="560.0" cy="111.2"/><circle cx="567.6" cy="99.0"/><circle cx="546.5" cy="118.0"/><circle cx="563.9" cy="81.8"/><circle cx="552.4" cy="78.3"/><circle cx="572.8" cy="82.6"/><circle cx="533.7" cy="105.9"/><circle cx="548.6" cy="117.5"/><circle cx="552.8" cy="75.2"/><circle cx="538.6" cy="85.4"/><circle cx="544.8" cy="86.3"/><circle cx="552.2" cy="99.0"/><circle cx="519.6" cy="136.7"/><circle cx="558.5" cy="66.9"/><circle cx="539.2" cy="93.4"/><circle cx="565.4" cy="67.8"/><circle cx="562.1" cy="81.0"/><circle cx="560.1" cy="95.9"/><circle cx="535.4" cy="115.6"/><circle cx="572.4" cy="91.8"/><circle cx="542.9" cy="123.4"/><circle cx="526.0" cy="82.6"/><circle cx="527.5" cy="132.3"/><circle cx="565.6" cy="107.1"/><circle cx="549.7" cy="120.3"/><circle cx="557.0" cy="110.6"/><circle cx="571.0" cy="80.8"/><circle cx="549.0" cy="96.8"/><circle cx="514.5" cy="107.7"/><circle cx="536.4" cy="126.0"/><circle cx="547.4" cy="112.4"/><circle cx="524.2" cy="107.3"/><circle cx="546.2" cy="76.4"/><circle cx="573.2" cy="75.6"/><circle cx="571.1" cy="95.5"/><circle cx="550.3" cy="113.0"/><circle cx="548.1" cy="56.6"/><circle cx="554.2" cy="78.1"/><circle cx="545.3" cy="78.3"/><circle cx="547.4" cy="108.5"/><circle cx="555.1" cy="115.1"/><circle cx="556.7" cy="101.6"/><circle cx="546.1" cy="93.9"/><circle cx="545.6" cy="71.0"/><circle cx="568.9" cy="89.9"/><circle cx="568.6" cy="104.9"/><circle cx="565.4" cy="60.8"/><circle cx="573.2" cy="59.8"/><circle cx="547.2" cy="66.8"/><circle cx="535.9" cy="122.9"/><circle cx="541.7" cy="79.6"/><circle cx="540.1" cy="88.8"/><circle cx="548.7" cy="88.6"/><circle cx="565.3" cy="70.1"/><circle cx="563.4" cy="75.2"/><circle cx="526.7" cy="98.6"/><circle cx="544.8" cy="107.7"/><circle cx="562.2" cy="108.2"/><circle cx="558.6" cy="118.9"/><circle cx="539.9" cy="57.8"/><circle cx="561.6" cy="78.9"/><circle cx="562.3" cy="96.4"/><circle cx="555.2" cy="105.1"/><circle cx="557.4" cy="73.4"/><circle cx="560.0" cy="58.1"/><circle cx="563.3" cy="69.3"/><circle cx="570.5" cy="76.2"/><circle cx="560.5" cy="108.7"/><circle cx="573.0" cy="87.2"/><circle cx="564.2" cy="62.4"/><circle cx="535.8" cy="109.9"/><circle cx="563.7" cy="75.5"/><circle cx="548.5" cy="77.8"/></g></g>
<line x1="339.00" y1="170.90" x2="573.80" y2="170.90" stroke="#C6C6C6" stroke-width="1.4"/>
<line x1="456.40" y1="53.50" x2="456.40" y2="288.30" stroke="#C6C6C6" stroke-width="1.4"/>
<line x1="315.52" y1="245.99" x2="597.28" y2="95.81" stroke="#F8766D" stroke-width="1.35"/>
<line x1="315.52" y1="237.82" x2="597.28" y2="103.98" stroke="#E76BF3" stroke-width="1.35"/>
<line x1="315.52" y1="309.67" x2="597.28" y2="32.13" stroke="#00BF7D" stroke-width="1.35"/>
<line x1="333.15" y1="311.78" x2="579.65" y2="30.02" stroke="#00B0F6" stroke-width="1.35"/>
<line x1="404.98" y1="311.78" x2="507.82" y2="30.02" stroke="#BEBEBE" stroke-width="1.35"/>
<line x1="427.35" y1="311.78" x2="485.45" y2="30.02" stroke="#C9A800" stroke-width="1.35"/>
<line x1="339.00" y1="288.30" x2="573.80" y2="53.50" stroke="#383838" stroke-width="1.45" stroke-dasharray="6.5 7.2" stroke-dashoffset="1.4"/>
</g>
<rect x="339.35" y="53.0" width="234.15" height="235.50" fill="none" stroke="#151515" stroke-width="1.35"/>
<line x1="457.2" y1="24.4" x2="463.3" y2="24.4" stroke="#666" stroke-width="0.8"/>
<line x1="536.4" y1="24.4" x2="562.1" y2="24.4" stroke="#666" stroke-width="0.8"/>
<rect x="463.3" y="22.30" width="73.10" height="4.2" rx="1.4" fill="#F5A098" stroke="#333" stroke-width="0.7"/>
<line x1="488.6" y1="22.30" x2="488.6" y2="26.50" stroke="#111" stroke-width="1.2"/>
<circle cx="500.0" cy="24.4" r="0.9" fill="#000"/>
<line x1="518.0" y1="28.9" x2="542.1" y2="28.9" stroke="#666" stroke-width="0.8"/>
<line x1="568.7" y1="28.9" x2="571.3" y2="28.9" stroke="#666" stroke-width="0.8"/>
<rect x="542.1" y="26.80" width="26.60" height="4.2" rx="1.4" fill="#3CD4A6" stroke="#333" stroke-width="0.7"/>
<line x1="561.3" y1="26.80" x2="561.3" y2="31.00" stroke="#111" stroke-width="1.2"/>
<circle cx="551.7" cy="28.9" r="0.9" fill="#000"/>
<line x1="487.2" y1="33.7" x2="517.4" y2="33.7" stroke="#666" stroke-width="0.8"/>
<line x1="560.7" y1="33.7" x2="567.7" y2="33.7" stroke="#666" stroke-width="0.8"/>
<rect x="517.4" y="31.60" width="43.30" height="4.2" rx="1.4" fill="#DFC040" stroke="#333" stroke-width="0.7"/>
<line x1="543.7" y1="31.60" x2="543.7" y2="35.80" stroke="#111" stroke-width="1.2"/>
<circle cx="535.8" cy="33.7" r="0.9" fill="#000"/>
<line x1="481.3" y1="38.4" x2="510.2" y2="38.4" stroke="#666" stroke-width="0.8"/>
<line x1="561.5" y1="38.4" x2="568.6" y2="38.4" stroke="#666" stroke-width="0.8"/>
<rect x="510.2" y="36.30" width="51.30" height="4.2" rx="1.4" fill="#48CCF3" stroke="#333" stroke-width="0.7"/>
<line x1="541.7" y1="36.30" x2="541.7" y2="40.50" stroke="#111" stroke-width="1.2"/>
<circle cx="532.7" cy="38.4" r="0.9" fill="#000"/>
<line x1="458.3" y1="43.0" x2="464.6" y2="43.0" stroke="#666" stroke-width="0.8"/>
<line x1="523.7" y1="43.0" x2="549.0" y2="43.0" stroke="#666" stroke-width="0.8"/>
<rect x="464.6" y="40.90" width="59.10" height="4.2" rx="1.4" fill="#F2F2F2" stroke="#333" stroke-width="0.7"/>
<line x1="491.0" y1="40.90" x2="491.0" y2="45.10" stroke="#111" stroke-width="1.2"/>
<circle cx="497.3" cy="43.0" r="0.9" fill="#000"/>
<line x1="458.3" y1="47.7" x2="465.3" y2="47.7" stroke="#666" stroke-width="0.8"/>
<line x1="550.2" y1="47.7" x2="566.4" y2="47.7" stroke="#666" stroke-width="0.8"/>
<rect x="465.3" y="45.60" width="84.90" height="4.2" rx="1.4" fill="#F39CF3" stroke="#333" stroke-width="0.7"/>
<line x1="498.4" y1="45.60" x2="498.4" y2="49.80" stroke="#111" stroke-width="1.2"/>
<circle cx="506.7" cy="47.7" r="0.9" fill="#000"/>
<text x="397.70" y="305.7" font-size="12.2" text-anchor="middle">-0.5</text>
<text x="332.80" y="234.40" font-size="12.2" text-anchor="end">-0.5</text>
<text x="456.40" y="305.7" font-size="12.2" text-anchor="middle">0.0</text>
<text x="332.80" y="175.70" font-size="12.2" text-anchor="end">0.0</text>
<text x="515.10" y="305.7" font-size="12.2" text-anchor="middle">0.5</text>
<text x="332.80" y="117.00" font-size="12.2" text-anchor="end">0.5</text>
<line x1="77.3" y1="66.90" x2="95.9" y2="66.90" stroke="#F8766D" stroke-width="1.5"/><text x="101.3" y="70.60" font-size="9.9">Harvested area</text><line x1="77.3" y1="79.76" x2="95.9" y2="79.76" stroke="#00BF7D" stroke-width="1.5"/><text x="101.3" y="83.46" font-size="9.9">Production</text><line x1="77.3" y1="92.62" x2="95.9" y2="92.62" stroke="#C9A800" stroke-width="1.5"/><text x="101.3" y="96.32" font-size="9.9">Export</text><line x1="77.3" y1="105.48" x2="95.9" y2="105.48" stroke="#00B0F6" stroke-width="1.5"/><text x="101.3" y="109.18" font-size="9.9">Price</text><line x1="77.3" y1="118.34" x2="95.9" y2="118.34" stroke="#BEBEBE" stroke-width="1.5"/><text x="101.3" y="122.04" font-size="9.9">Import</text><line x1="77.3" y1="131.20" x2="95.9" y2="131.20" stroke="#E76BF3" stroke-width="1.5"/><text x="101.3" y="134.90" font-size="9.9">Consumption</text>
<text x="316.3" y="322.4" font-size="11.82" text-anchor="middle">Correlation coefficient between biophysical shock and economic response</text>
<text transform="translate(9.0,162.2) rotate(-90)" font-size="11.82" text-anchor="middle">Interannual economic response</text>
<text transform="translate(26.4,160.4) rotate(-90)" font-size="11.82" text-anchor="middle">against biophysical shock</text>
</svg>
</body></html>
